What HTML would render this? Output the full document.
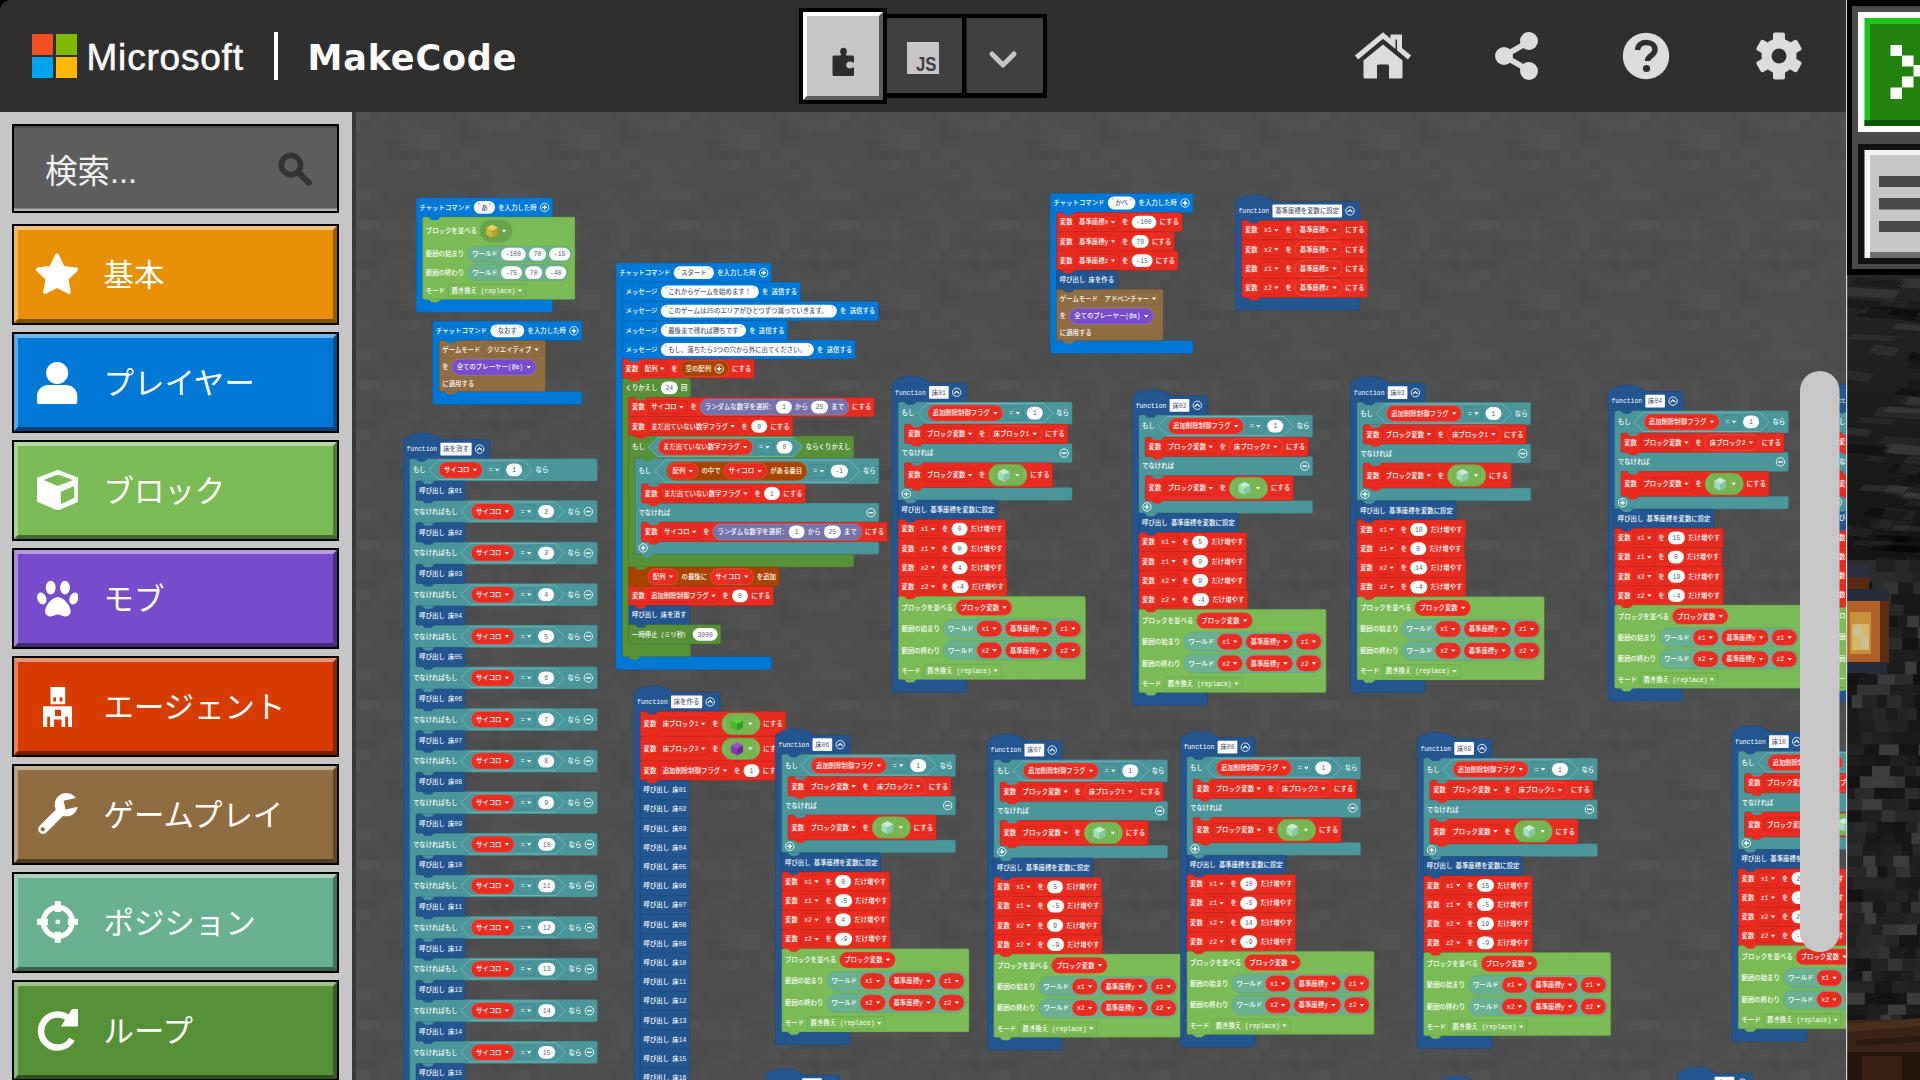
<!DOCTYPE html>
<html lang="ja">
<head>
<meta charset="utf-8">
<title>Microsoft MakeCode for Minecraft</title>
<style>
html,body{margin:0;padding:0;}
body{width:1920px;height:1080px;overflow:hidden;background:#4f4f4f;position:relative;font-family:"Liberation Sans","Noto Sans CJK JP",sans-serif;}
#ws{position:absolute;left:0;top:0;width:1920px;height:1080px;}
#ws text{font-family:"Liberation Mono","Noto Sans CJK JP",monospace;font-size:16px;fill:#fff;font-weight:500;}
#ws text.d{fill:#575e75;}
#ws text.q{fill:#e0554a;font-size:12px;}
#hdr{position:absolute;left:0;top:0;width:1846px;height:112px;background:#2f2f2f;}
#corner{position:absolute;left:0;top:0;width:10px;height:10px;background:radial-gradient(circle at 10px 10px,transparent 9.500px,#000 10px);}
.ms{position:absolute;width:21.400px;height:21px;}
#mstxt{position:absolute;left:86.500px;top:35.500px;font-size:37px;line-height:44px;color:#fff;letter-spacing:0.8px;font-family:"Liberation Sans",sans-serif;-webkit-text-stroke:0.5px #fff;}
#div{position:absolute;left:274px;top:32px;width:3.500px;height:48px;background:#fff;}
#mk{position:absolute;left:307.500px;top:35.500px;letter-spacing:0.85px;font-family:"DejaVu Sans",sans-serif;font-weight:bold;font-size:35px;line-height:44px;color:#fff;}
.hi{position:absolute;}
#side{position:absolute;left:0;top:112px;width:352px;height:968px;background:#c6c6c6;}
#strip{position:absolute;left:352px;top:112px;width:4px;height:968px;background:#393939;}
#search{position:absolute;left:12px;top:12px;width:323px;height:84.800px;border:2.500px solid #000;background:#5e5e5e;box-shadow:inset 0 2px 0 #4b4b4b, inset 0 -2.500px 0 #b2b2b2;}
#search span{position:absolute;left:31px;top:23px;font-size:32.500px;line-height:46px;color:#f0f0f0;font-family:"Liberation Sans","Noto Sans CJK JP",sans-serif;}
.cat{position:absolute;left:12px;width:323px;height:96.700px;border:2.500px solid #000;box-sizing:content-box;}
.cat:before{content:"";position:absolute;left:0;top:0;right:0;bottom:0;border-style:solid;border-width:4px;border-color:rgba(255,255,255,.45) rgba(0,0,0,.35) rgba(0,0,0,.45) rgba(255,255,255,.35);}
.cat span{position:absolute;left:89.600px;top:26.800px;font-size:30.400px;line-height:44px;color:#fff;white-space:nowrap;font-family:"Liberation Sans","Noto Sans CJK JP",sans-serif;}
.cat .ci{position:absolute;left:21px;top:26px;}
#right{position:absolute;left:1846px;top:0;width:74px;height:1080px;}
</style>
</head>
<body>
<svg id="ws" viewBox="0 0 1920 1080">
<defs><pattern id="tex" width="160" height="160" patternUnits="userSpaceOnUse"><rect width="160" height="160" fill="#4e4e4e"/><rect x="0" y="0" width="30" height="10" fill="#fff" opacity="0.01"/><rect x="40" y="0" width="10" height="10" fill="#fff" opacity="0.01"/><rect x="70" y="0" width="10" height="10" fill="#000" opacity="0.01"/><rect x="80" y="0" width="30" height="10" fill="#fff" opacity="0.01"/><rect x="90" y="0" width="10" height="10" fill="#fff" opacity="0.01"/><rect x="110" y="0" width="10" height="10" fill="#000" opacity="0.02"/><rect x="120" y="0" width="30" height="10" fill="#fff" opacity="0.01"/><rect x="150" y="0" width="30" height="10" fill="#000" opacity="0.02"/><rect x="10" y="10" width="10" height="10" fill="#fff" opacity="0.01"/><rect x="20" y="10" width="40" height="10" fill="#fff" opacity="0.01"/><rect x="40" y="10" width="20" height="10" fill="#000" opacity="0.02"/><rect x="150" y="10" width="10" height="10" fill="#fff" opacity="0.01"/><rect x="10" y="20" width="10" height="10" fill="#fff" opacity="0.01"/><rect x="20" y="20" width="20" height="10" fill="#fff" opacity="0.01"/><rect x="30" y="20" width="10" height="10" fill="#000" opacity="0.01"/><rect x="50" y="20" width="30" height="10" fill="#000" opacity="0.01"/><rect x="80" y="20" width="10" height="10" fill="#000" opacity="0.01"/><rect x="130" y="20" width="10" height="10" fill="#000" opacity="0.02"/><rect x="140" y="20" width="20" height="10" fill="#000" opacity="0.02"/><rect x="150" y="20" width="30" height="10" fill="#000" opacity="0.02"/><rect x="0" y="30" width="30" height="10" fill="#fff" opacity="0.01"/><rect x="20" y="30" width="20" height="10" fill="#fff" opacity="0.01"/><rect x="30" y="30" width="20" height="10" fill="#fff" opacity="0.01"/><rect x="40" y="30" width="20" height="10" fill="#fff" opacity="0.02"/><rect x="50" y="30" width="20" height="10" fill="#000" opacity="0.02"/><rect x="80" y="30" width="40" height="10" fill="#000" opacity="0.02"/><rect x="120" y="30" width="20" height="10" fill="#fff" opacity="0.01"/><rect x="130" y="30" width="30" height="10" fill="#000" opacity="0.02"/><rect x="140" y="30" width="10" height="10" fill="#fff" opacity="0.01"/><rect x="150" y="30" width="30" height="10" fill="#000" opacity="0.01"/><rect x="60" y="40" width="40" height="10" fill="#000" opacity="0.02"/><rect x="100" y="40" width="10" height="10" fill="#000" opacity="0.01"/><rect x="130" y="40" width="10" height="10" fill="#fff" opacity="0.01"/><rect x="0" y="50" width="20" height="10" fill="#fff" opacity="0.01"/><rect x="40" y="50" width="20" height="10" fill="#000" opacity="0.02"/><rect x="60" y="50" width="20" height="10" fill="#000" opacity="0.01"/><rect x="70" y="50" width="10" height="10" fill="#000" opacity="0.01"/><rect x="110" y="50" width="40" height="10" fill="#fff" opacity="0.01"/><rect x="20" y="60" width="40" height="10" fill="#fff" opacity="0.01"/><rect x="30" y="60" width="20" height="10" fill="#fff" opacity="0.01"/><rect x="40" y="60" width="40" height="10" fill="#fff" opacity="0.01"/><rect x="90" y="60" width="10" height="10" fill="#fff" opacity="0.01"/><rect x="120" y="60" width="10" height="10" fill="#000" opacity="0.01"/><rect x="140" y="60" width="20" height="10" fill="#fff" opacity="0.02"/><rect x="0" y="70" width="30" height="10" fill="#000" opacity="0.02"/><rect x="10" y="70" width="20" height="10" fill="#fff" opacity="0.01"/><rect x="30" y="70" width="20" height="10" fill="#000" opacity="0.01"/><rect x="60" y="70" width="10" height="10" fill="#fff" opacity="0.01"/><rect x="70" y="70" width="40" height="10" fill="#fff" opacity="0.01"/><rect x="90" y="70" width="10" height="10" fill="#fff" opacity="0.01"/><rect x="110" y="70" width="20" height="10" fill="#000" opacity="0.01"/><rect x="120" y="70" width="10" height="10" fill="#000" opacity="0.01"/><rect x="130" y="70" width="40" height="10" fill="#fff" opacity="0.01"/><rect x="140" y="70" width="10" height="10" fill="#fff" opacity="0.01"/><rect x="150" y="70" width="40" height="10" fill="#000" opacity="0.02"/><rect x="0" y="80" width="10" height="10" fill="#000" opacity="0.02"/><rect x="10" y="80" width="20" height="10" fill="#000" opacity="0.02"/><rect x="30" y="80" width="40" height="10" fill="#000" opacity="0.02"/><rect x="40" y="80" width="10" height="10" fill="#fff" opacity="0.01"/><rect x="70" y="80" width="10" height="10" fill="#000" opacity="0.02"/><rect x="80" y="80" width="30" height="10" fill="#000" opacity="0.02"/><rect x="90" y="80" width="20" height="10" fill="#fff" opacity="0.01"/><rect x="130" y="80" width="20" height="10" fill="#fff" opacity="0.01"/><rect x="140" y="80" width="30" height="10" fill="#fff" opacity="0.01"/><rect x="150" y="80" width="10" height="10" fill="#000" opacity="0.02"/><rect x="0" y="90" width="10" height="10" fill="#fff" opacity="0.01"/><rect x="20" y="90" width="10" height="10" fill="#fff" opacity="0.01"/><rect x="50" y="90" width="40" height="10" fill="#000" opacity="0.03"/><rect x="70" y="90" width="30" height="10" fill="#fff" opacity="0.01"/><rect x="120" y="90" width="10" height="10" fill="#fff" opacity="0.01"/><rect x="130" y="90" width="10" height="10" fill="#fff" opacity="0.01"/><rect x="150" y="90" width="30" height="10" fill="#fff" opacity="0.01"/><rect x="0" y="100" width="20" height="10" fill="#000" opacity="0.03"/><rect x="10" y="100" width="10" height="10" fill="#000" opacity="0.03"/><rect x="20" y="100" width="40" height="10" fill="#000" opacity="0.03"/><rect x="30" y="100" width="30" height="10" fill="#000" opacity="0.02"/><rect x="70" y="100" width="20" height="10" fill="#fff" opacity="0.01"/><rect x="110" y="100" width="10" height="10" fill="#fff" opacity="0.01"/><rect x="30" y="110" width="20" height="10" fill="#fff" opacity="0.01"/><rect x="40" y="110" width="30" height="10" fill="#fff" opacity="0.01"/><rect x="50" y="110" width="10" height="10" fill="#000" opacity="0.02"/><rect x="130" y="110" width="10" height="10" fill="#000" opacity="0.02"/><rect x="150" y="110" width="10" height="10" fill="#fff" opacity="0.01"/><rect x="0" y="120" width="10" height="10" fill="#fff" opacity="0.01"/><rect x="10" y="120" width="30" height="10" fill="#fff" opacity="0.01"/><rect x="30" y="120" width="10" height="10" fill="#fff" opacity="0.01"/><rect x="40" y="120" width="40" height="10" fill="#000" opacity="0.02"/><rect x="50" y="120" width="20" height="10" fill="#fff" opacity="0.01"/><rect x="60" y="120" width="20" height="10" fill="#000" opacity="0.02"/><rect x="80" y="120" width="20" height="10" fill="#fff" opacity="0.01"/><rect x="90" y="120" width="10" height="10" fill="#000" opacity="0.01"/><rect x="110" y="120" width="30" height="10" fill="#000" opacity="0.01"/><rect x="140" y="120" width="30" height="10" fill="#000" opacity="0.02"/><rect x="150" y="120" width="40" height="10" fill="#fff" opacity="0.01"/><rect x="10" y="130" width="40" height="10" fill="#000" opacity="0.02"/><rect x="30" y="130" width="20" height="10" fill="#fff" opacity="0.01"/><rect x="60" y="130" width="40" height="10" fill="#000" opacity="0.01"/><rect x="80" y="130" width="40" height="10" fill="#fff" opacity="0.01"/><rect x="90" y="130" width="20" height="10" fill="#fff" opacity="0.01"/><rect x="110" y="130" width="30" height="10" fill="#fff" opacity="0.01"/><rect x="120" y="130" width="40" height="10" fill="#000" opacity="0.02"/><rect x="130" y="130" width="20" height="10" fill="#000" opacity="0.02"/><rect x="140" y="130" width="20" height="10" fill="#000" opacity="0.02"/><rect x="20" y="140" width="10" height="10" fill="#000" opacity="0.01"/><rect x="30" y="140" width="10" height="10" fill="#000" opacity="0.01"/><rect x="60" y="140" width="20" height="10" fill="#000" opacity="0.03"/><rect x="70" y="140" width="10" height="10" fill="#000" opacity="0.01"/><rect x="90" y="140" width="30" height="10" fill="#fff" opacity="0.01"/><rect x="100" y="140" width="40" height="10" fill="#fff" opacity="0.01"/><rect x="120" y="140" width="40" height="10" fill="#000" opacity="0.02"/><rect x="60" y="150" width="30" height="10" fill="#000" opacity="0.01"/><rect x="70" y="150" width="30" height="10" fill="#000" opacity="0.02"/><rect x="80" y="150" width="40" height="10" fill="#000" opacity="0.02"/><rect x="120" y="150" width="10" height="10" fill="#fff" opacity="0.01"/><rect x="130" y="150" width="10" height="10" fill="#000" opacity="0.02"/><rect x="140" y="150" width="30" height="10" fill="#fff" opacity="0.02"/></pattern>
<clipPath id="wsclip"><rect x="356" y="112" width="1490" height="968"/></clipPath>
</defs>
<rect x="356" y="112" width="1490" height="968" fill="url(#tex)"/>
<g clip-path="url(#wsclip)">
<g transform="scale(0.4)">
<path d="M1040.5,498.5 a4,4 0 0 1 4,-4 H1377.5 a4,4 0 0 1 4,4 V538.5 a4,4 0 0 1 -4,4 H1060.5 a4,4 0 0 0 -4,4 V744.5 a4,4 0 0 0 4,4 H1377.5 a4,4 0 0 1 4,4 V776.5 a4,4 0 0 1 -4,4 H1044.5 a4,4 0 0 1 -4,-4 z" fill="#0078d7" stroke="#0060ac" stroke-width="1"/>
<text x="1048.5" y="524.1">チャットコマンド</text>
<rect x="1184.5" y="502.5" width="53" height="32" rx="16" fill="#fff"/>
<text x="1203" y="524.1" class="d">あ</text>
<text x="1193.5" y="516.5" class="q">"</text>
<text x="1222.5" y="516.5" class="q">"</text>
<text x="1245.5" y="524.1">を入力した時</text>
<circle cx="1361.5" cy="518.5" r="10.5" fill="none" stroke="#fff" stroke-width="2.2"/>
<path d="M1355.5,518.5 h12 M1361.5,512.5 v12" stroke="#fff" stroke-width="3.6" fill="none"/>
<rect x="1056.5" y="542.5" width="380.9" height="206" rx="4" fill="#7abb55" stroke="#629644" stroke-width="1"/>
<text x="1064.5" y="583.1">ブロックを並べる</text>
<rect x="1200.5" y="550.5" width="80" height="54" rx="27" fill="#6aa34a" stroke="#689f48" stroke-width="1"/>
<path d="M1215.5,569.5 l15,-8 l15,8 l-15,8 z" fill="#e6d552"/>
<path d="M1215.5,569.5 l15,8 v17 l-15,-8 z" fill="#cdb93c"/>
<path d="M1230.5,577.5 l15,-8 v17 l-15,8 z" fill="#b8a22a"/>
<path d="M1254.5,574.5 h11 l-5.5,6.5 z" fill="#fff"/>
<text x="1064.5" y="641.1">範囲の始まり</text>
<rect x="1168.5" y="615.5" width="260.9" height="40" rx="20" fill="#69b090" stroke="#5a9c7e" stroke-width="1"/>
<text x="1180.5" y="641.1">ワールド</text>
<rect x="1252.5" y="619.5" width="61.9" height="32" rx="16" fill="#fff"/>
<text x="1283.45" y="641.1" text-anchor="middle" class="d">-100</text>
<rect x="1322.4" y="619.5" width="42.7" height="32" rx="16" fill="#fff"/>
<text x="1343.75" y="641.1" text-anchor="middle" class="d">70</text>
<rect x="1373.1" y="619.5" width="52.3" height="32" rx="16" fill="#fff"/>
<text x="1399.25" y="641.1" text-anchor="middle" class="d">-15</text>
<text x="1064.5" y="687.1">範囲の終わり</text>
<rect x="1168.5" y="661.5" width="251.3" height="40" rx="20" fill="#69b090" stroke="#5a9c7e" stroke-width="1"/>
<text x="1180.5" y="687.1">ワールド</text>
<rect x="1252.5" y="665.5" width="52.3" height="32" rx="16" fill="#fff"/>
<text x="1278.65" y="687.1" text-anchor="middle" class="d">-75</text>
<rect x="1312.8" y="665.5" width="42.7" height="32" rx="16" fill="#fff"/>
<text x="1334.15" y="687.1" text-anchor="middle" class="d">70</text>
<rect x="1363.5" y="665.5" width="52.3" height="32" rx="16" fill="#fff"/>
<text x="1389.65" y="687.1" text-anchor="middle" class="d">-40</text>
<text x="1064.5" y="732.1">モード</text>
<rect x="1120.5" y="710.5" width="194" height="32" rx="4" fill="none" stroke="#649946" stroke-width="1.2"/>
<text x="1128.5" y="732.1">置き換え (replace)</text>
<path d="M1294.5,723.5 h11 l-5.5,6.5 z" fill="#fff"/>
<path d="M1081.75,807 a4,4 0 0 1 4,-4 H1450.75 a4,4 0 0 1 4,4 V847 a4,4 0 0 1 -4,4 H1101.75 a4,4 0 0 0 -4,4 V975 a4,4 0 0 0 4,4 H1450.75 a4,4 0 0 1 4,4 V1007 a4,4 0 0 1 -4,4 H1085.75 a4,4 0 0 1 -4,-4 z" fill="#0078d7" stroke="#0060ac" stroke-width="1"/>
<text x="1089.75" y="832.6">チャットコマンド</text>
<rect x="1225.75" y="811" width="85" height="32" rx="16" fill="#fff"/>
<text x="1244.25" y="832.6" class="d">なおす</text>
<text x="1234.75" y="825" class="q">"</text>
<text x="1295.75" y="825" class="q">"</text>
<text x="1318.75" y="832.6">を入力した時</text>
<circle cx="1434.75" cy="827" r="10.5" fill="none" stroke="#fff" stroke-width="2.2"/>
<path d="M1428.75,827 h12 M1434.75,821 v12" stroke="#fff" stroke-width="3.6" fill="none"/>
<rect x="1097.75" y="851" width="266" height="128" rx="4" fill="#8f6d40" stroke="#725733" stroke-width="1"/>
<text x="1105.75" y="879.6">ゲームモード</text>
<rect x="1209.75" y="858" width="146" height="32" rx="4" fill="none" stroke="#755934" stroke-width="1.2"/>
<text x="1217.75" y="879.6">クリエイティブ</text>
<path d="M1335.75,871 h11 l-5.5,6.5 z" fill="#fff"/>
<text x="1105.75" y="923.6">を</text>
<rect x="1129.75" y="898" width="210.4" height="40" rx="20" fill="#764bcc" stroke="#a68ade" stroke-width="1"/>
<text x="1141.75" y="923.6">全てのプレーヤー(@a)</text>
<path d="M1316.15,915 h11 l-5.5,6.5 z" fill="#fff"/>
<text x="1105.75" y="964.6">に適用する</text>
<path d="M1008.25,1098.75 c25,-22 71,-22 96,0 H1220.05 a4,4 0 0 1 4,4 V1142.75 a4,4 0 0 1 -4,4 H1028.25 a4,4 0 0 0 -4,4 V3774.75 a4,4 0 0 0 4,4 H1220.05 a4,4 0 0 1 4,4 V3806.75 a4,4 0 0 1 -4,4 H1012.25 a4,4 0 0 1 -4,-4 z" fill="#235591" stroke="#1c4474" stroke-width="1"/>
<text x="1016.25" y="1128.35">function</text>
<rect x="1101.05" y="1106.75" width="78" height="32" rx="2" fill="#fff"/>
<text x="1108.05" y="1128.35" class="d">床を消す</text>
<circle cx="1199.05" cy="1122.75" r="10.5" fill="none" stroke="#fff" stroke-width="2.2"/>
<path d="M1193.05,1125.75 l6,-6 l6,6" stroke="#fff" stroke-width="3" fill="none"/>
<path d="M1024.25,1150.75 a4,4 0 0 1 4,-4 H1489.55 a4,4 0 0 1 4,4 V1198.75 a4,4 0 0 1 -4,4 H1044.25 a4,4 0 0 0 -4,4 V1246.75 a4,4 0 0 0 4,4 H1489.55 a4,4 0 0 1 4,4 V1302.75 a4,4 0 0 1 -4,4 H1044.25 a4,4 0 0 0 -4,4 V1350.75 a4,4 0 0 0 4,4 H1489.55 a4,4 0 0 1 4,4 V1406.75 a4,4 0 0 1 -4,4 H1044.25 a4,4 0 0 0 -4,4 V1454.75 a4,4 0 0 0 4,4 H1489.55 a4,4 0 0 1 4,4 V1510.75 a4,4 0 0 1 -4,4 H1044.25 a4,4 0 0 0 -4,4 V1558.75 a4,4 0 0 0 4,4 H1489.55 a4,4 0 0 1 4,4 V1614.75 a4,4 0 0 1 -4,4 H1044.25 a4,4 0 0 0 -4,4 V1662.75 a4,4 0 0 0 4,4 H1489.55 a4,4 0 0 1 4,4 V1718.75 a4,4 0 0 1 -4,4 H1044.25 a4,4 0 0 0 -4,4 V1766.75 a4,4 0 0 0 4,4 H1489.55 a4,4 0 0 1 4,4 V1822.75 a4,4 0 0 1 -4,4 H1044.25 a4,4 0 0 0 -4,4 V1870.75 a4,4 0 0 0 4,4 H1489.55 a4,4 0 0 1 4,4 V1926.75 a4,4 0 0 1 -4,4 H1044.25 a4,4 0 0 0 -4,4 V1974.75 a4,4 0 0 0 4,4 H1489.55 a4,4 0 0 1 4,4 V2030.75 a4,4 0 0 1 -4,4 H1044.25 a4,4 0 0 0 -4,4 V2078.75 a4,4 0 0 0 4,4 H1489.55 a4,4 0 0 1 4,4 V2134.75 a4,4 0 0 1 -4,4 H1044.25 a4,4 0 0 0 -4,4 V2182.75 a4,4 0 0 0 4,4 H1489.55 a4,4 0 0 1 4,4 V2238.75 a4,4 0 0 1 -4,4 H1044.25 a4,4 0 0 0 -4,4 V2286.75 a4,4 0 0 0 4,4 H1489.55 a4,4 0 0 1 4,4 V2342.75 a4,4 0 0 1 -4,4 H1044.25 a4,4 0 0 0 -4,4 V2390.75 a4,4 0 0 0 4,4 H1489.55 a4,4 0 0 1 4,4 V2446.75 a4,4 0 0 1 -4,4 H1044.25 a4,4 0 0 0 -4,4 V2494.75 a4,4 0 0 0 4,4 H1489.55 a4,4 0 0 1 4,4 V2550.75 a4,4 0 0 1 -4,4 H1044.25 a4,4 0 0 0 -4,4 V2598.75 a4,4 0 0 0 4,4 H1489.55 a4,4 0 0 1 4,4 V2654.75 a4,4 0 0 1 -4,4 H1044.25 a4,4 0 0 0 -4,4 V2702.75 a4,4 0 0 0 4,4 H1489.55 a4,4 0 0 1 4,4 V2758.75 a4,4 0 0 1 -4,4 H1044.25 a4,4 0 0 0 -4,4 V2806.75 a4,4 0 0 0 4,4 H1489.55 a4,4 0 0 1 4,4 V2862.75 a4,4 0 0 1 -4,4 H1044.25 a4,4 0 0 0 -4,4 V2910.75 a4,4 0 0 0 4,4 H1489.55 a4,4 0 0 1 4,4 V2966.75 a4,4 0 0 1 -4,4 H1044.25 a4,4 0 0 0 -4,4 V3014.75 a4,4 0 0 0 4,4 H1489.55 a4,4 0 0 1 4,4 V3070.75 a4,4 0 0 1 -4,4 H1044.25 a4,4 0 0 0 -4,4 V3118.75 a4,4 0 0 0 4,4 H1489.55 a4,4 0 0 1 4,4 V3174.75 a4,4 0 0 1 -4,4 H1044.25 a4,4 0 0 0 -4,4 V3222.75 a4,4 0 0 0 4,4 H1489.55 a4,4 0 0 1 4,4 V3278.75 a4,4 0 0 1 -4,4 H1044.25 a4,4 0 0 0 -4,4 V3326.75 a4,4 0 0 0 4,4 H1489.55 a4,4 0 0 1 4,4 V3382.75 a4,4 0 0 1 -4,4 H1044.25 a4,4 0 0 0 -4,4 V3430.75 a4,4 0 0 0 4,4 H1489.55 a4,4 0 0 1 4,4 V3486.75 a4,4 0 0 1 -4,4 H1044.25 a4,4 0 0 0 -4,4 V3534.75 a4,4 0 0 0 4,4 H1489.55 a4,4 0 0 1 4,4 V3590.75 a4,4 0 0 1 -4,4 H1044.25 a4,4 0 0 0 -4,4 V3638.75 a4,4 0 0 0 4,4 H1489.55 a4,4 0 0 1 4,4 V3694.75 a4,4 0 0 1 -4,4 H1044.25 a4,4 0 0 0 -4,4 V3742.75 a4,4 0 0 0 4,4 H1489.55 a4,4 0 0 1 4,4 V3774.75 a4,4 0 0 1 -4,4 H1028.25 a4,4 0 0 1 -4,-4 z" fill="#4b969b" stroke="#3c787c" stroke-width="1"/>
<text x="1032.25" y="1180.35">もし</text>
<path d="M1072.25,1174.75 l24,-24 H1306.85 l24,24 l-24,24 H1096.25 z" fill="#4b969b" stroke="#8cc6ca" stroke-width="1.5"/>
<rect x="1097.75" y="1154.75" width="108" height="40" rx="20" fill="#ea2b1f" stroke="#f1756d" stroke-width="1"/>
<text x="1109.75" y="1180.35">サイコロ</text>
<path d="M1181.75,1171.75 h11 l-5.5,6.5 z" fill="#fff"/>
<rect x="1213.75" y="1158.75" width="43.6" height="32" rx="4" fill="none" stroke="#3e7b7f" stroke-width="1.2"/>
<text x="1221.75" y="1180.35">=</text>
<path d="M1237.35,1171.75 h11 l-5.5,6.5 z" fill="#fff"/>
<rect x="1265.35" y="1158.75" width="40" height="32" rx="16" fill="#fff"/>
<text x="1285.35" y="1180.35" text-anchor="middle" class="d">1</text>
<text x="1338.85" y="1180.35">なら</text>
<rect x="1040.25" y="1202.75" width="123.2" height="48" rx="4" fill="#235591" stroke="#1c4474" stroke-width="1"/>
<text x="1048.25" y="1232.35">呼び出し</text>
<text x="1120.25" y="1232.35">床01</text>
<text x="1032.25" y="1284.35">でなければもし</text>
<path d="M1152.25,1278.75 l24,-24 H1386.85 l24,24 l-24,24 H1176.25 z" fill="#4b969b" stroke="#8cc6ca" stroke-width="1.5"/>
<rect x="1177.75" y="1258.75" width="108" height="40" rx="20" fill="#ea2b1f" stroke="#f1756d" stroke-width="1"/>
<text x="1189.75" y="1284.35">サイコロ</text>
<path d="M1261.75,1275.75 h11 l-5.5,6.5 z" fill="#fff"/>
<rect x="1293.75" y="1262.75" width="43.6" height="32" rx="4" fill="none" stroke="#3e7b7f" stroke-width="1.2"/>
<text x="1301.75" y="1284.35">=</text>
<path d="M1317.35,1275.75 h11 l-5.5,6.5 z" fill="#fff"/>
<rect x="1345.35" y="1262.75" width="40" height="32" rx="16" fill="#fff"/>
<text x="1365.35" y="1284.35" text-anchor="middle" class="d">2</text>
<text x="1418.85" y="1284.35">なら</text>
<circle cx="1470.85" cy="1278.75" r="10.5" fill="none" stroke="#fff" stroke-width="2.2"/>
<path d="M1464.85,1278.75 h12" stroke="#fff" stroke-width="3.6" fill="none"/>
<rect x="1040.25" y="1306.75" width="123.2" height="48" rx="4" fill="#235591" stroke="#1c4474" stroke-width="1"/>
<text x="1048.25" y="1336.35">呼び出し</text>
<text x="1120.25" y="1336.35">床02</text>
<text x="1032.25" y="1388.35">でなければもし</text>
<path d="M1152.25,1382.75 l24,-24 H1386.85 l24,24 l-24,24 H1176.25 z" fill="#4b969b" stroke="#8cc6ca" stroke-width="1.5"/>
<rect x="1177.75" y="1362.75" width="108" height="40" rx="20" fill="#ea2b1f" stroke="#f1756d" stroke-width="1"/>
<text x="1189.75" y="1388.35">サイコロ</text>
<path d="M1261.75,1379.75 h11 l-5.5,6.5 z" fill="#fff"/>
<rect x="1293.75" y="1366.75" width="43.6" height="32" rx="4" fill="none" stroke="#3e7b7f" stroke-width="1.2"/>
<text x="1301.75" y="1388.35">=</text>
<path d="M1317.35,1379.75 h11 l-5.5,6.5 z" fill="#fff"/>
<rect x="1345.35" y="1366.75" width="40" height="32" rx="16" fill="#fff"/>
<text x="1365.35" y="1388.35" text-anchor="middle" class="d">3</text>
<text x="1418.85" y="1388.35">なら</text>
<circle cx="1470.85" cy="1382.75" r="10.5" fill="none" stroke="#fff" stroke-width="2.2"/>
<path d="M1464.85,1382.75 h12" stroke="#fff" stroke-width="3.6" fill="none"/>
<rect x="1040.25" y="1410.75" width="123.2" height="48" rx="4" fill="#235591" stroke="#1c4474" stroke-width="1"/>
<text x="1048.25" y="1440.35">呼び出し</text>
<text x="1120.25" y="1440.35">床03</text>
<text x="1032.25" y="1492.35">でなければもし</text>
<path d="M1152.25,1486.75 l24,-24 H1386.85 l24,24 l-24,24 H1176.25 z" fill="#4b969b" stroke="#8cc6ca" stroke-width="1.5"/>
<rect x="1177.75" y="1466.75" width="108" height="40" rx="20" fill="#ea2b1f" stroke="#f1756d" stroke-width="1"/>
<text x="1189.75" y="1492.35">サイコロ</text>
<path d="M1261.75,1483.75 h11 l-5.5,6.5 z" fill="#fff"/>
<rect x="1293.75" y="1470.75" width="43.6" height="32" rx="4" fill="none" stroke="#3e7b7f" stroke-width="1.2"/>
<text x="1301.75" y="1492.35">=</text>
<path d="M1317.35,1483.75 h11 l-5.5,6.5 z" fill="#fff"/>
<rect x="1345.35" y="1470.75" width="40" height="32" rx="16" fill="#fff"/>
<text x="1365.35" y="1492.35" text-anchor="middle" class="d">4</text>
<text x="1418.85" y="1492.35">なら</text>
<circle cx="1470.85" cy="1486.75" r="10.5" fill="none" stroke="#fff" stroke-width="2.2"/>
<path d="M1464.85,1486.75 h12" stroke="#fff" stroke-width="3.6" fill="none"/>
<rect x="1040.25" y="1514.75" width="123.2" height="48" rx="4" fill="#235591" stroke="#1c4474" stroke-width="1"/>
<text x="1048.25" y="1544.35">呼び出し</text>
<text x="1120.25" y="1544.35">床04</text>
<text x="1032.25" y="1596.35">でなければもし</text>
<path d="M1152.25,1590.75 l24,-24 H1386.85 l24,24 l-24,24 H1176.25 z" fill="#4b969b" stroke="#8cc6ca" stroke-width="1.5"/>
<rect x="1177.75" y="1570.75" width="108" height="40" rx="20" fill="#ea2b1f" stroke="#f1756d" stroke-width="1"/>
<text x="1189.75" y="1596.35">サイコロ</text>
<path d="M1261.75,1587.75 h11 l-5.5,6.5 z" fill="#fff"/>
<rect x="1293.75" y="1574.75" width="43.6" height="32" rx="4" fill="none" stroke="#3e7b7f" stroke-width="1.2"/>
<text x="1301.75" y="1596.35">=</text>
<path d="M1317.35,1587.75 h11 l-5.5,6.5 z" fill="#fff"/>
<rect x="1345.35" y="1574.75" width="40" height="32" rx="16" fill="#fff"/>
<text x="1365.35" y="1596.35" text-anchor="middle" class="d">5</text>
<text x="1418.85" y="1596.35">なら</text>
<circle cx="1470.85" cy="1590.75" r="10.5" fill="none" stroke="#fff" stroke-width="2.2"/>
<path d="M1464.85,1590.75 h12" stroke="#fff" stroke-width="3.6" fill="none"/>
<rect x="1040.25" y="1618.75" width="123.2" height="48" rx="4" fill="#235591" stroke="#1c4474" stroke-width="1"/>
<text x="1048.25" y="1648.35">呼び出し</text>
<text x="1120.25" y="1648.35">床05</text>
<text x="1032.25" y="1700.35">でなければもし</text>
<path d="M1152.25,1694.75 l24,-24 H1386.85 l24,24 l-24,24 H1176.25 z" fill="#4b969b" stroke="#8cc6ca" stroke-width="1.5"/>
<rect x="1177.75" y="1674.75" width="108" height="40" rx="20" fill="#ea2b1f" stroke="#f1756d" stroke-width="1"/>
<text x="1189.75" y="1700.35">サイコロ</text>
<path d="M1261.75,1691.75 h11 l-5.5,6.5 z" fill="#fff"/>
<rect x="1293.75" y="1678.75" width="43.6" height="32" rx="4" fill="none" stroke="#3e7b7f" stroke-width="1.2"/>
<text x="1301.75" y="1700.35">=</text>
<path d="M1317.35,1691.75 h11 l-5.5,6.5 z" fill="#fff"/>
<rect x="1345.35" y="1678.75" width="40" height="32" rx="16" fill="#fff"/>
<text x="1365.35" y="1700.35" text-anchor="middle" class="d">6</text>
<text x="1418.85" y="1700.35">なら</text>
<circle cx="1470.85" cy="1694.75" r="10.5" fill="none" stroke="#fff" stroke-width="2.2"/>
<path d="M1464.85,1694.75 h12" stroke="#fff" stroke-width="3.6" fill="none"/>
<rect x="1040.25" y="1722.75" width="123.2" height="48" rx="4" fill="#235591" stroke="#1c4474" stroke-width="1"/>
<text x="1048.25" y="1752.35">呼び出し</text>
<text x="1120.25" y="1752.35">床06</text>
<text x="1032.25" y="1804.35">でなければもし</text>
<path d="M1152.25,1798.75 l24,-24 H1386.85 l24,24 l-24,24 H1176.25 z" fill="#4b969b" stroke="#8cc6ca" stroke-width="1.5"/>
<rect x="1177.75" y="1778.75" width="108" height="40" rx="20" fill="#ea2b1f" stroke="#f1756d" stroke-width="1"/>
<text x="1189.75" y="1804.35">サイコロ</text>
<path d="M1261.75,1795.75 h11 l-5.5,6.5 z" fill="#fff"/>
<rect x="1293.75" y="1782.75" width="43.6" height="32" rx="4" fill="none" stroke="#3e7b7f" stroke-width="1.2"/>
<text x="1301.75" y="1804.35">=</text>
<path d="M1317.35,1795.75 h11 l-5.5,6.5 z" fill="#fff"/>
<rect x="1345.35" y="1782.75" width="40" height="32" rx="16" fill="#fff"/>
<text x="1365.35" y="1804.35" text-anchor="middle" class="d">7</text>
<text x="1418.85" y="1804.35">なら</text>
<circle cx="1470.85" cy="1798.75" r="10.5" fill="none" stroke="#fff" stroke-width="2.2"/>
<path d="M1464.85,1798.75 h12" stroke="#fff" stroke-width="3.6" fill="none"/>
<rect x="1040.25" y="1826.75" width="123.2" height="48" rx="4" fill="#235591" stroke="#1c4474" stroke-width="1"/>
<text x="1048.25" y="1856.35">呼び出し</text>
<text x="1120.25" y="1856.35">床07</text>
<text x="1032.25" y="1908.35">でなければもし</text>
<path d="M1152.25,1902.75 l24,-24 H1386.85 l24,24 l-24,24 H1176.25 z" fill="#4b969b" stroke="#8cc6ca" stroke-width="1.5"/>
<rect x="1177.75" y="1882.75" width="108" height="40" rx="20" fill="#ea2b1f" stroke="#f1756d" stroke-width="1"/>
<text x="1189.75" y="1908.35">サイコロ</text>
<path d="M1261.75,1899.75 h11 l-5.5,6.5 z" fill="#fff"/>
<rect x="1293.75" y="1886.75" width="43.6" height="32" rx="4" fill="none" stroke="#3e7b7f" stroke-width="1.2"/>
<text x="1301.75" y="1908.35">=</text>
<path d="M1317.35,1899.75 h11 l-5.5,6.5 z" fill="#fff"/>
<rect x="1345.35" y="1886.75" width="40" height="32" rx="16" fill="#fff"/>
<text x="1365.35" y="1908.35" text-anchor="middle" class="d">8</text>
<text x="1418.85" y="1908.35">なら</text>
<circle cx="1470.85" cy="1902.75" r="10.5" fill="none" stroke="#fff" stroke-width="2.2"/>
<path d="M1464.85,1902.75 h12" stroke="#fff" stroke-width="3.6" fill="none"/>
<rect x="1040.25" y="1930.75" width="123.2" height="48" rx="4" fill="#235591" stroke="#1c4474" stroke-width="1"/>
<text x="1048.25" y="1960.35">呼び出し</text>
<text x="1120.25" y="1960.35">床08</text>
<text x="1032.25" y="2012.35">でなければもし</text>
<path d="M1152.25,2006.75 l24,-24 H1386.85 l24,24 l-24,24 H1176.25 z" fill="#4b969b" stroke="#8cc6ca" stroke-width="1.5"/>
<rect x="1177.75" y="1986.75" width="108" height="40" rx="20" fill="#ea2b1f" stroke="#f1756d" stroke-width="1"/>
<text x="1189.75" y="2012.35">サイコロ</text>
<path d="M1261.75,2003.75 h11 l-5.5,6.5 z" fill="#fff"/>
<rect x="1293.75" y="1990.75" width="43.6" height="32" rx="4" fill="none" stroke="#3e7b7f" stroke-width="1.2"/>
<text x="1301.75" y="2012.35">=</text>
<path d="M1317.35,2003.75 h11 l-5.5,6.5 z" fill="#fff"/>
<rect x="1345.35" y="1990.75" width="40" height="32" rx="16" fill="#fff"/>
<text x="1365.35" y="2012.35" text-anchor="middle" class="d">9</text>
<text x="1418.85" y="2012.35">なら</text>
<circle cx="1470.85" cy="2006.75" r="10.5" fill="none" stroke="#fff" stroke-width="2.2"/>
<path d="M1464.85,2006.75 h12" stroke="#fff" stroke-width="3.6" fill="none"/>
<rect x="1040.25" y="2034.75" width="123.2" height="48" rx="4" fill="#235591" stroke="#1c4474" stroke-width="1"/>
<text x="1048.25" y="2064.35">呼び出し</text>
<text x="1120.25" y="2064.35">床09</text>
<text x="1032.25" y="2116.35">でなければもし</text>
<path d="M1152.25,2110.75 l24,-24 H1389.55 l24,24 l-24,24 H1176.25 z" fill="#4b969b" stroke="#8cc6ca" stroke-width="1.5"/>
<rect x="1177.75" y="2090.75" width="108" height="40" rx="20" fill="#ea2b1f" stroke="#f1756d" stroke-width="1"/>
<text x="1189.75" y="2116.35">サイコロ</text>
<path d="M1261.75,2107.75 h11 l-5.5,6.5 z" fill="#fff"/>
<rect x="1293.75" y="2094.75" width="43.6" height="32" rx="4" fill="none" stroke="#3e7b7f" stroke-width="1.2"/>
<text x="1301.75" y="2116.35">=</text>
<path d="M1317.35,2107.75 h11 l-5.5,6.5 z" fill="#fff"/>
<rect x="1345.35" y="2094.75" width="42.7" height="32" rx="16" fill="#fff"/>
<text x="1366.7" y="2116.35" text-anchor="middle" class="d">10</text>
<text x="1421.55" y="2116.35">なら</text>
<circle cx="1473.55" cy="2110.75" r="10.5" fill="none" stroke="#fff" stroke-width="2.2"/>
<path d="M1467.55,2110.75 h12" stroke="#fff" stroke-width="3.6" fill="none"/>
<rect x="1040.25" y="2138.75" width="123.2" height="48" rx="4" fill="#235591" stroke="#1c4474" stroke-width="1"/>
<text x="1048.25" y="2168.35">呼び出し</text>
<text x="1120.25" y="2168.35">床10</text>
<text x="1032.25" y="2220.35">でなければもし</text>
<path d="M1152.25,2214.75 l24,-24 H1389.55 l24,24 l-24,24 H1176.25 z" fill="#4b969b" stroke="#8cc6ca" stroke-width="1.5"/>
<rect x="1177.75" y="2194.75" width="108" height="40" rx="20" fill="#ea2b1f" stroke="#f1756d" stroke-width="1"/>
<text x="1189.75" y="2220.35">サイコロ</text>
<path d="M1261.75,2211.75 h11 l-5.5,6.5 z" fill="#fff"/>
<rect x="1293.75" y="2198.75" width="43.6" height="32" rx="4" fill="none" stroke="#3e7b7f" stroke-width="1.2"/>
<text x="1301.75" y="2220.35">=</text>
<path d="M1317.35,2211.75 h11 l-5.5,6.5 z" fill="#fff"/>
<rect x="1345.35" y="2198.75" width="42.7" height="32" rx="16" fill="#fff"/>
<text x="1366.7" y="2220.35" text-anchor="middle" class="d">11</text>
<text x="1421.55" y="2220.35">なら</text>
<circle cx="1473.55" cy="2214.75" r="10.5" fill="none" stroke="#fff" stroke-width="2.2"/>
<path d="M1467.55,2214.75 h12" stroke="#fff" stroke-width="3.6" fill="none"/>
<rect x="1040.25" y="2242.75" width="123.2" height="48" rx="4" fill="#235591" stroke="#1c4474" stroke-width="1"/>
<text x="1048.25" y="2272.35">呼び出し</text>
<text x="1120.25" y="2272.35">床11</text>
<text x="1032.25" y="2324.35">でなければもし</text>
<path d="M1152.25,2318.75 l24,-24 H1389.55 l24,24 l-24,24 H1176.25 z" fill="#4b969b" stroke="#8cc6ca" stroke-width="1.5"/>
<rect x="1177.75" y="2298.75" width="108" height="40" rx="20" fill="#ea2b1f" stroke="#f1756d" stroke-width="1"/>
<text x="1189.75" y="2324.35">サイコロ</text>
<path d="M1261.75,2315.75 h11 l-5.5,6.5 z" fill="#fff"/>
<rect x="1293.75" y="2302.75" width="43.6" height="32" rx="4" fill="none" stroke="#3e7b7f" stroke-width="1.2"/>
<text x="1301.75" y="2324.35">=</text>
<path d="M1317.35,2315.75 h11 l-5.5,6.5 z" fill="#fff"/>
<rect x="1345.35" y="2302.75" width="42.7" height="32" rx="16" fill="#fff"/>
<text x="1366.7" y="2324.35" text-anchor="middle" class="d">12</text>
<text x="1421.55" y="2324.35">なら</text>
<circle cx="1473.55" cy="2318.75" r="10.5" fill="none" stroke="#fff" stroke-width="2.2"/>
<path d="M1467.55,2318.75 h12" stroke="#fff" stroke-width="3.6" fill="none"/>
<rect x="1040.25" y="2346.75" width="123.2" height="48" rx="4" fill="#235591" stroke="#1c4474" stroke-width="1"/>
<text x="1048.25" y="2376.35">呼び出し</text>
<text x="1120.25" y="2376.35">床12</text>
<text x="1032.25" y="2428.35">でなければもし</text>
<path d="M1152.25,2422.75 l24,-24 H1389.55 l24,24 l-24,24 H1176.25 z" fill="#4b969b" stroke="#8cc6ca" stroke-width="1.5"/>
<rect x="1177.75" y="2402.75" width="108" height="40" rx="20" fill="#ea2b1f" stroke="#f1756d" stroke-width="1"/>
<text x="1189.75" y="2428.35">サイコロ</text>
<path d="M1261.75,2419.75 h11 l-5.5,6.5 z" fill="#fff"/>
<rect x="1293.75" y="2406.75" width="43.6" height="32" rx="4" fill="none" stroke="#3e7b7f" stroke-width="1.2"/>
<text x="1301.75" y="2428.35">=</text>
<path d="M1317.35,2419.75 h11 l-5.5,6.5 z" fill="#fff"/>
<rect x="1345.35" y="2406.75" width="42.7" height="32" rx="16" fill="#fff"/>
<text x="1366.7" y="2428.35" text-anchor="middle" class="d">13</text>
<text x="1421.55" y="2428.35">なら</text>
<circle cx="1473.55" cy="2422.75" r="10.5" fill="none" stroke="#fff" stroke-width="2.2"/>
<path d="M1467.55,2422.75 h12" stroke="#fff" stroke-width="3.6" fill="none"/>
<rect x="1040.25" y="2450.75" width="123.2" height="48" rx="4" fill="#235591" stroke="#1c4474" stroke-width="1"/>
<text x="1048.25" y="2480.35">呼び出し</text>
<text x="1120.25" y="2480.35">床13</text>
<text x="1032.25" y="2532.35">でなければもし</text>
<path d="M1152.25,2526.75 l24,-24 H1389.55 l24,24 l-24,24 H1176.25 z" fill="#4b969b" stroke="#8cc6ca" stroke-width="1.5"/>
<rect x="1177.75" y="2506.75" width="108" height="40" rx="20" fill="#ea2b1f" stroke="#f1756d" stroke-width="1"/>
<text x="1189.75" y="2532.35">サイコロ</text>
<path d="M1261.75,2523.75 h11 l-5.5,6.5 z" fill="#fff"/>
<rect x="1293.75" y="2510.75" width="43.6" height="32" rx="4" fill="none" stroke="#3e7b7f" stroke-width="1.2"/>
<text x="1301.75" y="2532.35">=</text>
<path d="M1317.35,2523.75 h11 l-5.5,6.5 z" fill="#fff"/>
<rect x="1345.35" y="2510.75" width="42.7" height="32" rx="16" fill="#fff"/>
<text x="1366.7" y="2532.35" text-anchor="middle" class="d">14</text>
<text x="1421.55" y="2532.35">なら</text>
<circle cx="1473.55" cy="2526.75" r="10.5" fill="none" stroke="#fff" stroke-width="2.2"/>
<path d="M1467.55,2526.75 h12" stroke="#fff" stroke-width="3.6" fill="none"/>
<rect x="1040.25" y="2554.75" width="123.2" height="48" rx="4" fill="#235591" stroke="#1c4474" stroke-width="1"/>
<text x="1048.25" y="2584.35">呼び出し</text>
<text x="1120.25" y="2584.35">床14</text>
<text x="1032.25" y="2636.35">でなければもし</text>
<path d="M1152.25,2630.75 l24,-24 H1389.55 l24,24 l-24,24 H1176.25 z" fill="#4b969b" stroke="#8cc6ca" stroke-width="1.5"/>
<rect x="1177.75" y="2610.75" width="108" height="40" rx="20" fill="#ea2b1f" stroke="#f1756d" stroke-width="1"/>
<text x="1189.75" y="2636.35">サイコロ</text>
<path d="M1261.75,2627.75 h11 l-5.5,6.5 z" fill="#fff"/>
<rect x="1293.75" y="2614.75" width="43.6" height="32" rx="4" fill="none" stroke="#3e7b7f" stroke-width="1.2"/>
<text x="1301.75" y="2636.35">=</text>
<path d="M1317.35,2627.75 h11 l-5.5,6.5 z" fill="#fff"/>
<rect x="1345.35" y="2614.75" width="42.7" height="32" rx="16" fill="#fff"/>
<text x="1366.7" y="2636.35" text-anchor="middle" class="d">15</text>
<text x="1421.55" y="2636.35">なら</text>
<circle cx="1473.55" cy="2630.75" r="10.5" fill="none" stroke="#fff" stroke-width="2.2"/>
<path d="M1467.55,2630.75 h12" stroke="#fff" stroke-width="3.6" fill="none"/>
<rect x="1040.25" y="2658.75" width="123.2" height="48" rx="4" fill="#235591" stroke="#1c4474" stroke-width="1"/>
<text x="1048.25" y="2688.35">呼び出し</text>
<text x="1120.25" y="2688.35">床15</text>
<text x="1032.25" y="2740.35">でなければもし</text>
<path d="M1152.25,2734.75 l24,-24 H1389.55 l24,24 l-24,24 H1176.25 z" fill="#4b969b" stroke="#8cc6ca" stroke-width="1.5"/>
<rect x="1177.75" y="2714.75" width="108" height="40" rx="20" fill="#ea2b1f" stroke="#f1756d" stroke-width="1"/>
<text x="1189.75" y="2740.35">サイコロ</text>
<path d="M1261.75,2731.75 h11 l-5.5,6.5 z" fill="#fff"/>
<rect x="1293.75" y="2718.75" width="43.6" height="32" rx="4" fill="none" stroke="#3e7b7f" stroke-width="1.2"/>
<text x="1301.75" y="2740.35">=</text>
<path d="M1317.35,2731.75 h11 l-5.5,6.5 z" fill="#fff"/>
<rect x="1345.35" y="2718.75" width="42.7" height="32" rx="16" fill="#fff"/>
<text x="1366.7" y="2740.35" text-anchor="middle" class="d">16</text>
<text x="1421.55" y="2740.35">なら</text>
<circle cx="1473.55" cy="2734.75" r="10.5" fill="none" stroke="#fff" stroke-width="2.2"/>
<path d="M1467.55,2734.75 h12" stroke="#fff" stroke-width="3.6" fill="none"/>
<rect x="1040.25" y="2762.75" width="123.2" height="48" rx="4" fill="#235591" stroke="#1c4474" stroke-width="1"/>
<text x="1048.25" y="2792.35">呼び出し</text>
<text x="1120.25" y="2792.35">床16</text>
<text x="1032.25" y="2844.35">でなければもし</text>
<path d="M1152.25,2838.75 l24,-24 H1389.55 l24,24 l-24,24 H1176.25 z" fill="#4b969b" stroke="#8cc6ca" stroke-width="1.5"/>
<rect x="1177.75" y="2818.75" width="108" height="40" rx="20" fill="#ea2b1f" stroke="#f1756d" stroke-width="1"/>
<text x="1189.75" y="2844.35">サイコロ</text>
<path d="M1261.75,2835.75 h11 l-5.5,6.5 z" fill="#fff"/>
<rect x="1293.75" y="2822.75" width="43.6" height="32" rx="4" fill="none" stroke="#3e7b7f" stroke-width="1.2"/>
<text x="1301.75" y="2844.35">=</text>
<path d="M1317.35,2835.75 h11 l-5.5,6.5 z" fill="#fff"/>
<rect x="1345.35" y="2822.75" width="42.7" height="32" rx="16" fill="#fff"/>
<text x="1366.7" y="2844.35" text-anchor="middle" class="d">17</text>
<text x="1421.55" y="2844.35">なら</text>
<circle cx="1473.55" cy="2838.75" r="10.5" fill="none" stroke="#fff" stroke-width="2.2"/>
<path d="M1467.55,2838.75 h12" stroke="#fff" stroke-width="3.6" fill="none"/>
<rect x="1040.25" y="2866.75" width="123.2" height="48" rx="4" fill="#235591" stroke="#1c4474" stroke-width="1"/>
<text x="1048.25" y="2896.35">呼び出し</text>
<text x="1120.25" y="2896.35">床17</text>
<text x="1032.25" y="2948.35">でなければもし</text>
<path d="M1152.25,2942.75 l24,-24 H1389.55 l24,24 l-24,24 H1176.25 z" fill="#4b969b" stroke="#8cc6ca" stroke-width="1.5"/>
<rect x="1177.75" y="2922.75" width="108" height="40" rx="20" fill="#ea2b1f" stroke="#f1756d" stroke-width="1"/>
<text x="1189.75" y="2948.35">サイコロ</text>
<path d="M1261.75,2939.75 h11 l-5.5,6.5 z" fill="#fff"/>
<rect x="1293.75" y="2926.75" width="43.6" height="32" rx="4" fill="none" stroke="#3e7b7f" stroke-width="1.2"/>
<text x="1301.75" y="2948.35">=</text>
<path d="M1317.35,2939.75 h11 l-5.5,6.5 z" fill="#fff"/>
<rect x="1345.35" y="2926.75" width="42.7" height="32" rx="16" fill="#fff"/>
<text x="1366.7" y="2948.35" text-anchor="middle" class="d">18</text>
<text x="1421.55" y="2948.35">なら</text>
<circle cx="1473.55" cy="2942.75" r="10.5" fill="none" stroke="#fff" stroke-width="2.2"/>
<path d="M1467.55,2942.75 h12" stroke="#fff" stroke-width="3.6" fill="none"/>
<rect x="1040.25" y="2970.75" width="123.2" height="48" rx="4" fill="#235591" stroke="#1c4474" stroke-width="1"/>
<text x="1048.25" y="3000.35">呼び出し</text>
<text x="1120.25" y="3000.35">床18</text>
<text x="1032.25" y="3052.35">でなければもし</text>
<path d="M1152.25,3046.75 l24,-24 H1389.55 l24,24 l-24,24 H1176.25 z" fill="#4b969b" stroke="#8cc6ca" stroke-width="1.5"/>
<rect x="1177.75" y="3026.75" width="108" height="40" rx="20" fill="#ea2b1f" stroke="#f1756d" stroke-width="1"/>
<text x="1189.75" y="3052.35">サイコロ</text>
<path d="M1261.75,3043.75 h11 l-5.5,6.5 z" fill="#fff"/>
<rect x="1293.75" y="3030.75" width="43.6" height="32" rx="4" fill="none" stroke="#3e7b7f" stroke-width="1.2"/>
<text x="1301.75" y="3052.35">=</text>
<path d="M1317.35,3043.75 h11 l-5.5,6.5 z" fill="#fff"/>
<rect x="1345.35" y="3030.75" width="42.7" height="32" rx="16" fill="#fff"/>
<text x="1366.7" y="3052.35" text-anchor="middle" class="d">19</text>
<text x="1421.55" y="3052.35">なら</text>
<circle cx="1473.55" cy="3046.75" r="10.5" fill="none" stroke="#fff" stroke-width="2.2"/>
<path d="M1467.55,3046.75 h12" stroke="#fff" stroke-width="3.6" fill="none"/>
<rect x="1040.25" y="3074.75" width="123.2" height="48" rx="4" fill="#235591" stroke="#1c4474" stroke-width="1"/>
<text x="1048.25" y="3104.35">呼び出し</text>
<text x="1120.25" y="3104.35">床19</text>
<text x="1032.25" y="3156.35">でなければもし</text>
<path d="M1152.25,3150.75 l24,-24 H1389.55 l24,24 l-24,24 H1176.25 z" fill="#4b969b" stroke="#8cc6ca" stroke-width="1.5"/>
<rect x="1177.75" y="3130.75" width="108" height="40" rx="20" fill="#ea2b1f" stroke="#f1756d" stroke-width="1"/>
<text x="1189.75" y="3156.35">サイコロ</text>
<path d="M1261.75,3147.75 h11 l-5.5,6.5 z" fill="#fff"/>
<rect x="1293.75" y="3134.75" width="43.6" height="32" rx="4" fill="none" stroke="#3e7b7f" stroke-width="1.2"/>
<text x="1301.75" y="3156.35">=</text>
<path d="M1317.35,3147.75 h11 l-5.5,6.5 z" fill="#fff"/>
<rect x="1345.35" y="3134.75" width="42.7" height="32" rx="16" fill="#fff"/>
<text x="1366.7" y="3156.35" text-anchor="middle" class="d">20</text>
<text x="1421.55" y="3156.35">なら</text>
<circle cx="1473.55" cy="3150.75" r="10.5" fill="none" stroke="#fff" stroke-width="2.2"/>
<path d="M1467.55,3150.75 h12" stroke="#fff" stroke-width="3.6" fill="none"/>
<rect x="1040.25" y="3178.75" width="123.2" height="48" rx="4" fill="#235591" stroke="#1c4474" stroke-width="1"/>
<text x="1048.25" y="3208.35">呼び出し</text>
<text x="1120.25" y="3208.35">床20</text>
<text x="1032.25" y="3260.35">でなければもし</text>
<path d="M1152.25,3254.75 l24,-24 H1389.55 l24,24 l-24,24 H1176.25 z" fill="#4b969b" stroke="#8cc6ca" stroke-width="1.5"/>
<rect x="1177.75" y="3234.75" width="108" height="40" rx="20" fill="#ea2b1f" stroke="#f1756d" stroke-width="1"/>
<text x="1189.75" y="3260.35">サイコロ</text>
<path d="M1261.75,3251.75 h11 l-5.5,6.5 z" fill="#fff"/>
<rect x="1293.75" y="3238.75" width="43.6" height="32" rx="4" fill="none" stroke="#3e7b7f" stroke-width="1.2"/>
<text x="1301.75" y="3260.35">=</text>
<path d="M1317.35,3251.75 h11 l-5.5,6.5 z" fill="#fff"/>
<rect x="1345.35" y="3238.75" width="42.7" height="32" rx="16" fill="#fff"/>
<text x="1366.7" y="3260.35" text-anchor="middle" class="d">21</text>
<text x="1421.55" y="3260.35">なら</text>
<circle cx="1473.55" cy="3254.75" r="10.5" fill="none" stroke="#fff" stroke-width="2.2"/>
<path d="M1467.55,3254.75 h12" stroke="#fff" stroke-width="3.6" fill="none"/>
<rect x="1040.25" y="3282.75" width="123.2" height="48" rx="4" fill="#235591" stroke="#1c4474" stroke-width="1"/>
<text x="1048.25" y="3312.35">呼び出し</text>
<text x="1120.25" y="3312.35">床21</text>
<text x="1032.25" y="3364.35">でなければもし</text>
<path d="M1152.25,3358.75 l24,-24 H1389.55 l24,24 l-24,24 H1176.25 z" fill="#4b969b" stroke="#8cc6ca" stroke-width="1.5"/>
<rect x="1177.75" y="3338.75" width="108" height="40" rx="20" fill="#ea2b1f" stroke="#f1756d" stroke-width="1"/>
<text x="1189.75" y="3364.35">サイコロ</text>
<path d="M1261.75,3355.75 h11 l-5.5,6.5 z" fill="#fff"/>
<rect x="1293.75" y="3342.75" width="43.6" height="32" rx="4" fill="none" stroke="#3e7b7f" stroke-width="1.2"/>
<text x="1301.75" y="3364.35">=</text>
<path d="M1317.35,3355.75 h11 l-5.5,6.5 z" fill="#fff"/>
<rect x="1345.35" y="3342.75" width="42.7" height="32" rx="16" fill="#fff"/>
<text x="1366.7" y="3364.35" text-anchor="middle" class="d">22</text>
<text x="1421.55" y="3364.35">なら</text>
<circle cx="1473.55" cy="3358.75" r="10.5" fill="none" stroke="#fff" stroke-width="2.2"/>
<path d="M1467.55,3358.75 h12" stroke="#fff" stroke-width="3.6" fill="none"/>
<rect x="1040.25" y="3386.75" width="123.2" height="48" rx="4" fill="#235591" stroke="#1c4474" stroke-width="1"/>
<text x="1048.25" y="3416.35">呼び出し</text>
<text x="1120.25" y="3416.35">床22</text>
<text x="1032.25" y="3468.35">でなければもし</text>
<path d="M1152.25,3462.75 l24,-24 H1389.55 l24,24 l-24,24 H1176.25 z" fill="#4b969b" stroke="#8cc6ca" stroke-width="1.5"/>
<rect x="1177.75" y="3442.75" width="108" height="40" rx="20" fill="#ea2b1f" stroke="#f1756d" stroke-width="1"/>
<text x="1189.75" y="3468.35">サイコロ</text>
<path d="M1261.75,3459.75 h11 l-5.5,6.5 z" fill="#fff"/>
<rect x="1293.75" y="3446.75" width="43.6" height="32" rx="4" fill="none" stroke="#3e7b7f" stroke-width="1.2"/>
<text x="1301.75" y="3468.35">=</text>
<path d="M1317.35,3459.75 h11 l-5.5,6.5 z" fill="#fff"/>
<rect x="1345.35" y="3446.75" width="42.7" height="32" rx="16" fill="#fff"/>
<text x="1366.7" y="3468.35" text-anchor="middle" class="d">23</text>
<text x="1421.55" y="3468.35">なら</text>
<circle cx="1473.55" cy="3462.75" r="10.5" fill="none" stroke="#fff" stroke-width="2.2"/>
<path d="M1467.55,3462.75 h12" stroke="#fff" stroke-width="3.6" fill="none"/>
<rect x="1040.25" y="3490.75" width="123.2" height="48" rx="4" fill="#235591" stroke="#1c4474" stroke-width="1"/>
<text x="1048.25" y="3520.35">呼び出し</text>
<text x="1120.25" y="3520.35">床23</text>
<text x="1032.25" y="3572.35">でなければもし</text>
<path d="M1152.25,3566.75 l24,-24 H1389.55 l24,24 l-24,24 H1176.25 z" fill="#4b969b" stroke="#8cc6ca" stroke-width="1.5"/>
<rect x="1177.75" y="3546.75" width="108" height="40" rx="20" fill="#ea2b1f" stroke="#f1756d" stroke-width="1"/>
<text x="1189.75" y="3572.35">サイコロ</text>
<path d="M1261.75,3563.75 h11 l-5.5,6.5 z" fill="#fff"/>
<rect x="1293.75" y="3550.75" width="43.6" height="32" rx="4" fill="none" stroke="#3e7b7f" stroke-width="1.2"/>
<text x="1301.75" y="3572.35">=</text>
<path d="M1317.35,3563.75 h11 l-5.5,6.5 z" fill="#fff"/>
<rect x="1345.35" y="3550.75" width="42.7" height="32" rx="16" fill="#fff"/>
<text x="1366.7" y="3572.35" text-anchor="middle" class="d">24</text>
<text x="1421.55" y="3572.35">なら</text>
<circle cx="1473.55" cy="3566.75" r="10.5" fill="none" stroke="#fff" stroke-width="2.2"/>
<path d="M1467.55,3566.75 h12" stroke="#fff" stroke-width="3.6" fill="none"/>
<rect x="1040.25" y="3594.75" width="123.2" height="48" rx="4" fill="#235591" stroke="#1c4474" stroke-width="1"/>
<text x="1048.25" y="3624.35">呼び出し</text>
<text x="1120.25" y="3624.35">床24</text>
<text x="1032.25" y="3676.35">でなければもし</text>
<path d="M1152.25,3670.75 l24,-24 H1389.55 l24,24 l-24,24 H1176.25 z" fill="#4b969b" stroke="#8cc6ca" stroke-width="1.5"/>
<rect x="1177.75" y="3650.75" width="108" height="40" rx="20" fill="#ea2b1f" stroke="#f1756d" stroke-width="1"/>
<text x="1189.75" y="3676.35">サイコロ</text>
<path d="M1261.75,3667.75 h11 l-5.5,6.5 z" fill="#fff"/>
<rect x="1293.75" y="3654.75" width="43.6" height="32" rx="4" fill="none" stroke="#3e7b7f" stroke-width="1.2"/>
<text x="1301.75" y="3676.35">=</text>
<path d="M1317.35,3667.75 h11 l-5.5,6.5 z" fill="#fff"/>
<rect x="1345.35" y="3654.75" width="42.7" height="32" rx="16" fill="#fff"/>
<text x="1366.7" y="3676.35" text-anchor="middle" class="d">25</text>
<text x="1421.55" y="3676.35">なら</text>
<circle cx="1473.55" cy="3670.75" r="10.5" fill="none" stroke="#fff" stroke-width="2.2"/>
<path d="M1467.55,3670.75 h12" stroke="#fff" stroke-width="3.6" fill="none"/>
<rect x="1040.25" y="3698.75" width="123.2" height="48" rx="4" fill="#235591" stroke="#1c4474" stroke-width="1"/>
<text x="1048.25" y="3728.35">呼び出し</text>
<text x="1120.25" y="3728.35">床25</text>
<circle cx="1044.25" cy="3762.75" r="10.5" fill="none" stroke="#fff" stroke-width="2.2"/>
<path d="M1038.25,3762.75 h12 M1044.25,3756.75 v12" stroke="#fff" stroke-width="3.6" fill="none"/>
<path d="M1540,661.75 a4,4 0 0 1 4,-4 H1925 a4,4 0 0 1 4,4 V701.75 a4,4 0 0 1 -4,4 H1560 a4,4 0 0 0 -4,4 V1637.75 a4,4 0 0 0 4,4 H1925 a4,4 0 0 1 4,4 V1669.75 a4,4 0 0 1 -4,4 H1544 a4,4 0 0 1 -4,-4 z" fill="#0078d7" stroke="#0060ac" stroke-width="1"/>
<text x="1548" y="687.35">チャットコマンド</text>
<rect x="1684" y="665.75" width="101" height="32" rx="16" fill="#fff"/>
<text x="1702.5" y="687.35" class="d">スタート</text>
<text x="1693" y="679.75" class="q">"</text>
<text x="1770" y="679.75" class="q">"</text>
<text x="1793" y="687.35">を入力した時</text>
<circle cx="1909" cy="681.75" r="10.5" fill="none" stroke="#fff" stroke-width="2.2"/>
<path d="M1903,681.75 h12 M1909,675.75 v12" stroke="#fff" stroke-width="3.6" fill="none"/>
<rect x="1556" y="705.75" width="445" height="48" rx="4" fill="#0078d7" stroke="#0060ac" stroke-width="1"/>
<text x="1564" y="735.35">メッセージ</text>
<rect x="1652" y="713.75" width="245" height="32" rx="16" fill="#fff"/>
<text x="1670.5" y="735.35" class="d">これからゲームを始めます！</text>
<text x="1661" y="727.75" class="q">"</text>
<text x="1882" y="727.75" class="q">"</text>
<text x="1905" y="735.35">を</text>
<text x="1929" y="735.35">送信する</text>
<rect x="1556" y="753.75" width="640.2" height="48" rx="4" fill="#0078d7" stroke="#0060ac" stroke-width="1"/>
<text x="1564" y="783.35">メッセージ</text>
<rect x="1652" y="761.75" width="440.2" height="32" rx="16" fill="#fff"/>
<text x="1670.5" y="783.35" class="d">このゲームは25のエリアがひとつずつ減っていきます。</text>
<text x="1661" y="775.75" class="q">"</text>
<text x="2077.2" y="775.75" class="q">"</text>
<text x="2100.2" y="783.35">を</text>
<text x="2124.2" y="783.35">送信する</text>
<rect x="1556" y="801.75" width="413" height="48" rx="4" fill="#0078d7" stroke="#0060ac" stroke-width="1"/>
<text x="1564" y="831.35">メッセージ</text>
<rect x="1652" y="809.75" width="213" height="32" rx="16" fill="#fff"/>
<text x="1670.5" y="831.35" class="d">最後まで残れば勝ちです</text>
<text x="1661" y="823.75" class="q">"</text>
<text x="1850" y="823.75" class="q">"</text>
<text x="1873" y="831.35">を</text>
<text x="1897" y="831.35">送信する</text>
<rect x="1556" y="849.75" width="582.6" height="48" rx="4" fill="#0078d7" stroke="#0060ac" stroke-width="1"/>
<text x="1564" y="879.35">メッセージ</text>
<rect x="1652" y="857.75" width="382.6" height="32" rx="16" fill="#fff"/>
<text x="1670.5" y="879.35" class="d">もし、落ちたら3つの穴から外に出てください。</text>
<text x="1661" y="871.75" class="q">"</text>
<text x="2019.6" y="871.75" class="q">"</text>
<text x="2042.6" y="879.35">を</text>
<text x="2066.6" y="879.35">送信する</text>
<rect x="1556" y="897.75" width="330" height="48" rx="4" fill="#ea2b1f" stroke="#bb2219" stroke-width="1"/>
<text x="1564" y="927.35">変数</text>
<rect x="1604" y="905.75" width="66" height="32" rx="4" fill="none" stroke="#c02319" stroke-width="1.2"/>
<text x="1612" y="927.35">配列</text>
<path d="M1650,918.75 h11 l-5.5,6.5 z" fill="#fff"/>
<text x="1678" y="927.35">を</text>
<rect x="1702" y="901.75" width="120" height="40" rx="20" fill="#a94400" stroke="#c37c4c" stroke-width="1"/>
<text x="1714" y="927.35">空の配列</text>
<circle cx="1798" cy="921.75" r="10.5" fill="none" stroke="#fff" stroke-width="2.2"/>
<path d="M1792,921.75 h12 M1798,915.75 v12" stroke="#fff" stroke-width="3.6" fill="none"/>
<text x="1830" y="927.35">にする</text>
<path d="M1556,949.75 a4,4 0 0 1 4,-4 H1722.7 a4,4 0 0 1 4,4 V989.75 a4,4 0 0 1 -4,4 H1576 a4,4 0 0 0 -4,4 V1605.75 a4,4 0 0 0 4,4 H1722.7 a4,4 0 0 1 4,4 V1637.75 a4,4 0 0 1 -4,4 H1560 a4,4 0 0 1 -4,-4 z" fill="#569138" stroke="#45742d" stroke-width="1"/>
<text x="1564" y="975.35">くりかえし</text>
<rect x="1652" y="953.75" width="42.7" height="32" rx="16" fill="#fff"/>
<text x="1673.35" y="975.35" text-anchor="middle" class="d">24</text>
<text x="1702.7" y="975.35">回</text>
<rect x="1572" y="993.75" width="614.3" height="48" rx="4" fill="#ea2b1f" stroke="#bb2219" stroke-width="1"/>
<text x="1580" y="1023.35">変数</text>
<rect x="1620" y="1001.75" width="98" height="32" rx="4" fill="none" stroke="#c02319" stroke-width="1.2"/>
<text x="1628" y="1023.35">サイコロ</text>
<path d="M1698,1014.75 h11 l-5.5,6.5 z" fill="#fff"/>
<text x="1726" y="1023.35">を</text>
<rect x="1750" y="997.75" width="372.3" height="40" rx="20" fill="#7573ab" stroke="#9e9dc4" stroke-width="1"/>
<text x="1762" y="1023.35">ランダムな数字を選択:</text>
<rect x="1939.6" y="1001.75" width="40" height="32" rx="16" fill="#fff"/>
<text x="1959.6" y="1023.35" text-anchor="middle" class="d">1</text>
<text x="1987.6" y="1023.35">から</text>
<rect x="2027.6" y="1001.75" width="42.7" height="32" rx="16" fill="#fff"/>
<text x="2048.95" y="1023.35" text-anchor="middle" class="d">25</text>
<text x="2078.3" y="1023.35">まで</text>
<text x="2130.3" y="1023.35">にする</text>
<rect x="1572" y="1041.75" width="410" height="48" rx="4" fill="#ea2b1f" stroke="#bb2219" stroke-width="1"/>
<text x="1580" y="1071.35">変数</text>
<rect x="1620" y="1049.75" width="226" height="32" rx="4" fill="none" stroke="#c02319" stroke-width="1.2"/>
<text x="1628" y="1071.35">まだ出ていない数字フラグ</text>
<path d="M1826,1062.75 h11 l-5.5,6.5 z" fill="#fff"/>
<text x="1854" y="1071.35">を</text>
<rect x="1878" y="1049.75" width="40" height="32" rx="16" fill="#fff"/>
<text x="1898" y="1071.35" text-anchor="middle" class="d">0</text>
<text x="1926" y="1071.35">にする</text>
<path d="M1572,1093.75 a4,4 0 0 1 4,-4 H2130.6 a4,4 0 0 1 4,4 V1141.75 a4,4 0 0 1 -4,4 H1592 a4,4 0 0 0 -4,4 V1381.75 a4,4 0 0 0 4,4 H2130.6 a4,4 0 0 1 4,4 V1413.75 a4,4 0 0 1 -4,4 H1576 a4,4 0 0 1 -4,-4 z" fill="#569138" stroke="#45742d" stroke-width="1"/>
<text x="1580" y="1123.35">もし</text>
<path d="M1620,1117.75 l24,-24 H1982.6 l24,24 l-24,24 H1644 z" fill="#4b969b" stroke="#8cc6ca" stroke-width="1.5"/>
<rect x="1645.5" y="1097.75" width="236" height="40" rx="20" fill="#ea2b1f" stroke="#f1756d" stroke-width="1"/>
<text x="1657.5" y="1123.35">まだ出ていない数字フラグ</text>
<path d="M1857.5,1114.75 h11 l-5.5,6.5 z" fill="#fff"/>
<rect x="1889.5" y="1101.75" width="43.6" height="32" rx="4" fill="none" stroke="#3e7b7f" stroke-width="1.2"/>
<text x="1897.5" y="1123.35">=</text>
<path d="M1913.1,1114.75 h11 l-5.5,6.5 z" fill="#fff"/>
<rect x="1941.1" y="1101.75" width="40" height="32" rx="16" fill="#fff"/>
<text x="1961.1" y="1123.35" text-anchor="middle" class="d">0</text>
<text x="2014.6" y="1123.35">ならくりかえし</text>
<path d="M1588,1149.75 a4,4 0 0 1 4,-4 H2193.3 a4,4 0 0 1 4,4 V1205.75 a4,4 0 0 1 -4,4 H1608 a4,4 0 0 0 -4,4 V1253.75 a4,4 0 0 0 4,4 H2193.3 a4,4 0 0 1 4,4 V1301.75 a4,4 0 0 1 -4,4 H1608 a4,4 0 0 0 -4,4 V1349.75 a4,4 0 0 0 4,4 H2193.3 a4,4 0 0 1 4,4 V1381.75 a4,4 0 0 1 -4,4 H1592 a4,4 0 0 1 -4,-4 z" fill="#4b969b" stroke="#3c787c" stroke-width="1"/>
<text x="1596" y="1183.35">もし</text>
<path d="M1636,1177.75 l28,-28 H2121.3 l28,28 l-28,28 H1664 z" fill="#4b969b" stroke="#8cc6ca" stroke-width="1.5"/>
<rect x="1665.5" y="1153.75" width="352" height="48" rx="24" fill="#a94400" stroke="#c37c4c" stroke-width="1"/>
<rect x="1669.5" y="1157.75" width="76" height="40" rx="20" fill="#ea2b1f" stroke="#f1756d" stroke-width="1"/>
<text x="1681.5" y="1183.35">配列</text>
<path d="M1721.5,1174.75 h11 l-5.5,6.5 z" fill="#fff"/>
<text x="1753.5" y="1183.35">の中で</text>
<rect x="1809.5" y="1157.75" width="108" height="40" rx="20" fill="#ea2b1f" stroke="#f1756d" stroke-width="1"/>
<text x="1821.5" y="1183.35">サイコロ</text>
<path d="M1893.5,1174.75 h11 l-5.5,6.5 z" fill="#fff"/>
<text x="1925.5" y="1183.35">がある番目</text>
<rect x="2025.5" y="1161.75" width="43.6" height="32" rx="4" fill="none" stroke="#3e7b7f" stroke-width="1.2"/>
<text x="2033.5" y="1183.35">=</text>
<path d="M2049.1,1174.75 h11 l-5.5,6.5 z" fill="#fff"/>
<rect x="2077.1" y="1161.75" width="42.7" height="32" rx="16" fill="#fff"/>
<text x="2098.45" y="1183.35" text-anchor="middle" class="d">-1</text>
<text x="2157.3" y="1183.35">なら</text>
<rect x="1604" y="1209.75" width="410" height="48" rx="4" fill="#ea2b1f" stroke="#bb2219" stroke-width="1"/>
<text x="1612" y="1239.35">変数</text>
<rect x="1652" y="1217.75" width="226" height="32" rx="4" fill="none" stroke="#c02319" stroke-width="1.2"/>
<text x="1660" y="1239.35">まだ出ていない数字フラグ</text>
<path d="M1858,1230.75 h11 l-5.5,6.5 z" fill="#fff"/>
<text x="1886" y="1239.35">を</text>
<rect x="1910" y="1217.75" width="40" height="32" rx="16" fill="#fff"/>
<text x="1930" y="1239.35" text-anchor="middle" class="d">1</text>
<text x="1958" y="1239.35">にする</text>
<text x="1596" y="1287.35">でなければ</text>
<circle cx="2177.3" cy="1281.75" r="10.5" fill="none" stroke="#fff" stroke-width="2.2"/>
<path d="M2171.3,1281.75 h12" stroke="#fff" stroke-width="3.6" fill="none"/>
<rect x="1604" y="1305.75" width="614.3" height="48" rx="4" fill="#ea2b1f" stroke="#bb2219" stroke-width="1"/>
<text x="1612" y="1335.35">変数</text>
<rect x="1652" y="1313.75" width="98" height="32" rx="4" fill="none" stroke="#c02319" stroke-width="1.2"/>
<text x="1660" y="1335.35">サイコロ</text>
<path d="M1730,1326.75 h11 l-5.5,6.5 z" fill="#fff"/>
<text x="1758" y="1335.35">を</text>
<rect x="1782" y="1309.75" width="372.3" height="40" rx="20" fill="#7573ab" stroke="#9e9dc4" stroke-width="1"/>
<text x="1794" y="1335.35">ランダムな数字を選択:</text>
<rect x="1971.6" y="1313.75" width="40" height="32" rx="16" fill="#fff"/>
<text x="1991.6" y="1335.35" text-anchor="middle" class="d">1</text>
<text x="2019.6" y="1335.35">から</text>
<rect x="2059.6" y="1313.75" width="42.7" height="32" rx="16" fill="#fff"/>
<text x="2080.95" y="1335.35" text-anchor="middle" class="d">25</text>
<text x="2110.3" y="1335.35">まで</text>
<text x="2162.3" y="1335.35">にする</text>
<circle cx="1608" cy="1369.75" r="10.5" fill="none" stroke="#fff" stroke-width="2.2"/>
<path d="M1602,1369.75 h12 M1608,1363.75 v12" stroke="#fff" stroke-width="3.6" fill="none"/>
<rect x="1572" y="1417.75" width="376" height="48" rx="4" fill="#a94400" stroke="#873600" stroke-width="1"/>
<rect x="1620" y="1421.75" width="76" height="40" rx="20" fill="#ea2b1f" stroke="#f1756d" stroke-width="1"/>
<text x="1632" y="1447.35">配列</text>
<path d="M1672,1438.75 h11 l-5.5,6.5 z" fill="#fff"/>
<text x="1704" y="1447.35">の最後に</text>
<rect x="1776" y="1421.75" width="108" height="40" rx="20" fill="#ea2b1f" stroke="#f1756d" stroke-width="1"/>
<text x="1788" y="1447.35">サイコロ</text>
<path d="M1860,1438.75 h11 l-5.5,6.5 z" fill="#fff"/>
<text x="1892" y="1447.35">を追加</text>
<rect x="1572" y="1465.75" width="362" height="48" rx="4" fill="#ea2b1f" stroke="#bb2219" stroke-width="1"/>
<text x="1580" y="1495.35">変数</text>
<rect x="1620" y="1473.75" width="178" height="32" rx="4" fill="none" stroke="#c02319" stroke-width="1.2"/>
<text x="1628" y="1495.35">追加削除制御フラグ</text>
<path d="M1778,1486.75 h11 l-5.5,6.5 z" fill="#fff"/>
<text x="1806" y="1495.35">を</text>
<rect x="1830" y="1473.75" width="40" height="32" rx="16" fill="#fff"/>
<text x="1850" y="1495.35" text-anchor="middle" class="d">0</text>
<text x="1878" y="1495.35">にする</text>
<rect x="1572" y="1513.75" width="152" height="48" rx="4" fill="#235591" stroke="#1c4474" stroke-width="1"/>
<text x="1580" y="1543.35">呼び出し</text>
<text x="1652" y="1543.35">床を消す</text>
<rect x="1572" y="1561.75" width="229.9" height="48" rx="4" fill="#569138" stroke="#45742d" stroke-width="1"/>
<text x="1580" y="1591.35">一時停止（ミリ秒）</text>
<rect x="1732" y="1569.75" width="61.9" height="32" rx="16" fill="#fff"/>
<text x="1762.95" y="1591.35" text-anchor="middle" class="d">3000</text>
<path d="M1584.75,1730.75 c25,-22 71,-22 96,0 H1796.55 a4,4 0 0 1 4,4 V1774.75 a4,4 0 0 1 -4,4 H1604.75 a4,4 0 0 0 -4,4 V3146.75 a4,4 0 0 0 4,4 H1796.55 a4,4 0 0 1 4,4 V3178.75 a4,4 0 0 1 -4,4 H1588.75 a4,4 0 0 1 -4,-4 z" fill="#235591" stroke="#1c4474" stroke-width="1"/>
<text x="1592.75" y="1760.35">function</text>
<rect x="1677.55" y="1738.75" width="78" height="32" rx="2" fill="#fff"/>
<text x="1684.55" y="1760.35" class="d">床を作る</text>
<circle cx="1775.55" cy="1754.75" r="10.5" fill="none" stroke="#fff" stroke-width="2.2"/>
<path d="M1769.55,1757.75 l6,-6 l6,6" stroke="#fff" stroke-width="3" fill="none"/>
<rect x="1600.75" y="1778.75" width="363.6" height="62" rx="4" fill="#ea2b1f" stroke="#bb2219" stroke-width="1"/>
<text x="1608.75" y="1815.35">変数</text>
<rect x="1648.75" y="1793.75" width="123.6" height="32" rx="4" fill="none" stroke="#c02319" stroke-width="1.2"/>
<text x="1656.75" y="1815.35">床ブロック1</text>
<path d="M1752.35,1806.75 h11 l-5.5,6.5 z" fill="#fff"/>
<text x="1780.35" y="1815.35">を</text>
<rect x="1804.35" y="1782.75" width="96" height="54" rx="27" fill="#7abb55" stroke="#689f48" stroke-width="1"/>
<rect x="1817.35" y="1783.25" width="70" height="53" fill="#73b050" opacity="0.5" stroke="#5f9242" stroke-width="1"/>
<path d="M1827.35,1801.75 l15,-8 l15,8 l-15,8 z" fill="#5ed13f"/>
<path d="M1827.35,1801.75 l15,8 v17 l-15,-8 z" fill="#45b930"/>
<path d="M1842.35,1809.75 l15,-8 v17 l-15,8 z" fill="#2f9d24"/>
<path d="M1870.35,1806.75 h11 l-5.5,6.5 z" fill="#fff"/>
<text x="1908.35" y="1815.35">にする</text>
<rect x="1600.75" y="1840.75" width="363.6" height="62" rx="4" fill="#ea2b1f" stroke="#bb2219" stroke-width="1"/>
<text x="1608.75" y="1877.35">変数</text>
<rect x="1648.75" y="1855.75" width="123.6" height="32" rx="4" fill="none" stroke="#c02319" stroke-width="1.2"/>
<text x="1656.75" y="1877.35">床ブロック2</text>
<path d="M1752.35,1868.75 h11 l-5.5,6.5 z" fill="#fff"/>
<text x="1780.35" y="1877.35">を</text>
<rect x="1804.35" y="1844.75" width="96" height="54" rx="27" fill="#7abb55" stroke="#689f48" stroke-width="1"/>
<rect x="1817.35" y="1845.25" width="70" height="53" fill="#73b050" opacity="0.5" stroke="#5f9242" stroke-width="1"/>
<path d="M1827.35,1863.75 l15,-8 l15,8 l-15,8 z" fill="#9b4fd0"/>
<path d="M1827.35,1863.75 l15,8 v17 l-15,-8 z" fill="#8238b8"/>
<path d="M1842.35,1871.75 l15,-8 v17 l-15,8 z" fill="#6a2a9c"/>
<path d="M1870.35,1868.75 h11 l-5.5,6.5 z" fill="#fff"/>
<text x="1908.35" y="1877.35">にする</text>
<rect x="1600.75" y="1902.75" width="362" height="48" rx="4" fill="#ea2b1f" stroke="#bb2219" stroke-width="1"/>
<text x="1608.75" y="1932.35">変数</text>
<rect x="1648.75" y="1910.75" width="178" height="32" rx="4" fill="none" stroke="#c02319" stroke-width="1.2"/>
<text x="1656.75" y="1932.35">追加削除制御フラグ</text>
<path d="M1806.75,1923.75 h11 l-5.5,6.5 z" fill="#fff"/>
<text x="1834.75" y="1932.35">を</text>
<rect x="1858.75" y="1910.75" width="40" height="32" rx="16" fill="#fff"/>
<text x="1878.75" y="1932.35" text-anchor="middle" class="d">1</text>
<text x="1906.75" y="1932.35">にする</text>
<rect x="1600.75" y="1950.75" width="123.2" height="48" rx="4" fill="#235591" stroke="#1c4474" stroke-width="1"/>
<text x="1608.75" y="1980.35">呼び出し</text>
<text x="1680.75" y="1980.35">床01</text>
<rect x="1600.75" y="1998.75" width="123.2" height="48" rx="4" fill="#235591" stroke="#1c4474" stroke-width="1"/>
<text x="1608.75" y="2028.35">呼び出し</text>
<text x="1680.75" y="2028.35">床02</text>
<rect x="1600.75" y="2046.75" width="123.2" height="48" rx="4" fill="#235591" stroke="#1c4474" stroke-width="1"/>
<text x="1608.75" y="2076.35">呼び出し</text>
<text x="1680.75" y="2076.35">床03</text>
<rect x="1600.75" y="2094.75" width="123.2" height="48" rx="4" fill="#235591" stroke="#1c4474" stroke-width="1"/>
<text x="1608.75" y="2124.35">呼び出し</text>
<text x="1680.75" y="2124.35">床04</text>
<rect x="1600.75" y="2142.75" width="123.2" height="48" rx="4" fill="#235591" stroke="#1c4474" stroke-width="1"/>
<text x="1608.75" y="2172.35">呼び出し</text>
<text x="1680.75" y="2172.35">床05</text>
<rect x="1600.75" y="2190.75" width="123.2" height="48" rx="4" fill="#235591" stroke="#1c4474" stroke-width="1"/>
<text x="1608.75" y="2220.35">呼び出し</text>
<text x="1680.75" y="2220.35">床06</text>
<rect x="1600.75" y="2238.75" width="123.2" height="48" rx="4" fill="#235591" stroke="#1c4474" stroke-width="1"/>
<text x="1608.75" y="2268.35">呼び出し</text>
<text x="1680.75" y="2268.35">床07</text>
<rect x="1600.75" y="2286.75" width="123.2" height="48" rx="4" fill="#235591" stroke="#1c4474" stroke-width="1"/>
<text x="1608.75" y="2316.35">呼び出し</text>
<text x="1680.75" y="2316.35">床08</text>
<rect x="1600.75" y="2334.75" width="123.2" height="48" rx="4" fill="#235591" stroke="#1c4474" stroke-width="1"/>
<text x="1608.75" y="2364.35">呼び出し</text>
<text x="1680.75" y="2364.35">床09</text>
<rect x="1600.75" y="2382.75" width="123.2" height="48" rx="4" fill="#235591" stroke="#1c4474" stroke-width="1"/>
<text x="1608.75" y="2412.35">呼び出し</text>
<text x="1680.75" y="2412.35">床10</text>
<rect x="1600.75" y="2430.75" width="123.2" height="48" rx="4" fill="#235591" stroke="#1c4474" stroke-width="1"/>
<text x="1608.75" y="2460.35">呼び出し</text>
<text x="1680.75" y="2460.35">床11</text>
<rect x="1600.75" y="2478.75" width="123.2" height="48" rx="4" fill="#235591" stroke="#1c4474" stroke-width="1"/>
<text x="1608.75" y="2508.35">呼び出し</text>
<text x="1680.75" y="2508.35">床12</text>
<rect x="1600.75" y="2526.75" width="123.2" height="48" rx="4" fill="#235591" stroke="#1c4474" stroke-width="1"/>
<text x="1608.75" y="2556.35">呼び出し</text>
<text x="1680.75" y="2556.35">床13</text>
<rect x="1600.75" y="2574.75" width="123.2" height="48" rx="4" fill="#235591" stroke="#1c4474" stroke-width="1"/>
<text x="1608.75" y="2604.35">呼び出し</text>
<text x="1680.75" y="2604.35">床14</text>
<rect x="1600.75" y="2622.75" width="123.2" height="48" rx="4" fill="#235591" stroke="#1c4474" stroke-width="1"/>
<text x="1608.75" y="2652.35">呼び出し</text>
<text x="1680.75" y="2652.35">床15</text>
<rect x="1600.75" y="2670.75" width="123.2" height="48" rx="4" fill="#235591" stroke="#1c4474" stroke-width="1"/>
<text x="1608.75" y="2700.35">呼び出し</text>
<text x="1680.75" y="2700.35">床16</text>
<rect x="1600.75" y="2718.75" width="123.2" height="48" rx="4" fill="#235591" stroke="#1c4474" stroke-width="1"/>
<text x="1608.75" y="2748.35">呼び出し</text>
<text x="1680.75" y="2748.35">床17</text>
<rect x="1600.75" y="2766.75" width="123.2" height="48" rx="4" fill="#235591" stroke="#1c4474" stroke-width="1"/>
<text x="1608.75" y="2796.35">呼び出し</text>
<text x="1680.75" y="2796.35">床18</text>
<rect x="1600.75" y="2814.75" width="123.2" height="48" rx="4" fill="#235591" stroke="#1c4474" stroke-width="1"/>
<text x="1608.75" y="2844.35">呼び出し</text>
<text x="1680.75" y="2844.35">床19</text>
<rect x="1600.75" y="2862.75" width="123.2" height="48" rx="4" fill="#235591" stroke="#1c4474" stroke-width="1"/>
<text x="1608.75" y="2892.35">呼び出し</text>
<text x="1680.75" y="2892.35">床20</text>
<rect x="1600.75" y="2910.75" width="123.2" height="48" rx="4" fill="#235591" stroke="#1c4474" stroke-width="1"/>
<text x="1608.75" y="2940.35">呼び出し</text>
<text x="1680.75" y="2940.35">床21</text>
<rect x="1600.75" y="2958.75" width="123.2" height="48" rx="4" fill="#235591" stroke="#1c4474" stroke-width="1"/>
<text x="1608.75" y="2988.35">呼び出し</text>
<text x="1680.75" y="2988.35">床22</text>
<rect x="1600.75" y="3006.75" width="123.2" height="48" rx="4" fill="#235591" stroke="#1c4474" stroke-width="1"/>
<text x="1608.75" y="3036.35">呼び出し</text>
<text x="1680.75" y="3036.35">床23</text>
<rect x="1600.75" y="3054.75" width="123.2" height="48" rx="4" fill="#235591" stroke="#1c4474" stroke-width="1"/>
<text x="1608.75" y="3084.35">呼び出し</text>
<text x="1680.75" y="3084.35">床24</text>
<rect x="1600.75" y="3102.75" width="123.2" height="48" rx="4" fill="#235591" stroke="#1c4474" stroke-width="1"/>
<text x="1608.75" y="3132.35">呼び出し</text>
<text x="1680.75" y="3132.35">床25</text>
<path d="M2625.5,487.5 a4,4 0 0 1 4,-4 H2978.5 a4,4 0 0 1 4,4 V527.5 a4,4 0 0 1 -4,4 H2645.5 a4,4 0 0 0 -4,4 V847.5 a4,4 0 0 0 4,4 H2978.5 a4,4 0 0 1 4,4 V879.5 a4,4 0 0 1 -4,4 H2629.5 a4,4 0 0 1 -4,-4 z" fill="#0078d7" stroke="#0060ac" stroke-width="1"/>
<text x="2633.5" y="513.1">チャットコマンド</text>
<rect x="2769.5" y="491.5" width="69" height="32" rx="16" fill="#fff"/>
<text x="2788" y="513.1" class="d">かべ</text>
<text x="2778.5" y="505.5" class="q">"</text>
<text x="2823.5" y="505.5" class="q">"</text>
<text x="2846.5" y="513.1">を入力した時</text>
<circle cx="2962.5" cy="507.5" r="10.5" fill="none" stroke="#fff" stroke-width="2.2"/>
<path d="M2956.5,507.5 h12 M2962.5,501.5 v12" stroke="#fff" stroke-width="3.6" fill="none"/>
<rect x="2641.5" y="531.5" width="313.5" height="48" rx="4" fill="#ea2b1f" stroke="#bb2219" stroke-width="1"/>
<text x="2649.5" y="561.1">変数</text>
<rect x="2689.5" y="539.5" width="107.6" height="32" rx="4" fill="none" stroke="#c02319" stroke-width="1.2"/>
<text x="2697.5" y="561.1">基準座標x</text>
<path d="M2777.1,552.5 h11 l-5.5,6.5 z" fill="#fff"/>
<text x="2805.1" y="561.1">を</text>
<rect x="2829.1" y="539.5" width="61.9" height="32" rx="16" fill="#fff"/>
<text x="2860.05" y="561.1" text-anchor="middle" class="d">-100</text>
<text x="2899" y="561.1">にする</text>
<rect x="2641.5" y="579.5" width="294.3" height="48" rx="4" fill="#ea2b1f" stroke="#bb2219" stroke-width="1"/>
<text x="2649.5" y="609.1">変数</text>
<rect x="2689.5" y="587.5" width="107.6" height="32" rx="4" fill="none" stroke="#c02319" stroke-width="1.2"/>
<text x="2697.5" y="609.1">基準座標y</text>
<path d="M2777.1,600.5 h11 l-5.5,6.5 z" fill="#fff"/>
<text x="2805.1" y="609.1">を</text>
<rect x="2829.1" y="587.5" width="42.7" height="32" rx="16" fill="#fff"/>
<text x="2850.45" y="609.1" text-anchor="middle" class="d">70</text>
<text x="2879.8" y="609.1">にする</text>
<rect x="2641.5" y="627.5" width="303.9" height="48" rx="4" fill="#ea2b1f" stroke="#bb2219" stroke-width="1"/>
<text x="2649.5" y="657.1">変数</text>
<rect x="2689.5" y="635.5" width="107.6" height="32" rx="4" fill="none" stroke="#c02319" stroke-width="1.2"/>
<text x="2697.5" y="657.1">基準座標z</text>
<path d="M2777.1,648.5 h11 l-5.5,6.5 z" fill="#fff"/>
<text x="2805.1" y="657.1">を</text>
<rect x="2829.1" y="635.5" width="52.3" height="32" rx="16" fill="#fff"/>
<text x="2855.25" y="657.1" text-anchor="middle" class="d">-15</text>
<text x="2889.4" y="657.1">にする</text>
<rect x="2641.5" y="675.5" width="152" height="48" rx="4" fill="#235591" stroke="#1c4474" stroke-width="1"/>
<text x="2649.5" y="705.1">呼び出し</text>
<text x="2721.5" y="705.1">床を作る</text>
<rect x="2641.5" y="723.5" width="266" height="128" rx="4" fill="#8f6d40" stroke="#725733" stroke-width="1"/>
<text x="2649.5" y="752.1">ゲームモード</text>
<rect x="2753.5" y="730.5" width="146" height="32" rx="4" fill="none" stroke="#755934" stroke-width="1.2"/>
<text x="2761.5" y="752.1">アドベンチャー</text>
<path d="M2879.5,743.5 h11 l-5.5,6.5 z" fill="#fff"/>
<text x="2649.5" y="796.1">を</text>
<rect x="2673.5" y="770.5" width="210.4" height="40" rx="20" fill="#764bcc" stroke="#a68ade" stroke-width="1"/>
<text x="2685.5" y="796.1">全てのプレーヤー(@a)</text>
<path d="M2859.9,787.5 h11 l-5.5,6.5 z" fill="#fff"/>
<text x="2649.5" y="837.1">に適用する</text>
<path d="M3088.25,503.5 c25,-22 71,-22 96,0 H3396.05 a4,4 0 0 1 4,4 V547.5 a4,4 0 0 1 -4,4 H3108.25 a4,4 0 0 0 -4,4 V739.5 a4,4 0 0 0 4,4 H3396.05 a4,4 0 0 1 4,4 V771.5 a4,4 0 0 1 -4,4 H3092.25 a4,4 0 0 1 -4,-4 z" fill="#235591" stroke="#1c4474" stroke-width="1"/>
<text x="3096.25" y="533.1">function</text>
<rect x="3181.05" y="511.5" width="174" height="32" rx="2" fill="#fff"/>
<text x="3188.05" y="533.1" class="d">基準座標を変数に設定</text>
<circle cx="3375.05" cy="527.5" r="10.5" fill="none" stroke="#fff" stroke-width="2.2"/>
<path d="M3369.05,530.5 l6,-6 l6,6" stroke="#fff" stroke-width="3" fill="none"/>
<rect x="3104.25" y="551.5" width="314.8" height="48" rx="4" fill="#ea2b1f" stroke="#bb2219" stroke-width="1"/>
<text x="3112.25" y="581.1">変数</text>
<rect x="3152.25" y="559.5" width="53.2" height="32" rx="4" fill="none" stroke="#c02319" stroke-width="1.2"/>
<text x="3160.25" y="581.1">x1</text>
<path d="M3185.45,572.5 h11 l-5.5,6.5 z" fill="#fff"/>
<text x="3213.45" y="581.1">を</text>
<rect x="3237.45" y="555.5" width="117.6" height="40" rx="20" fill="#ea2b1f" stroke="#f1756d" stroke-width="1"/>
<text x="3249.45" y="581.1">基準座標x</text>
<path d="M3331.05,572.5 h11 l-5.5,6.5 z" fill="#fff"/>
<text x="3363.05" y="581.1">にする</text>
<rect x="3104.25" y="599.5" width="314.8" height="48" rx="4" fill="#ea2b1f" stroke="#bb2219" stroke-width="1"/>
<text x="3112.25" y="629.1">変数</text>
<rect x="3152.25" y="607.5" width="53.2" height="32" rx="4" fill="none" stroke="#c02319" stroke-width="1.2"/>
<text x="3160.25" y="629.1">x2</text>
<path d="M3185.45,620.5 h11 l-5.5,6.5 z" fill="#fff"/>
<text x="3213.45" y="629.1">を</text>
<rect x="3237.45" y="603.5" width="117.6" height="40" rx="20" fill="#ea2b1f" stroke="#f1756d" stroke-width="1"/>
<text x="3249.45" y="629.1">基準座標x</text>
<path d="M3331.05,620.5 h11 l-5.5,6.5 z" fill="#fff"/>
<text x="3363.05" y="629.1">にする</text>
<rect x="3104.25" y="647.5" width="314.8" height="48" rx="4" fill="#ea2b1f" stroke="#bb2219" stroke-width="1"/>
<text x="3112.25" y="677.1">変数</text>
<rect x="3152.25" y="655.5" width="53.2" height="32" rx="4" fill="none" stroke="#c02319" stroke-width="1.2"/>
<text x="3160.25" y="677.1">z1</text>
<path d="M3185.45,668.5 h11 l-5.5,6.5 z" fill="#fff"/>
<text x="3213.45" y="677.1">を</text>
<rect x="3237.45" y="651.5" width="117.6" height="40" rx="20" fill="#ea2b1f" stroke="#f1756d" stroke-width="1"/>
<text x="3249.45" y="677.1">基準座標z</text>
<path d="M3331.05,668.5 h11 l-5.5,6.5 z" fill="#fff"/>
<text x="3363.05" y="677.1">にする</text>
<rect x="3104.25" y="695.5" width="314.8" height="48" rx="4" fill="#ea2b1f" stroke="#bb2219" stroke-width="1"/>
<text x="3112.25" y="725.1">変数</text>
<rect x="3152.25" y="703.5" width="53.2" height="32" rx="4" fill="none" stroke="#c02319" stroke-width="1.2"/>
<text x="3160.25" y="725.1">z2</text>
<path d="M3185.45,716.5 h11 l-5.5,6.5 z" fill="#fff"/>
<text x="3213.45" y="725.1">を</text>
<rect x="3237.45" y="699.5" width="117.6" height="40" rx="20" fill="#ea2b1f" stroke="#f1756d" stroke-width="1"/>
<text x="3249.45" y="725.1">基準座標z</text>
<path d="M3331.05,716.5 h11 l-5.5,6.5 z" fill="#fff"/>
<text x="3363.05" y="725.1">にする</text>
<path d="M2229.75,956.75 c25,-22 71,-22 96,0 H2412.75 a4,4 0 0 1 4,4 V1000.75 a4,4 0 0 1 -4,4 H2249.75 a4,4 0 0 0 -4,4 V1694.75 a4,4 0 0 0 4,4 H2412.75 a4,4 0 0 1 4,4 V1726.75 a4,4 0 0 1 -4,4 H2233.75 a4,4 0 0 1 -4,-4 z" fill="#235591" stroke="#1c4474" stroke-width="1"/>
<text x="2237.75" y="986.35">function</text>
<rect x="2322.55" y="964.75" width="49.2" height="32" rx="2" fill="#fff"/>
<text x="2329.55" y="986.35" class="d">床01</text>
<circle cx="2391.75" cy="980.75" r="10.5" fill="none" stroke="#fff" stroke-width="2.2"/>
<path d="M2385.75,983.75 l6,-6 l6,6" stroke="#fff" stroke-width="3" fill="none"/>
<path d="M2245.75,1008.75 a4,4 0 0 1 4,-4 H2676.35 a4,4 0 0 1 4,4 V1056.75 a4,4 0 0 1 -4,4 H2265.75 a4,4 0 0 0 -4,4 V1104.75 a4,4 0 0 0 4,4 H2676.35 a4,4 0 0 1 4,4 V1152.75 a4,4 0 0 1 -4,4 H2265.75 a4,4 0 0 0 -4,4 V1214.75 a4,4 0 0 0 4,4 H2676.35 a4,4 0 0 1 4,4 V1246.75 a4,4 0 0 1 -4,4 H2249.75 a4,4 0 0 1 -4,-4 z" fill="#4b969b" stroke="#3c787c" stroke-width="1"/>
<text x="2253.75" y="1038.35">もし</text>
<path d="M2293.75,1032.75 l24,-24 H2608.35 l24,24 l-24,24 H2317.75 z" fill="#4b969b" stroke="#8cc6ca" stroke-width="1.5"/>
<rect x="2319.25" y="1012.75" width="188" height="40" rx="20" fill="#ea2b1f" stroke="#f1756d" stroke-width="1"/>
<text x="2331.25" y="1038.35">追加削除制御フラグ</text>
<path d="M2483.25,1029.75 h11 l-5.5,6.5 z" fill="#fff"/>
<rect x="2515.25" y="1016.75" width="43.6" height="32" rx="4" fill="none" stroke="#3e7b7f" stroke-width="1.2"/>
<text x="2523.25" y="1038.35">=</text>
<path d="M2538.85,1029.75 h11 l-5.5,6.5 z" fill="#fff"/>
<rect x="2566.85" y="1016.75" width="40" height="32" rx="16" fill="#fff"/>
<text x="2586.85" y="1038.35" text-anchor="middle" class="d">1</text>
<text x="2640.35" y="1038.35">なら</text>
<rect x="2261.75" y="1060.75" width="407.6" height="48" rx="4" fill="#ea2b1f" stroke="#bb2219" stroke-width="1"/>
<text x="2269.75" y="1090.35">変数</text>
<rect x="2309.75" y="1068.75" width="130" height="32" rx="4" fill="none" stroke="#c02319" stroke-width="1.2"/>
<text x="2317.75" y="1090.35">ブロック変数</text>
<path d="M2419.75,1081.75 h11 l-5.5,6.5 z" fill="#fff"/>
<text x="2447.75" y="1090.35">を</text>
<rect x="2471.75" y="1064.75" width="133.6" height="40" rx="20" fill="#ea2b1f" stroke="#f1756d" stroke-width="1"/>
<text x="2483.75" y="1090.35">床ブロック1</text>
<path d="M2581.35,1081.75 h11 l-5.5,6.5 z" fill="#fff"/>
<text x="2613.35" y="1090.35">にする</text>
<text x="2253.75" y="1138.35">でなければ</text>
<circle cx="2660.35" cy="1132.75" r="10.5" fill="none" stroke="#fff" stroke-width="2.2"/>
<path d="M2654.35,1132.75 h12" stroke="#fff" stroke-width="3.6" fill="none"/>
<rect x="2261.75" y="1156.75" width="370" height="62" rx="4" fill="#ea2b1f" stroke="#bb2219" stroke-width="1"/>
<text x="2269.75" y="1193.35">変数</text>
<rect x="2309.75" y="1171.75" width="130" height="32" rx="4" fill="none" stroke="#c02319" stroke-width="1.2"/>
<text x="2317.75" y="1193.35">ブロック変数</text>
<path d="M2419.75,1184.75 h11 l-5.5,6.5 z" fill="#fff"/>
<text x="2447.75" y="1193.35">を</text>
<rect x="2471.75" y="1160.75" width="96" height="54" rx="27" fill="#7abb55" stroke="#689f48" stroke-width="1"/>
<rect x="2484.75" y="1161.25" width="70" height="53" fill="#73b050" opacity="0.5" stroke="#5f9242" stroke-width="1"/>
<path d="M2494.75,1179.75 l15,-8 l15,8 l-15,8 z" fill="#c4ecd6"/>
<path d="M2494.75,1179.75 l15,8 v17 l-15,-8 z" fill="#a4dcbe"/>
<path d="M2509.75,1187.75 l15,-8 v17 l-15,8 z" fill="#86c8a6"/>
<path d="M2537.75,1184.75 h11 l-5.5,6.5 z" fill="#fff"/>
<text x="2575.75" y="1193.35">にする</text>
<circle cx="2265.75" cy="1234.75" r="10.5" fill="none" stroke="#fff" stroke-width="2.2"/>
<path d="M2259.75,1234.75 h12 M2265.75,1228.75 v12" stroke="#fff" stroke-width="3.6" fill="none"/>
<rect x="2245.75" y="1250.75" width="248" height="48" rx="4" fill="#235591" stroke="#1c4474" stroke-width="1"/>
<text x="2253.75" y="1280.35">呼び出し</text>
<text x="2325.75" y="1280.35">基準座標を変数に設定</text>
<rect x="2245.75" y="1298.75" width="269.2" height="48" rx="4" fill="#ea2b1f" stroke="#bb2219" stroke-width="1"/>
<text x="2253.75" y="1328.35">変数</text>
<rect x="2293.75" y="1306.75" width="53.2" height="32" rx="4" fill="none" stroke="#c02319" stroke-width="1.2"/>
<text x="2301.75" y="1328.35">x1</text>
<path d="M2326.95,1319.75 h11 l-5.5,6.5 z" fill="#fff"/>
<text x="2354.95" y="1328.35">を</text>
<rect x="2378.95" y="1306.75" width="40" height="32" rx="16" fill="#fff"/>
<text x="2398.95" y="1328.35" text-anchor="middle" class="d">0</text>
<text x="2426.95" y="1328.35">だけ増やす</text>
<rect x="2245.75" y="1346.75" width="269.2" height="48" rx="4" fill="#ea2b1f" stroke="#bb2219" stroke-width="1"/>
<text x="2253.75" y="1376.35">変数</text>
<rect x="2293.75" y="1354.75" width="53.2" height="32" rx="4" fill="none" stroke="#c02319" stroke-width="1.2"/>
<text x="2301.75" y="1376.35">z1</text>
<path d="M2326.95,1367.75 h11 l-5.5,6.5 z" fill="#fff"/>
<text x="2354.95" y="1376.35">を</text>
<rect x="2378.95" y="1354.75" width="40" height="32" rx="16" fill="#fff"/>
<text x="2398.95" y="1376.35" text-anchor="middle" class="d">0</text>
<text x="2426.95" y="1376.35">だけ増やす</text>
<rect x="2245.75" y="1394.75" width="269.2" height="48" rx="4" fill="#ea2b1f" stroke="#bb2219" stroke-width="1"/>
<text x="2253.75" y="1424.35">変数</text>
<rect x="2293.75" y="1402.75" width="53.2" height="32" rx="4" fill="none" stroke="#c02319" stroke-width="1.2"/>
<text x="2301.75" y="1424.35">x2</text>
<path d="M2326.95,1415.75 h11 l-5.5,6.5 z" fill="#fff"/>
<text x="2354.95" y="1424.35">を</text>
<rect x="2378.95" y="1402.75" width="40" height="32" rx="16" fill="#fff"/>
<text x="2398.95" y="1424.35" text-anchor="middle" class="d">4</text>
<text x="2426.95" y="1424.35">だけ増やす</text>
<rect x="2245.75" y="1442.75" width="271.9" height="48" rx="4" fill="#ea2b1f" stroke="#bb2219" stroke-width="1"/>
<text x="2253.75" y="1472.35">変数</text>
<rect x="2293.75" y="1450.75" width="53.2" height="32" rx="4" fill="none" stroke="#c02319" stroke-width="1.2"/>
<text x="2301.75" y="1472.35">z2</text>
<path d="M2326.95,1463.75 h11 l-5.5,6.5 z" fill="#fff"/>
<text x="2354.95" y="1472.35">を</text>
<rect x="2378.95" y="1450.75" width="42.7" height="32" rx="16" fill="#fff"/>
<text x="2400.3" y="1472.35" text-anchor="middle" class="d">-4</text>
<text x="2429.65" y="1472.35">だけ増やす</text>
<rect x="2245.75" y="1490.75" width="468" height="208" rx="4" fill="#7abb55" stroke="#629644" stroke-width="1"/>
<text x="2253.75" y="1524.35">ブロックを並べる</text>
<rect x="2389.75" y="1498.75" width="140" height="40" rx="20" fill="#ea2b1f" stroke="#f1756d" stroke-width="1"/>
<text x="2401.75" y="1524.35">ブロック変数</text>
<path d="M2505.75,1515.75 h11 l-5.5,6.5 z" fill="#fff"/>
<text x="2253.75" y="1577.35">範囲の始まり</text>
<rect x="2357.75" y="1547.75" width="348" height="48" rx="24" fill="#69b090" stroke="#5a9c7e" stroke-width="1"/>
<text x="2369.75" y="1577.35">ワールド</text>
<rect x="2441.75" y="1551.75" width="63.2" height="40" rx="20" fill="#ea2b1f" stroke="#f1756d" stroke-width="1"/>
<text x="2453.75" y="1577.35">x1</text>
<path d="M2480.95,1568.75 h11 l-5.5,6.5 z" fill="#fff"/>
<rect x="2512.95" y="1551.75" width="117.6" height="40" rx="20" fill="#ea2b1f" stroke="#f1756d" stroke-width="1"/>
<text x="2524.95" y="1577.35">基準座標y</text>
<path d="M2606.55,1568.75 h11 l-5.5,6.5 z" fill="#fff"/>
<rect x="2638.55" y="1551.75" width="63.2" height="40" rx="20" fill="#ea2b1f" stroke="#f1756d" stroke-width="1"/>
<text x="2650.55" y="1577.35">z1</text>
<path d="M2677.75,1568.75 h11 l-5.5,6.5 z" fill="#fff"/>
<text x="2253.75" y="1631.35">範囲の終わり</text>
<rect x="2357.75" y="1601.75" width="348" height="48" rx="24" fill="#69b090" stroke="#5a9c7e" stroke-width="1"/>
<text x="2369.75" y="1631.35">ワールド</text>
<rect x="2441.75" y="1605.75" width="63.2" height="40" rx="20" fill="#ea2b1f" stroke="#f1756d" stroke-width="1"/>
<text x="2453.75" y="1631.35">x2</text>
<path d="M2480.95,1622.75 h11 l-5.5,6.5 z" fill="#fff"/>
<rect x="2512.95" y="1605.75" width="117.6" height="40" rx="20" fill="#ea2b1f" stroke="#f1756d" stroke-width="1"/>
<text x="2524.95" y="1631.35">基準座標y</text>
<path d="M2606.55,1622.75 h11 l-5.5,6.5 z" fill="#fff"/>
<rect x="2638.55" y="1605.75" width="63.2" height="40" rx="20" fill="#ea2b1f" stroke="#f1756d" stroke-width="1"/>
<text x="2650.55" y="1631.35">z2</text>
<path d="M2677.75,1622.75 h11 l-5.5,6.5 z" fill="#fff"/>
<text x="2253.75" y="1682.35">モード</text>
<rect x="2309.75" y="1660.75" width="194" height="32" rx="4" fill="none" stroke="#649946" stroke-width="1.2"/>
<text x="2317.75" y="1682.35">置き換え (replace)</text>
<path d="M2483.75,1673.75 h11 l-5.5,6.5 z" fill="#fff"/>
<path d="M2831.25,989.25 c25,-22 71,-22 96,0 H3014.25 a4,4 0 0 1 4,4 V1033.25 a4,4 0 0 1 -4,4 H2851.25 a4,4 0 0 0 -4,4 V1727.25 a4,4 0 0 0 4,4 H3014.25 a4,4 0 0 1 4,4 V1759.25 a4,4 0 0 1 -4,4 H2835.25 a4,4 0 0 1 -4,-4 z" fill="#235591" stroke="#1c4474" stroke-width="1"/>
<text x="2839.25" y="1018.85">function</text>
<rect x="2924.05" y="997.25" width="49.2" height="32" rx="2" fill="#fff"/>
<text x="2931.05" y="1018.85" class="d">床02</text>
<circle cx="2993.25" cy="1013.25" r="10.5" fill="none" stroke="#fff" stroke-width="2.2"/>
<path d="M2987.25,1016.25 l6,-6 l6,6" stroke="#fff" stroke-width="3" fill="none"/>
<path d="M2847.25,1041.25 a4,4 0 0 1 4,-4 H3277.85 a4,4 0 0 1 4,4 V1089.25 a4,4 0 0 1 -4,4 H2867.25 a4,4 0 0 0 -4,4 V1137.25 a4,4 0 0 0 4,4 H3277.85 a4,4 0 0 1 4,4 V1185.25 a4,4 0 0 1 -4,4 H2867.25 a4,4 0 0 0 -4,4 V1247.25 a4,4 0 0 0 4,4 H3277.85 a4,4 0 0 1 4,4 V1279.25 a4,4 0 0 1 -4,4 H2851.25 a4,4 0 0 1 -4,-4 z" fill="#4b969b" stroke="#3c787c" stroke-width="1"/>
<text x="2855.25" y="1070.85">もし</text>
<path d="M2895.25,1065.25 l24,-24 H3209.85 l24,24 l-24,24 H2919.25 z" fill="#4b969b" stroke="#8cc6ca" stroke-width="1.5"/>
<rect x="2920.75" y="1045.25" width="188" height="40" rx="20" fill="#ea2b1f" stroke="#f1756d" stroke-width="1"/>
<text x="2932.75" y="1070.85">追加削除制御フラグ</text>
<path d="M3084.75,1062.25 h11 l-5.5,6.5 z" fill="#fff"/>
<rect x="3116.75" y="1049.25" width="43.6" height="32" rx="4" fill="none" stroke="#3e7b7f" stroke-width="1.2"/>
<text x="3124.75" y="1070.85">=</text>
<path d="M3140.35,1062.25 h11 l-5.5,6.5 z" fill="#fff"/>
<rect x="3168.35" y="1049.25" width="40" height="32" rx="16" fill="#fff"/>
<text x="3188.35" y="1070.85" text-anchor="middle" class="d">1</text>
<text x="3241.85" y="1070.85">なら</text>
<rect x="2863.25" y="1093.25" width="407.6" height="48" rx="4" fill="#ea2b1f" stroke="#bb2219" stroke-width="1"/>
<text x="2871.25" y="1122.85">変数</text>
<rect x="2911.25" y="1101.25" width="130" height="32" rx="4" fill="none" stroke="#c02319" stroke-width="1.2"/>
<text x="2919.25" y="1122.85">ブロック変数</text>
<path d="M3021.25,1114.25 h11 l-5.5,6.5 z" fill="#fff"/>
<text x="3049.25" y="1122.85">を</text>
<rect x="3073.25" y="1097.25" width="133.6" height="40" rx="20" fill="#ea2b1f" stroke="#f1756d" stroke-width="1"/>
<text x="3085.25" y="1122.85">床ブロック2</text>
<path d="M3182.85,1114.25 h11 l-5.5,6.5 z" fill="#fff"/>
<text x="3214.85" y="1122.85">にする</text>
<text x="2855.25" y="1170.85">でなければ</text>
<circle cx="3261.85" cy="1165.25" r="10.5" fill="none" stroke="#fff" stroke-width="2.2"/>
<path d="M3255.85,1165.25 h12" stroke="#fff" stroke-width="3.6" fill="none"/>
<rect x="2863.25" y="1189.25" width="370" height="62" rx="4" fill="#ea2b1f" stroke="#bb2219" stroke-width="1"/>
<text x="2871.25" y="1225.85">変数</text>
<rect x="2911.25" y="1204.25" width="130" height="32" rx="4" fill="none" stroke="#c02319" stroke-width="1.2"/>
<text x="2919.25" y="1225.85">ブロック変数</text>
<path d="M3021.25,1217.25 h11 l-5.5,6.5 z" fill="#fff"/>
<text x="3049.25" y="1225.85">を</text>
<rect x="3073.25" y="1193.25" width="96" height="54" rx="27" fill="#7abb55" stroke="#689f48" stroke-width="1"/>
<rect x="3086.25" y="1193.75" width="70" height="53" fill="#73b050" opacity="0.5" stroke="#5f9242" stroke-width="1"/>
<path d="M3096.25,1212.25 l15,-8 l15,8 l-15,8 z" fill="#c4ecd6"/>
<path d="M3096.25,1212.25 l15,8 v17 l-15,-8 z" fill="#a4dcbe"/>
<path d="M3111.25,1220.25 l15,-8 v17 l-15,8 z" fill="#86c8a6"/>
<path d="M3139.25,1217.25 h11 l-5.5,6.5 z" fill="#fff"/>
<text x="3177.25" y="1225.85">にする</text>
<circle cx="2867.25" cy="1267.25" r="10.5" fill="none" stroke="#fff" stroke-width="2.2"/>
<path d="M2861.25,1267.25 h12 M2867.25,1261.25 v12" stroke="#fff" stroke-width="3.6" fill="none"/>
<rect x="2847.25" y="1283.25" width="248" height="48" rx="4" fill="#235591" stroke="#1c4474" stroke-width="1"/>
<text x="2855.25" y="1312.85">呼び出し</text>
<text x="2927.25" y="1312.85">基準座標を変数に設定</text>
<rect x="2847.25" y="1331.25" width="269.2" height="48" rx="4" fill="#ea2b1f" stroke="#bb2219" stroke-width="1"/>
<text x="2855.25" y="1360.85">変数</text>
<rect x="2895.25" y="1339.25" width="53.2" height="32" rx="4" fill="none" stroke="#c02319" stroke-width="1.2"/>
<text x="2903.25" y="1360.85">x1</text>
<path d="M2928.45,1352.25 h11 l-5.5,6.5 z" fill="#fff"/>
<text x="2956.45" y="1360.85">を</text>
<rect x="2980.45" y="1339.25" width="40" height="32" rx="16" fill="#fff"/>
<text x="3000.45" y="1360.85" text-anchor="middle" class="d">5</text>
<text x="3028.45" y="1360.85">だけ増やす</text>
<rect x="2847.25" y="1379.25" width="269.2" height="48" rx="4" fill="#ea2b1f" stroke="#bb2219" stroke-width="1"/>
<text x="2855.25" y="1408.85">変数</text>
<rect x="2895.25" y="1387.25" width="53.2" height="32" rx="4" fill="none" stroke="#c02319" stroke-width="1.2"/>
<text x="2903.25" y="1408.85">z1</text>
<path d="M2928.45,1400.25 h11 l-5.5,6.5 z" fill="#fff"/>
<text x="2956.45" y="1408.85">を</text>
<rect x="2980.45" y="1387.25" width="40" height="32" rx="16" fill="#fff"/>
<text x="3000.45" y="1408.85" text-anchor="middle" class="d">0</text>
<text x="3028.45" y="1408.85">だけ増やす</text>
<rect x="2847.25" y="1427.25" width="269.2" height="48" rx="4" fill="#ea2b1f" stroke="#bb2219" stroke-width="1"/>
<text x="2855.25" y="1456.85">変数</text>
<rect x="2895.25" y="1435.25" width="53.2" height="32" rx="4" fill="none" stroke="#c02319" stroke-width="1.2"/>
<text x="2903.25" y="1456.85">x2</text>
<path d="M2928.45,1448.25 h11 l-5.5,6.5 z" fill="#fff"/>
<text x="2956.45" y="1456.85">を</text>
<rect x="2980.45" y="1435.25" width="40" height="32" rx="16" fill="#fff"/>
<text x="3000.45" y="1456.85" text-anchor="middle" class="d">9</text>
<text x="3028.45" y="1456.85">だけ増やす</text>
<rect x="2847.25" y="1475.25" width="271.9" height="48" rx="4" fill="#ea2b1f" stroke="#bb2219" stroke-width="1"/>
<text x="2855.25" y="1504.85">変数</text>
<rect x="2895.25" y="1483.25" width="53.2" height="32" rx="4" fill="none" stroke="#c02319" stroke-width="1.2"/>
<text x="2903.25" y="1504.85">z2</text>
<path d="M2928.45,1496.25 h11 l-5.5,6.5 z" fill="#fff"/>
<text x="2956.45" y="1504.85">を</text>
<rect x="2980.45" y="1483.25" width="42.7" height="32" rx="16" fill="#fff"/>
<text x="3001.8" y="1504.85" text-anchor="middle" class="d">-4</text>
<text x="3031.15" y="1504.85">だけ増やす</text>
<rect x="2847.25" y="1523.25" width="468" height="208" rx="4" fill="#7abb55" stroke="#629644" stroke-width="1"/>
<text x="2855.25" y="1556.85">ブロックを並べる</text>
<rect x="2991.25" y="1531.25" width="140" height="40" rx="20" fill="#ea2b1f" stroke="#f1756d" stroke-width="1"/>
<text x="3003.25" y="1556.85">ブロック変数</text>
<path d="M3107.25,1548.25 h11 l-5.5,6.5 z" fill="#fff"/>
<text x="2855.25" y="1609.85">範囲の始まり</text>
<rect x="2959.25" y="1580.25" width="348" height="48" rx="24" fill="#69b090" stroke="#5a9c7e" stroke-width="1"/>
<text x="2971.25" y="1609.85">ワールド</text>
<rect x="3043.25" y="1584.25" width="63.2" height="40" rx="20" fill="#ea2b1f" stroke="#f1756d" stroke-width="1"/>
<text x="3055.25" y="1609.85">x1</text>
<path d="M3082.45,1601.25 h11 l-5.5,6.5 z" fill="#fff"/>
<rect x="3114.45" y="1584.25" width="117.6" height="40" rx="20" fill="#ea2b1f" stroke="#f1756d" stroke-width="1"/>
<text x="3126.45" y="1609.85">基準座標y</text>
<path d="M3208.05,1601.25 h11 l-5.5,6.5 z" fill="#fff"/>
<rect x="3240.05" y="1584.25" width="63.2" height="40" rx="20" fill="#ea2b1f" stroke="#f1756d" stroke-width="1"/>
<text x="3252.05" y="1609.85">z1</text>
<path d="M3279.25,1601.25 h11 l-5.5,6.5 z" fill="#fff"/>
<text x="2855.25" y="1663.85">範囲の終わり</text>
<rect x="2959.25" y="1634.25" width="348" height="48" rx="24" fill="#69b090" stroke="#5a9c7e" stroke-width="1"/>
<text x="2971.25" y="1663.85">ワールド</text>
<rect x="3043.25" y="1638.25" width="63.2" height="40" rx="20" fill="#ea2b1f" stroke="#f1756d" stroke-width="1"/>
<text x="3055.25" y="1663.85">x2</text>
<path d="M3082.45,1655.25 h11 l-5.5,6.5 z" fill="#fff"/>
<rect x="3114.45" y="1638.25" width="117.6" height="40" rx="20" fill="#ea2b1f" stroke="#f1756d" stroke-width="1"/>
<text x="3126.45" y="1663.85">基準座標y</text>
<path d="M3208.05,1655.25 h11 l-5.5,6.5 z" fill="#fff"/>
<rect x="3240.05" y="1638.25" width="63.2" height="40" rx="20" fill="#ea2b1f" stroke="#f1756d" stroke-width="1"/>
<text x="3252.05" y="1663.85">z2</text>
<path d="M3279.25,1655.25 h11 l-5.5,6.5 z" fill="#fff"/>
<text x="2855.25" y="1714.85">モード</text>
<rect x="2911.25" y="1693.25" width="194" height="32" rx="4" fill="none" stroke="#649946" stroke-width="1.2"/>
<text x="2919.25" y="1714.85">置き換え (replace)</text>
<path d="M3085.25,1706.25 h11 l-5.5,6.5 z" fill="#fff"/>
<path d="M3376.5,957.75 c25,-22 71,-22 96,0 H3559.5 a4,4 0 0 1 4,4 V1001.75 a4,4 0 0 1 -4,4 H3396.5 a4,4 0 0 0 -4,4 V1695.75 a4,4 0 0 0 4,4 H3559.5 a4,4 0 0 1 4,4 V1727.75 a4,4 0 0 1 -4,4 H3380.5 a4,4 0 0 1 -4,-4 z" fill="#235591" stroke="#1c4474" stroke-width="1"/>
<text x="3384.5" y="987.35">function</text>
<rect x="3469.3" y="965.75" width="49.2" height="32" rx="2" fill="#fff"/>
<text x="3476.3" y="987.35" class="d">床03</text>
<circle cx="3538.5" cy="981.75" r="10.5" fill="none" stroke="#fff" stroke-width="2.2"/>
<path d="M3532.5,984.75 l6,-6 l6,6" stroke="#fff" stroke-width="3" fill="none"/>
<path d="M3392.5,1009.75 a4,4 0 0 1 4,-4 H3823.1 a4,4 0 0 1 4,4 V1057.75 a4,4 0 0 1 -4,4 H3412.5 a4,4 0 0 0 -4,4 V1105.75 a4,4 0 0 0 4,4 H3823.1 a4,4 0 0 1 4,4 V1153.75 a4,4 0 0 1 -4,4 H3412.5 a4,4 0 0 0 -4,4 V1215.75 a4,4 0 0 0 4,4 H3823.1 a4,4 0 0 1 4,4 V1247.75 a4,4 0 0 1 -4,4 H3396.5 a4,4 0 0 1 -4,-4 z" fill="#4b969b" stroke="#3c787c" stroke-width="1"/>
<text x="3400.5" y="1039.35">もし</text>
<path d="M3440.5,1033.75 l24,-24 H3755.1 l24,24 l-24,24 H3464.5 z" fill="#4b969b" stroke="#8cc6ca" stroke-width="1.5"/>
<rect x="3466" y="1013.75" width="188" height="40" rx="20" fill="#ea2b1f" stroke="#f1756d" stroke-width="1"/>
<text x="3478" y="1039.35">追加削除制御フラグ</text>
<path d="M3630,1030.75 h11 l-5.5,6.5 z" fill="#fff"/>
<rect x="3662" y="1017.75" width="43.6" height="32" rx="4" fill="none" stroke="#3e7b7f" stroke-width="1.2"/>
<text x="3670" y="1039.35">=</text>
<path d="M3685.6,1030.75 h11 l-5.5,6.5 z" fill="#fff"/>
<rect x="3713.6" y="1017.75" width="40" height="32" rx="16" fill="#fff"/>
<text x="3733.6" y="1039.35" text-anchor="middle" class="d">1</text>
<text x="3787.1" y="1039.35">なら</text>
<rect x="3408.5" y="1061.75" width="407.6" height="48" rx="4" fill="#ea2b1f" stroke="#bb2219" stroke-width="1"/>
<text x="3416.5" y="1091.35">変数</text>
<rect x="3456.5" y="1069.75" width="130" height="32" rx="4" fill="none" stroke="#c02319" stroke-width="1.2"/>
<text x="3464.5" y="1091.35">ブロック変数</text>
<path d="M3566.5,1082.75 h11 l-5.5,6.5 z" fill="#fff"/>
<text x="3594.5" y="1091.35">を</text>
<rect x="3618.5" y="1065.75" width="133.6" height="40" rx="20" fill="#ea2b1f" stroke="#f1756d" stroke-width="1"/>
<text x="3630.5" y="1091.35">床ブロック1</text>
<path d="M3728.1,1082.75 h11 l-5.5,6.5 z" fill="#fff"/>
<text x="3760.1" y="1091.35">にする</text>
<text x="3400.5" y="1139.35">でなければ</text>
<circle cx="3807.1" cy="1133.75" r="10.5" fill="none" stroke="#fff" stroke-width="2.2"/>
<path d="M3801.1,1133.75 h12" stroke="#fff" stroke-width="3.6" fill="none"/>
<rect x="3408.5" y="1157.75" width="370" height="62" rx="4" fill="#ea2b1f" stroke="#bb2219" stroke-width="1"/>
<text x="3416.5" y="1194.35">変数</text>
<rect x="3456.5" y="1172.75" width="130" height="32" rx="4" fill="none" stroke="#c02319" stroke-width="1.2"/>
<text x="3464.5" y="1194.35">ブロック変数</text>
<path d="M3566.5,1185.75 h11 l-5.5,6.5 z" fill="#fff"/>
<text x="3594.5" y="1194.35">を</text>
<rect x="3618.5" y="1161.75" width="96" height="54" rx="27" fill="#7abb55" stroke="#689f48" stroke-width="1"/>
<rect x="3631.5" y="1162.25" width="70" height="53" fill="#73b050" opacity="0.5" stroke="#5f9242" stroke-width="1"/>
<path d="M3641.5,1180.75 l15,-8 l15,8 l-15,8 z" fill="#c4ecd6"/>
<path d="M3641.5,1180.75 l15,8 v17 l-15,-8 z" fill="#a4dcbe"/>
<path d="M3656.5,1188.75 l15,-8 v17 l-15,8 z" fill="#86c8a6"/>
<path d="M3684.5,1185.75 h11 l-5.5,6.5 z" fill="#fff"/>
<text x="3722.5" y="1194.35">にする</text>
<circle cx="3412.5" cy="1235.75" r="10.5" fill="none" stroke="#fff" stroke-width="2.2"/>
<path d="M3406.5,1235.75 h12 M3412.5,1229.75 v12" stroke="#fff" stroke-width="3.6" fill="none"/>
<rect x="3392.5" y="1251.75" width="248" height="48" rx="4" fill="#235591" stroke="#1c4474" stroke-width="1"/>
<text x="3400.5" y="1281.35">呼び出し</text>
<text x="3472.5" y="1281.35">基準座標を変数に設定</text>
<rect x="3392.5" y="1299.75" width="271.9" height="48" rx="4" fill="#ea2b1f" stroke="#bb2219" stroke-width="1"/>
<text x="3400.5" y="1329.35">変数</text>
<rect x="3440.5" y="1307.75" width="53.2" height="32" rx="4" fill="none" stroke="#c02319" stroke-width="1.2"/>
<text x="3448.5" y="1329.35">x1</text>
<path d="M3473.7,1320.75 h11 l-5.5,6.5 z" fill="#fff"/>
<text x="3501.7" y="1329.35">を</text>
<rect x="3525.7" y="1307.75" width="42.7" height="32" rx="16" fill="#fff"/>
<text x="3547.05" y="1329.35" text-anchor="middle" class="d">10</text>
<text x="3576.4" y="1329.35">だけ増やす</text>
<rect x="3392.5" y="1347.75" width="269.2" height="48" rx="4" fill="#ea2b1f" stroke="#bb2219" stroke-width="1"/>
<text x="3400.5" y="1377.35">変数</text>
<rect x="3440.5" y="1355.75" width="53.2" height="32" rx="4" fill="none" stroke="#c02319" stroke-width="1.2"/>
<text x="3448.5" y="1377.35">z1</text>
<path d="M3473.7,1368.75 h11 l-5.5,6.5 z" fill="#fff"/>
<text x="3501.7" y="1377.35">を</text>
<rect x="3525.7" y="1355.75" width="40" height="32" rx="16" fill="#fff"/>
<text x="3545.7" y="1377.35" text-anchor="middle" class="d">0</text>
<text x="3573.7" y="1377.35">だけ増やす</text>
<rect x="3392.5" y="1395.75" width="271.9" height="48" rx="4" fill="#ea2b1f" stroke="#bb2219" stroke-width="1"/>
<text x="3400.5" y="1425.35">変数</text>
<rect x="3440.5" y="1403.75" width="53.2" height="32" rx="4" fill="none" stroke="#c02319" stroke-width="1.2"/>
<text x="3448.5" y="1425.35">x2</text>
<path d="M3473.7,1416.75 h11 l-5.5,6.5 z" fill="#fff"/>
<text x="3501.7" y="1425.35">を</text>
<rect x="3525.7" y="1403.75" width="42.7" height="32" rx="16" fill="#fff"/>
<text x="3547.05" y="1425.35" text-anchor="middle" class="d">14</text>
<text x="3576.4" y="1425.35">だけ増やす</text>
<rect x="3392.5" y="1443.75" width="271.9" height="48" rx="4" fill="#ea2b1f" stroke="#bb2219" stroke-width="1"/>
<text x="3400.5" y="1473.35">変数</text>
<rect x="3440.5" y="1451.75" width="53.2" height="32" rx="4" fill="none" stroke="#c02319" stroke-width="1.2"/>
<text x="3448.5" y="1473.35">z2</text>
<path d="M3473.7,1464.75 h11 l-5.5,6.5 z" fill="#fff"/>
<text x="3501.7" y="1473.35">を</text>
<rect x="3525.7" y="1451.75" width="42.7" height="32" rx="16" fill="#fff"/>
<text x="3547.05" y="1473.35" text-anchor="middle" class="d">-4</text>
<text x="3576.4" y="1473.35">だけ増やす</text>
<rect x="3392.5" y="1491.75" width="468" height="208" rx="4" fill="#7abb55" stroke="#629644" stroke-width="1"/>
<text x="3400.5" y="1525.35">ブロックを並べる</text>
<rect x="3536.5" y="1499.75" width="140" height="40" rx="20" fill="#ea2b1f" stroke="#f1756d" stroke-width="1"/>
<text x="3548.5" y="1525.35">ブロック変数</text>
<path d="M3652.5,1516.75 h11 l-5.5,6.5 z" fill="#fff"/>
<text x="3400.5" y="1578.35">範囲の始まり</text>
<rect x="3504.5" y="1548.75" width="348" height="48" rx="24" fill="#69b090" stroke="#5a9c7e" stroke-width="1"/>
<text x="3516.5" y="1578.35">ワールド</text>
<rect x="3588.5" y="1552.75" width="63.2" height="40" rx="20" fill="#ea2b1f" stroke="#f1756d" stroke-width="1"/>
<text x="3600.5" y="1578.35">x1</text>
<path d="M3627.7,1569.75 h11 l-5.5,6.5 z" fill="#fff"/>
<rect x="3659.7" y="1552.75" width="117.6" height="40" rx="20" fill="#ea2b1f" stroke="#f1756d" stroke-width="1"/>
<text x="3671.7" y="1578.35">基準座標y</text>
<path d="M3753.3,1569.75 h11 l-5.5,6.5 z" fill="#fff"/>
<rect x="3785.3" y="1552.75" width="63.2" height="40" rx="20" fill="#ea2b1f" stroke="#f1756d" stroke-width="1"/>
<text x="3797.3" y="1578.35">z1</text>
<path d="M3824.5,1569.75 h11 l-5.5,6.5 z" fill="#fff"/>
<text x="3400.5" y="1632.35">範囲の終わり</text>
<rect x="3504.5" y="1602.75" width="348" height="48" rx="24" fill="#69b090" stroke="#5a9c7e" stroke-width="1"/>
<text x="3516.5" y="1632.35">ワールド</text>
<rect x="3588.5" y="1606.75" width="63.2" height="40" rx="20" fill="#ea2b1f" stroke="#f1756d" stroke-width="1"/>
<text x="3600.5" y="1632.35">x2</text>
<path d="M3627.7,1623.75 h11 l-5.5,6.5 z" fill="#fff"/>
<rect x="3659.7" y="1606.75" width="117.6" height="40" rx="20" fill="#ea2b1f" stroke="#f1756d" stroke-width="1"/>
<text x="3671.7" y="1632.35">基準座標y</text>
<path d="M3753.3,1623.75 h11 l-5.5,6.5 z" fill="#fff"/>
<rect x="3785.3" y="1606.75" width="63.2" height="40" rx="20" fill="#ea2b1f" stroke="#f1756d" stroke-width="1"/>
<text x="3797.3" y="1632.35">z2</text>
<path d="M3824.5,1623.75 h11 l-5.5,6.5 z" fill="#fff"/>
<text x="3400.5" y="1683.35">モード</text>
<rect x="3456.5" y="1661.75" width="194" height="32" rx="4" fill="none" stroke="#649946" stroke-width="1.2"/>
<text x="3464.5" y="1683.35">置き換え (replace)</text>
<path d="M3630.5,1674.75 h11 l-5.5,6.5 z" fill="#fff"/>
<path d="M4020.5,978.75 c25,-22 71,-22 96,0 H4203.5 a4,4 0 0 1 4,4 V1022.75 a4,4 0 0 1 -4,4 H4040.5 a4,4 0 0 0 -4,4 V1716.75 a4,4 0 0 0 4,4 H4203.5 a4,4 0 0 1 4,4 V1748.75 a4,4 0 0 1 -4,4 H4024.5 a4,4 0 0 1 -4,-4 z" fill="#235591" stroke="#1c4474" stroke-width="1"/>
<text x="4028.5" y="1008.35">function</text>
<rect x="4113.3" y="986.75" width="49.2" height="32" rx="2" fill="#fff"/>
<text x="4120.3" y="1008.35" class="d">床04</text>
<circle cx="4182.5" cy="1002.75" r="10.5" fill="none" stroke="#fff" stroke-width="2.2"/>
<path d="M4176.5,1005.75 l6,-6 l6,6" stroke="#fff" stroke-width="3" fill="none"/>
<path d="M4036.5,1030.75 a4,4 0 0 1 4,-4 H4467.1 a4,4 0 0 1 4,4 V1078.75 a4,4 0 0 1 -4,4 H4056.5 a4,4 0 0 0 -4,4 V1126.75 a4,4 0 0 0 4,4 H4467.1 a4,4 0 0 1 4,4 V1174.75 a4,4 0 0 1 -4,4 H4056.5 a4,4 0 0 0 -4,4 V1236.75 a4,4 0 0 0 4,4 H4467.1 a4,4 0 0 1 4,4 V1268.75 a4,4 0 0 1 -4,4 H4040.5 a4,4 0 0 1 -4,-4 z" fill="#4b969b" stroke="#3c787c" stroke-width="1"/>
<text x="4044.5" y="1060.35">もし</text>
<path d="M4084.5,1054.75 l24,-24 H4399.1 l24,24 l-24,24 H4108.5 z" fill="#4b969b" stroke="#8cc6ca" stroke-width="1.5"/>
<rect x="4110" y="1034.75" width="188" height="40" rx="20" fill="#ea2b1f" stroke="#f1756d" stroke-width="1"/>
<text x="4122" y="1060.35">追加削除制御フラグ</text>
<path d="M4274,1051.75 h11 l-5.5,6.5 z" fill="#fff"/>
<rect x="4306" y="1038.75" width="43.6" height="32" rx="4" fill="none" stroke="#3e7b7f" stroke-width="1.2"/>
<text x="4314" y="1060.35">=</text>
<path d="M4329.6,1051.75 h11 l-5.5,6.5 z" fill="#fff"/>
<rect x="4357.6" y="1038.75" width="40" height="32" rx="16" fill="#fff"/>
<text x="4377.6" y="1060.35" text-anchor="middle" class="d">1</text>
<text x="4431.1" y="1060.35">なら</text>
<rect x="4052.5" y="1082.75" width="407.6" height="48" rx="4" fill="#ea2b1f" stroke="#bb2219" stroke-width="1"/>
<text x="4060.5" y="1112.35">変数</text>
<rect x="4100.5" y="1090.75" width="130" height="32" rx="4" fill="none" stroke="#c02319" stroke-width="1.2"/>
<text x="4108.5" y="1112.35">ブロック変数</text>
<path d="M4210.5,1103.75 h11 l-5.5,6.5 z" fill="#fff"/>
<text x="4238.5" y="1112.35">を</text>
<rect x="4262.5" y="1086.75" width="133.6" height="40" rx="20" fill="#ea2b1f" stroke="#f1756d" stroke-width="1"/>
<text x="4274.5" y="1112.35">床ブロック2</text>
<path d="M4372.1,1103.75 h11 l-5.5,6.5 z" fill="#fff"/>
<text x="4404.1" y="1112.35">にする</text>
<text x="4044.5" y="1160.35">でなければ</text>
<circle cx="4451.1" cy="1154.75" r="10.5" fill="none" stroke="#fff" stroke-width="2.2"/>
<path d="M4445.1,1154.75 h12" stroke="#fff" stroke-width="3.6" fill="none"/>
<rect x="4052.5" y="1178.75" width="370" height="62" rx="4" fill="#ea2b1f" stroke="#bb2219" stroke-width="1"/>
<text x="4060.5" y="1215.35">変数</text>
<rect x="4100.5" y="1193.75" width="130" height="32" rx="4" fill="none" stroke="#c02319" stroke-width="1.2"/>
<text x="4108.5" y="1215.35">ブロック変数</text>
<path d="M4210.5,1206.75 h11 l-5.5,6.5 z" fill="#fff"/>
<text x="4238.5" y="1215.35">を</text>
<rect x="4262.5" y="1182.75" width="96" height="54" rx="27" fill="#7abb55" stroke="#689f48" stroke-width="1"/>
<rect x="4275.5" y="1183.25" width="70" height="53" fill="#73b050" opacity="0.5" stroke="#5f9242" stroke-width="1"/>
<path d="M4285.5,1201.75 l15,-8 l15,8 l-15,8 z" fill="#c4ecd6"/>
<path d="M4285.5,1201.75 l15,8 v17 l-15,-8 z" fill="#a4dcbe"/>
<path d="M4300.5,1209.75 l15,-8 v17 l-15,8 z" fill="#86c8a6"/>
<path d="M4328.5,1206.75 h11 l-5.5,6.5 z" fill="#fff"/>
<text x="4366.5" y="1215.35">にする</text>
<circle cx="4056.5" cy="1256.75" r="10.5" fill="none" stroke="#fff" stroke-width="2.2"/>
<path d="M4050.5,1256.75 h12 M4056.5,1250.75 v12" stroke="#fff" stroke-width="3.6" fill="none"/>
<rect x="4036.5" y="1272.75" width="248" height="48" rx="4" fill="#235591" stroke="#1c4474" stroke-width="1"/>
<text x="4044.5" y="1302.35">呼び出し</text>
<text x="4116.5" y="1302.35">基準座標を変数に設定</text>
<rect x="4036.5" y="1320.75" width="271.9" height="48" rx="4" fill="#ea2b1f" stroke="#bb2219" stroke-width="1"/>
<text x="4044.5" y="1350.35">変数</text>
<rect x="4084.5" y="1328.75" width="53.2" height="32" rx="4" fill="none" stroke="#c02319" stroke-width="1.2"/>
<text x="4092.5" y="1350.35">x1</text>
<path d="M4117.7,1341.75 h11 l-5.5,6.5 z" fill="#fff"/>
<text x="4145.7" y="1350.35">を</text>
<rect x="4169.7" y="1328.75" width="42.7" height="32" rx="16" fill="#fff"/>
<text x="4191.05" y="1350.35" text-anchor="middle" class="d">15</text>
<text x="4220.4" y="1350.35">だけ増やす</text>
<rect x="4036.5" y="1368.75" width="269.2" height="48" rx="4" fill="#ea2b1f" stroke="#bb2219" stroke-width="1"/>
<text x="4044.5" y="1398.35">変数</text>
<rect x="4084.5" y="1376.75" width="53.2" height="32" rx="4" fill="none" stroke="#c02319" stroke-width="1.2"/>
<text x="4092.5" y="1398.35">z1</text>
<path d="M4117.7,1389.75 h11 l-5.5,6.5 z" fill="#fff"/>
<text x="4145.7" y="1398.35">を</text>
<rect x="4169.7" y="1376.75" width="40" height="32" rx="16" fill="#fff"/>
<text x="4189.7" y="1398.35" text-anchor="middle" class="d">0</text>
<text x="4217.7" y="1398.35">だけ増やす</text>
<rect x="4036.5" y="1416.75" width="271.9" height="48" rx="4" fill="#ea2b1f" stroke="#bb2219" stroke-width="1"/>
<text x="4044.5" y="1446.35">変数</text>
<rect x="4084.5" y="1424.75" width="53.2" height="32" rx="4" fill="none" stroke="#c02319" stroke-width="1.2"/>
<text x="4092.5" y="1446.35">x2</text>
<path d="M4117.7,1437.75 h11 l-5.5,6.5 z" fill="#fff"/>
<text x="4145.7" y="1446.35">を</text>
<rect x="4169.7" y="1424.75" width="42.7" height="32" rx="16" fill="#fff"/>
<text x="4191.05" y="1446.35" text-anchor="middle" class="d">19</text>
<text x="4220.4" y="1446.35">だけ増やす</text>
<rect x="4036.5" y="1464.75" width="271.9" height="48" rx="4" fill="#ea2b1f" stroke="#bb2219" stroke-width="1"/>
<text x="4044.5" y="1494.35">変数</text>
<rect x="4084.5" y="1472.75" width="53.2" height="32" rx="4" fill="none" stroke="#c02319" stroke-width="1.2"/>
<text x="4092.5" y="1494.35">z2</text>
<path d="M4117.7,1485.75 h11 l-5.5,6.5 z" fill="#fff"/>
<text x="4145.7" y="1494.35">を</text>
<rect x="4169.7" y="1472.75" width="42.7" height="32" rx="16" fill="#fff"/>
<text x="4191.05" y="1494.35" text-anchor="middle" class="d">-4</text>
<text x="4220.4" y="1494.35">だけ増やす</text>
<rect x="4036.5" y="1512.75" width="468" height="208" rx="4" fill="#7abb55" stroke="#629644" stroke-width="1"/>
<text x="4044.5" y="1546.35">ブロックを並べる</text>
<rect x="4180.5" y="1520.75" width="140" height="40" rx="20" fill="#ea2b1f" stroke="#f1756d" stroke-width="1"/>
<text x="4192.5" y="1546.35">ブロック変数</text>
<path d="M4296.5,1537.75 h11 l-5.5,6.5 z" fill="#fff"/>
<text x="4044.5" y="1599.35">範囲の始まり</text>
<rect x="4148.5" y="1569.75" width="348" height="48" rx="24" fill="#69b090" stroke="#5a9c7e" stroke-width="1"/>
<text x="4160.5" y="1599.35">ワールド</text>
<rect x="4232.5" y="1573.75" width="63.2" height="40" rx="20" fill="#ea2b1f" stroke="#f1756d" stroke-width="1"/>
<text x="4244.5" y="1599.35">x1</text>
<path d="M4271.7,1590.75 h11 l-5.5,6.5 z" fill="#fff"/>
<rect x="4303.7" y="1573.75" width="117.6" height="40" rx="20" fill="#ea2b1f" stroke="#f1756d" stroke-width="1"/>
<text x="4315.7" y="1599.35">基準座標y</text>
<path d="M4397.3,1590.75 h11 l-5.5,6.5 z" fill="#fff"/>
<rect x="4429.3" y="1573.75" width="63.2" height="40" rx="20" fill="#ea2b1f" stroke="#f1756d" stroke-width="1"/>
<text x="4441.3" y="1599.35">z1</text>
<path d="M4468.5,1590.75 h11 l-5.5,6.5 z" fill="#fff"/>
<text x="4044.5" y="1653.35">範囲の終わり</text>
<rect x="4148.5" y="1623.75" width="348" height="48" rx="24" fill="#69b090" stroke="#5a9c7e" stroke-width="1"/>
<text x="4160.5" y="1653.35">ワールド</text>
<rect x="4232.5" y="1627.75" width="63.2" height="40" rx="20" fill="#ea2b1f" stroke="#f1756d" stroke-width="1"/>
<text x="4244.5" y="1653.35">x2</text>
<path d="M4271.7,1644.75 h11 l-5.5,6.5 z" fill="#fff"/>
<rect x="4303.7" y="1627.75" width="117.6" height="40" rx="20" fill="#ea2b1f" stroke="#f1756d" stroke-width="1"/>
<text x="4315.7" y="1653.35">基準座標y</text>
<path d="M4397.3,1644.75 h11 l-5.5,6.5 z" fill="#fff"/>
<rect x="4429.3" y="1627.75" width="63.2" height="40" rx="20" fill="#ea2b1f" stroke="#f1756d" stroke-width="1"/>
<text x="4441.3" y="1653.35">z2</text>
<path d="M4468.5,1644.75 h11 l-5.5,6.5 z" fill="#fff"/>
<text x="4044.5" y="1704.35">モード</text>
<rect x="4100.5" y="1682.75" width="194" height="32" rx="4" fill="none" stroke="#649946" stroke-width="1.2"/>
<text x="4108.5" y="1704.35">置き換え (replace)</text>
<path d="M4274.5,1695.75 h11 l-5.5,6.5 z" fill="#fff"/>
<path d="M4557.5,977.5 c25,-22 71,-22 96,0 H4740.5 a4,4 0 0 1 4,4 V1021.5 a4,4 0 0 1 -4,4 H4577.5 a4,4 0 0 0 -4,4 V1715.5 a4,4 0 0 0 4,4 H4740.5 a4,4 0 0 1 4,4 V1747.5 a4,4 0 0 1 -4,4 H4561.5 a4,4 0 0 1 -4,-4 z" fill="#235591" stroke="#1c4474" stroke-width="1"/>
<text x="4565.5" y="1007.1">function</text>
<rect x="4650.3" y="985.5" width="49.2" height="32" rx="2" fill="#fff"/>
<text x="4657.3" y="1007.1" class="d">床05</text>
<circle cx="4719.5" cy="1001.5" r="10.5" fill="none" stroke="#fff" stroke-width="2.2"/>
<path d="M4713.5,1004.5 l6,-6 l6,6" stroke="#fff" stroke-width="3" fill="none"/>
<path d="M4573.5,1029.5 a4,4 0 0 1 4,-4 H5004.1 a4,4 0 0 1 4,4 V1077.5 a4,4 0 0 1 -4,4 H4593.5 a4,4 0 0 0 -4,4 V1125.5 a4,4 0 0 0 4,4 H5004.1 a4,4 0 0 1 4,4 V1173.5 a4,4 0 0 1 -4,4 H4593.5 a4,4 0 0 0 -4,4 V1235.5 a4,4 0 0 0 4,4 H5004.1 a4,4 0 0 1 4,4 V1267.5 a4,4 0 0 1 -4,4 H4577.5 a4,4 0 0 1 -4,-4 z" fill="#4b969b" stroke="#3c787c" stroke-width="1"/>
<text x="4581.5" y="1059.1">もし</text>
<path d="M4621.5,1053.5 l24,-24 H4936.1 l24,24 l-24,24 H4645.5 z" fill="#4b969b" stroke="#8cc6ca" stroke-width="1.5"/>
<rect x="4647" y="1033.5" width="188" height="40" rx="20" fill="#ea2b1f" stroke="#f1756d" stroke-width="1"/>
<text x="4659" y="1059.1">追加削除制御フラグ</text>
<path d="M4811,1050.5 h11 l-5.5,6.5 z" fill="#fff"/>
<rect x="4843" y="1037.5" width="43.6" height="32" rx="4" fill="none" stroke="#3e7b7f" stroke-width="1.2"/>
<text x="4851" y="1059.1">=</text>
<path d="M4866.6,1050.5 h11 l-5.5,6.5 z" fill="#fff"/>
<rect x="4894.6" y="1037.5" width="40" height="32" rx="16" fill="#fff"/>
<text x="4914.6" y="1059.1" text-anchor="middle" class="d">1</text>
<text x="4968.1" y="1059.1">なら</text>
<rect x="4589.5" y="1081.5" width="407.6" height="48" rx="4" fill="#ea2b1f" stroke="#bb2219" stroke-width="1"/>
<text x="4597.5" y="1111.1">変数</text>
<rect x="4637.5" y="1089.5" width="130" height="32" rx="4" fill="none" stroke="#c02319" stroke-width="1.2"/>
<text x="4645.5" y="1111.1">ブロック変数</text>
<path d="M4747.5,1102.5 h11 l-5.5,6.5 z" fill="#fff"/>
<text x="4775.5" y="1111.1">を</text>
<rect x="4799.5" y="1085.5" width="133.6" height="40" rx="20" fill="#ea2b1f" stroke="#f1756d" stroke-width="1"/>
<text x="4811.5" y="1111.1">床ブロック1</text>
<path d="M4909.1,1102.5 h11 l-5.5,6.5 z" fill="#fff"/>
<text x="4941.1" y="1111.1">にする</text>
<text x="4581.5" y="1159.1">でなければ</text>
<circle cx="4988.1" cy="1153.5" r="10.5" fill="none" stroke="#fff" stroke-width="2.2"/>
<path d="M4982.1,1153.5 h12" stroke="#fff" stroke-width="3.6" fill="none"/>
<rect x="4589.5" y="1177.5" width="370" height="62" rx="4" fill="#ea2b1f" stroke="#bb2219" stroke-width="1"/>
<text x="4597.5" y="1214.1">変数</text>
<rect x="4637.5" y="1192.5" width="130" height="32" rx="4" fill="none" stroke="#c02319" stroke-width="1.2"/>
<text x="4645.5" y="1214.1">ブロック変数</text>
<path d="M4747.5,1205.5 h11 l-5.5,6.5 z" fill="#fff"/>
<text x="4775.5" y="1214.1">を</text>
<rect x="4799.5" y="1181.5" width="96" height="54" rx="27" fill="#7abb55" stroke="#689f48" stroke-width="1"/>
<rect x="4812.5" y="1182" width="70" height="53" fill="#73b050" opacity="0.5" stroke="#5f9242" stroke-width="1"/>
<path d="M4822.5,1200.5 l15,-8 l15,8 l-15,8 z" fill="#c4ecd6"/>
<path d="M4822.5,1200.5 l15,8 v17 l-15,-8 z" fill="#a4dcbe"/>
<path d="M4837.5,1208.5 l15,-8 v17 l-15,8 z" fill="#86c8a6"/>
<path d="M4865.5,1205.5 h11 l-5.5,6.5 z" fill="#fff"/>
<text x="4903.5" y="1214.1">にする</text>
<circle cx="4593.5" cy="1255.5" r="10.5" fill="none" stroke="#fff" stroke-width="2.2"/>
<path d="M4587.5,1255.5 h12 M4593.5,1249.5 v12" stroke="#fff" stroke-width="3.6" fill="none"/>
<rect x="4573.5" y="1271.5" width="248" height="48" rx="4" fill="#235591" stroke="#1c4474" stroke-width="1"/>
<text x="4581.5" y="1301.1">呼び出し</text>
<text x="4653.5" y="1301.1">基準座標を変数に設定</text>
<rect x="4573.5" y="1319.5" width="271.9" height="48" rx="4" fill="#ea2b1f" stroke="#bb2219" stroke-width="1"/>
<text x="4581.5" y="1349.1">変数</text>
<rect x="4621.5" y="1327.5" width="53.2" height="32" rx="4" fill="none" stroke="#c02319" stroke-width="1.2"/>
<text x="4629.5" y="1349.1">x1</text>
<path d="M4654.7,1340.5 h11 l-5.5,6.5 z" fill="#fff"/>
<text x="4682.7" y="1349.1">を</text>
<rect x="4706.7" y="1327.5" width="42.7" height="32" rx="16" fill="#fff"/>
<text x="4728.05" y="1349.1" text-anchor="middle" class="d">20</text>
<text x="4757.4" y="1349.1">だけ増やす</text>
<rect x="4573.5" y="1367.5" width="269.2" height="48" rx="4" fill="#ea2b1f" stroke="#bb2219" stroke-width="1"/>
<text x="4581.5" y="1397.1">変数</text>
<rect x="4621.5" y="1375.5" width="53.2" height="32" rx="4" fill="none" stroke="#c02319" stroke-width="1.2"/>
<text x="4629.5" y="1397.1">z1</text>
<path d="M4654.7,1388.5 h11 l-5.5,6.5 z" fill="#fff"/>
<text x="4682.7" y="1397.1">を</text>
<rect x="4706.7" y="1375.5" width="40" height="32" rx="16" fill="#fff"/>
<text x="4726.7" y="1397.1" text-anchor="middle" class="d">0</text>
<text x="4754.7" y="1397.1">だけ増やす</text>
<rect x="4573.5" y="1415.5" width="271.9" height="48" rx="4" fill="#ea2b1f" stroke="#bb2219" stroke-width="1"/>
<text x="4581.5" y="1445.1">変数</text>
<rect x="4621.5" y="1423.5" width="53.2" height="32" rx="4" fill="none" stroke="#c02319" stroke-width="1.2"/>
<text x="4629.5" y="1445.1">x2</text>
<path d="M4654.7,1436.5 h11 l-5.5,6.5 z" fill="#fff"/>
<text x="4682.7" y="1445.1">を</text>
<rect x="4706.7" y="1423.5" width="42.7" height="32" rx="16" fill="#fff"/>
<text x="4728.05" y="1445.1" text-anchor="middle" class="d">24</text>
<text x="4757.4" y="1445.1">だけ増やす</text>
<rect x="4573.5" y="1463.5" width="271.9" height="48" rx="4" fill="#ea2b1f" stroke="#bb2219" stroke-width="1"/>
<text x="4581.5" y="1493.1">変数</text>
<rect x="4621.5" y="1471.5" width="53.2" height="32" rx="4" fill="none" stroke="#c02319" stroke-width="1.2"/>
<text x="4629.5" y="1493.1">z2</text>
<path d="M4654.7,1484.5 h11 l-5.5,6.5 z" fill="#fff"/>
<text x="4682.7" y="1493.1">を</text>
<rect x="4706.7" y="1471.5" width="42.7" height="32" rx="16" fill="#fff"/>
<text x="4728.05" y="1493.1" text-anchor="middle" class="d">-4</text>
<text x="4757.4" y="1493.1">だけ増やす</text>
<rect x="4573.5" y="1511.5" width="468" height="208" rx="4" fill="#7abb55" stroke="#629644" stroke-width="1"/>
<text x="4581.5" y="1545.1">ブロックを並べる</text>
<rect x="4717.5" y="1519.5" width="140" height="40" rx="20" fill="#ea2b1f" stroke="#f1756d" stroke-width="1"/>
<text x="4729.5" y="1545.1">ブロック変数</text>
<path d="M4833.5,1536.5 h11 l-5.5,6.5 z" fill="#fff"/>
<text x="4581.5" y="1598.1">範囲の始まり</text>
<rect x="4685.5" y="1568.5" width="348" height="48" rx="24" fill="#69b090" stroke="#5a9c7e" stroke-width="1"/>
<text x="4697.5" y="1598.1">ワールド</text>
<rect x="4769.5" y="1572.5" width="63.2" height="40" rx="20" fill="#ea2b1f" stroke="#f1756d" stroke-width="1"/>
<text x="4781.5" y="1598.1">x1</text>
<path d="M4808.7,1589.5 h11 l-5.5,6.5 z" fill="#fff"/>
<rect x="4840.7" y="1572.5" width="117.6" height="40" rx="20" fill="#ea2b1f" stroke="#f1756d" stroke-width="1"/>
<text x="4852.7" y="1598.1">基準座標y</text>
<path d="M4934.3,1589.5 h11 l-5.5,6.5 z" fill="#fff"/>
<rect x="4966.3" y="1572.5" width="63.2" height="40" rx="20" fill="#ea2b1f" stroke="#f1756d" stroke-width="1"/>
<text x="4978.3" y="1598.1">z1</text>
<path d="M5005.5,1589.5 h11 l-5.5,6.5 z" fill="#fff"/>
<text x="4581.5" y="1652.1">範囲の終わり</text>
<rect x="4685.5" y="1622.5" width="348" height="48" rx="24" fill="#69b090" stroke="#5a9c7e" stroke-width="1"/>
<text x="4697.5" y="1652.1">ワールド</text>
<rect x="4769.5" y="1626.5" width="63.2" height="40" rx="20" fill="#ea2b1f" stroke="#f1756d" stroke-width="1"/>
<text x="4781.5" y="1652.1">x2</text>
<path d="M4808.7,1643.5 h11 l-5.5,6.5 z" fill="#fff"/>
<rect x="4840.7" y="1626.5" width="117.6" height="40" rx="20" fill="#ea2b1f" stroke="#f1756d" stroke-width="1"/>
<text x="4852.7" y="1652.1">基準座標y</text>
<path d="M4934.3,1643.5 h11 l-5.5,6.5 z" fill="#fff"/>
<rect x="4966.3" y="1626.5" width="63.2" height="40" rx="20" fill="#ea2b1f" stroke="#f1756d" stroke-width="1"/>
<text x="4978.3" y="1652.1">z2</text>
<path d="M5005.5,1643.5 h11 l-5.5,6.5 z" fill="#fff"/>
<text x="4581.5" y="1703.1">モード</text>
<rect x="4637.5" y="1681.5" width="194" height="32" rx="4" fill="none" stroke="#649946" stroke-width="1.2"/>
<text x="4645.5" y="1703.1">置き換え (replace)</text>
<path d="M4811.5,1694.5 h11 l-5.5,6.5 z" fill="#fff"/>
<path d="M1938.5,1837.75 c25,-22 71,-22 96,0 H2121.5 a4,4 0 0 1 4,4 V1881.75 a4,4 0 0 1 -4,4 H1958.5 a4,4 0 0 0 -4,4 V2575.75 a4,4 0 0 0 4,4 H2121.5 a4,4 0 0 1 4,4 V2607.75 a4,4 0 0 1 -4,4 H1942.5 a4,4 0 0 1 -4,-4 z" fill="#235591" stroke="#1c4474" stroke-width="1"/>
<text x="1946.5" y="1867.35">function</text>
<rect x="2031.3" y="1845.75" width="49.2" height="32" rx="2" fill="#fff"/>
<text x="2038.3" y="1867.35" class="d">床06</text>
<circle cx="2100.5" cy="1861.75" r="10.5" fill="none" stroke="#fff" stroke-width="2.2"/>
<path d="M2094.5,1864.75 l6,-6 l6,6" stroke="#fff" stroke-width="3" fill="none"/>
<path d="M1954.5,1889.75 a4,4 0 0 1 4,-4 H2385.1 a4,4 0 0 1 4,4 V1937.75 a4,4 0 0 1 -4,4 H1974.5 a4,4 0 0 0 -4,4 V1985.75 a4,4 0 0 0 4,4 H2385.1 a4,4 0 0 1 4,4 V2033.75 a4,4 0 0 1 -4,4 H1974.5 a4,4 0 0 0 -4,4 V2095.75 a4,4 0 0 0 4,4 H2385.1 a4,4 0 0 1 4,4 V2127.75 a4,4 0 0 1 -4,4 H1958.5 a4,4 0 0 1 -4,-4 z" fill="#4b969b" stroke="#3c787c" stroke-width="1"/>
<text x="1962.5" y="1919.35">もし</text>
<path d="M2002.5,1913.75 l24,-24 H2317.1 l24,24 l-24,24 H2026.5 z" fill="#4b969b" stroke="#8cc6ca" stroke-width="1.5"/>
<rect x="2028" y="1893.75" width="188" height="40" rx="20" fill="#ea2b1f" stroke="#f1756d" stroke-width="1"/>
<text x="2040" y="1919.35">追加削除制御フラグ</text>
<path d="M2192,1910.75 h11 l-5.5,6.5 z" fill="#fff"/>
<rect x="2224" y="1897.75" width="43.6" height="32" rx="4" fill="none" stroke="#3e7b7f" stroke-width="1.2"/>
<text x="2232" y="1919.35">=</text>
<path d="M2247.6,1910.75 h11 l-5.5,6.5 z" fill="#fff"/>
<rect x="2275.6" y="1897.75" width="40" height="32" rx="16" fill="#fff"/>
<text x="2295.6" y="1919.35" text-anchor="middle" class="d">1</text>
<text x="2349.1" y="1919.35">なら</text>
<rect x="1970.5" y="1941.75" width="407.6" height="48" rx="4" fill="#ea2b1f" stroke="#bb2219" stroke-width="1"/>
<text x="1978.5" y="1971.35">変数</text>
<rect x="2018.5" y="1949.75" width="130" height="32" rx="4" fill="none" stroke="#c02319" stroke-width="1.2"/>
<text x="2026.5" y="1971.35">ブロック変数</text>
<path d="M2128.5,1962.75 h11 l-5.5,6.5 z" fill="#fff"/>
<text x="2156.5" y="1971.35">を</text>
<rect x="2180.5" y="1945.75" width="133.6" height="40" rx="20" fill="#ea2b1f" stroke="#f1756d" stroke-width="1"/>
<text x="2192.5" y="1971.35">床ブロック2</text>
<path d="M2290.1,1962.75 h11 l-5.5,6.5 z" fill="#fff"/>
<text x="2322.1" y="1971.35">にする</text>
<text x="1962.5" y="2019.35">でなければ</text>
<circle cx="2369.1" cy="2013.75" r="10.5" fill="none" stroke="#fff" stroke-width="2.2"/>
<path d="M2363.1,2013.75 h12" stroke="#fff" stroke-width="3.6" fill="none"/>
<rect x="1970.5" y="2037.75" width="370" height="62" rx="4" fill="#ea2b1f" stroke="#bb2219" stroke-width="1"/>
<text x="1978.5" y="2074.35">変数</text>
<rect x="2018.5" y="2052.75" width="130" height="32" rx="4" fill="none" stroke="#c02319" stroke-width="1.2"/>
<text x="2026.5" y="2074.35">ブロック変数</text>
<path d="M2128.5,2065.75 h11 l-5.5,6.5 z" fill="#fff"/>
<text x="2156.5" y="2074.35">を</text>
<rect x="2180.5" y="2041.75" width="96" height="54" rx="27" fill="#7abb55" stroke="#689f48" stroke-width="1"/>
<rect x="2193.5" y="2042.25" width="70" height="53" fill="#73b050" opacity="0.5" stroke="#5f9242" stroke-width="1"/>
<path d="M2203.5,2060.75 l15,-8 l15,8 l-15,8 z" fill="#c4ecd6"/>
<path d="M2203.5,2060.75 l15,8 v17 l-15,-8 z" fill="#a4dcbe"/>
<path d="M2218.5,2068.75 l15,-8 v17 l-15,8 z" fill="#86c8a6"/>
<path d="M2246.5,2065.75 h11 l-5.5,6.5 z" fill="#fff"/>
<text x="2284.5" y="2074.35">にする</text>
<circle cx="1974.5" cy="2115.75" r="10.5" fill="none" stroke="#fff" stroke-width="2.2"/>
<path d="M1968.5,2115.75 h12 M1974.5,2109.75 v12" stroke="#fff" stroke-width="3.6" fill="none"/>
<rect x="1954.5" y="2131.75" width="248" height="48" rx="4" fill="#235591" stroke="#1c4474" stroke-width="1"/>
<text x="1962.5" y="2161.35">呼び出し</text>
<text x="2034.5" y="2161.35">基準座標を変数に設定</text>
<rect x="1954.5" y="2179.75" width="269.2" height="48" rx="4" fill="#ea2b1f" stroke="#bb2219" stroke-width="1"/>
<text x="1962.5" y="2209.35">変数</text>
<rect x="2002.5" y="2187.75" width="53.2" height="32" rx="4" fill="none" stroke="#c02319" stroke-width="1.2"/>
<text x="2010.5" y="2209.35">x1</text>
<path d="M2035.7,2200.75 h11 l-5.5,6.5 z" fill="#fff"/>
<text x="2063.7" y="2209.35">を</text>
<rect x="2087.7" y="2187.75" width="40" height="32" rx="16" fill="#fff"/>
<text x="2107.7" y="2209.35" text-anchor="middle" class="d">0</text>
<text x="2135.7" y="2209.35">だけ増やす</text>
<rect x="1954.5" y="2227.75" width="271.9" height="48" rx="4" fill="#ea2b1f" stroke="#bb2219" stroke-width="1"/>
<text x="1962.5" y="2257.35">変数</text>
<rect x="2002.5" y="2235.75" width="53.2" height="32" rx="4" fill="none" stroke="#c02319" stroke-width="1.2"/>
<text x="2010.5" y="2257.35">z1</text>
<path d="M2035.7,2248.75 h11 l-5.5,6.5 z" fill="#fff"/>
<text x="2063.7" y="2257.35">を</text>
<rect x="2087.7" y="2235.75" width="42.7" height="32" rx="16" fill="#fff"/>
<text x="2109.05" y="2257.35" text-anchor="middle" class="d">-5</text>
<text x="2138.4" y="2257.35">だけ増やす</text>
<rect x="1954.5" y="2275.75" width="269.2" height="48" rx="4" fill="#ea2b1f" stroke="#bb2219" stroke-width="1"/>
<text x="1962.5" y="2305.35">変数</text>
<rect x="2002.5" y="2283.75" width="53.2" height="32" rx="4" fill="none" stroke="#c02319" stroke-width="1.2"/>
<text x="2010.5" y="2305.35">x2</text>
<path d="M2035.7,2296.75 h11 l-5.5,6.5 z" fill="#fff"/>
<text x="2063.7" y="2305.35">を</text>
<rect x="2087.7" y="2283.75" width="40" height="32" rx="16" fill="#fff"/>
<text x="2107.7" y="2305.35" text-anchor="middle" class="d">4</text>
<text x="2135.7" y="2305.35">だけ増やす</text>
<rect x="1954.5" y="2323.75" width="271.9" height="48" rx="4" fill="#ea2b1f" stroke="#bb2219" stroke-width="1"/>
<text x="1962.5" y="2353.35">変数</text>
<rect x="2002.5" y="2331.75" width="53.2" height="32" rx="4" fill="none" stroke="#c02319" stroke-width="1.2"/>
<text x="2010.5" y="2353.35">z2</text>
<path d="M2035.7,2344.75 h11 l-5.5,6.5 z" fill="#fff"/>
<text x="2063.7" y="2353.35">を</text>
<rect x="2087.7" y="2331.75" width="42.7" height="32" rx="16" fill="#fff"/>
<text x="2109.05" y="2353.35" text-anchor="middle" class="d">-9</text>
<text x="2138.4" y="2353.35">だけ増やす</text>
<rect x="1954.5" y="2371.75" width="468" height="208" rx="4" fill="#7abb55" stroke="#629644" stroke-width="1"/>
<text x="1962.5" y="2405.35">ブロックを並べる</text>
<rect x="2098.5" y="2379.75" width="140" height="40" rx="20" fill="#ea2b1f" stroke="#f1756d" stroke-width="1"/>
<text x="2110.5" y="2405.35">ブロック変数</text>
<path d="M2214.5,2396.75 h11 l-5.5,6.5 z" fill="#fff"/>
<text x="1962.5" y="2458.35">範囲の始まり</text>
<rect x="2066.5" y="2428.75" width="348" height="48" rx="24" fill="#69b090" stroke="#5a9c7e" stroke-width="1"/>
<text x="2078.5" y="2458.35">ワールド</text>
<rect x="2150.5" y="2432.75" width="63.2" height="40" rx="20" fill="#ea2b1f" stroke="#f1756d" stroke-width="1"/>
<text x="2162.5" y="2458.35">x1</text>
<path d="M2189.7,2449.75 h11 l-5.5,6.5 z" fill="#fff"/>
<rect x="2221.7" y="2432.75" width="117.6" height="40" rx="20" fill="#ea2b1f" stroke="#f1756d" stroke-width="1"/>
<text x="2233.7" y="2458.35">基準座標y</text>
<path d="M2315.3,2449.75 h11 l-5.5,6.5 z" fill="#fff"/>
<rect x="2347.3" y="2432.75" width="63.2" height="40" rx="20" fill="#ea2b1f" stroke="#f1756d" stroke-width="1"/>
<text x="2359.3" y="2458.35">z1</text>
<path d="M2386.5,2449.75 h11 l-5.5,6.5 z" fill="#fff"/>
<text x="1962.5" y="2512.35">範囲の終わり</text>
<rect x="2066.5" y="2482.75" width="348" height="48" rx="24" fill="#69b090" stroke="#5a9c7e" stroke-width="1"/>
<text x="2078.5" y="2512.35">ワールド</text>
<rect x="2150.5" y="2486.75" width="63.2" height="40" rx="20" fill="#ea2b1f" stroke="#f1756d" stroke-width="1"/>
<text x="2162.5" y="2512.35">x2</text>
<path d="M2189.7,2503.75 h11 l-5.5,6.5 z" fill="#fff"/>
<rect x="2221.7" y="2486.75" width="117.6" height="40" rx="20" fill="#ea2b1f" stroke="#f1756d" stroke-width="1"/>
<text x="2233.7" y="2512.35">基準座標y</text>
<path d="M2315.3,2503.75 h11 l-5.5,6.5 z" fill="#fff"/>
<rect x="2347.3" y="2486.75" width="63.2" height="40" rx="20" fill="#ea2b1f" stroke="#f1756d" stroke-width="1"/>
<text x="2359.3" y="2512.35">z2</text>
<path d="M2386.5,2503.75 h11 l-5.5,6.5 z" fill="#fff"/>
<text x="1962.5" y="2563.35">モード</text>
<rect x="2018.5" y="2541.75" width="194" height="32" rx="4" fill="none" stroke="#649946" stroke-width="1.2"/>
<text x="2026.5" y="2563.35">置き換え (replace)</text>
<path d="M2192.5,2554.75 h11 l-5.5,6.5 z" fill="#fff"/>
<path d="M2468.5,1851.25 c25,-22 71,-22 96,0 H2651.5 a4,4 0 0 1 4,4 V1895.25 a4,4 0 0 1 -4,4 H2488.5 a4,4 0 0 0 -4,4 V2589.25 a4,4 0 0 0 4,4 H2651.5 a4,4 0 0 1 4,4 V2621.25 a4,4 0 0 1 -4,4 H2472.5 a4,4 0 0 1 -4,-4 z" fill="#235591" stroke="#1c4474" stroke-width="1"/>
<text x="2476.5" y="1880.85">function</text>
<rect x="2561.3" y="1859.25" width="49.2" height="32" rx="2" fill="#fff"/>
<text x="2568.3" y="1880.85" class="d">床07</text>
<circle cx="2630.5" cy="1875.25" r="10.5" fill="none" stroke="#fff" stroke-width="2.2"/>
<path d="M2624.5,1878.25 l6,-6 l6,6" stroke="#fff" stroke-width="3" fill="none"/>
<path d="M2484.5,1903.25 a4,4 0 0 1 4,-4 H2915.1 a4,4 0 0 1 4,4 V1951.25 a4,4 0 0 1 -4,4 H2504.5 a4,4 0 0 0 -4,4 V1999.25 a4,4 0 0 0 4,4 H2915.1 a4,4 0 0 1 4,4 V2047.25 a4,4 0 0 1 -4,4 H2504.5 a4,4 0 0 0 -4,4 V2109.25 a4,4 0 0 0 4,4 H2915.1 a4,4 0 0 1 4,4 V2141.25 a4,4 0 0 1 -4,4 H2488.5 a4,4 0 0 1 -4,-4 z" fill="#4b969b" stroke="#3c787c" stroke-width="1"/>
<text x="2492.5" y="1932.85">もし</text>
<path d="M2532.5,1927.25 l24,-24 H2847.1 l24,24 l-24,24 H2556.5 z" fill="#4b969b" stroke="#8cc6ca" stroke-width="1.5"/>
<rect x="2558" y="1907.25" width="188" height="40" rx="20" fill="#ea2b1f" stroke="#f1756d" stroke-width="1"/>
<text x="2570" y="1932.85">追加削除制御フラグ</text>
<path d="M2722,1924.25 h11 l-5.5,6.5 z" fill="#fff"/>
<rect x="2754" y="1911.25" width="43.6" height="32" rx="4" fill="none" stroke="#3e7b7f" stroke-width="1.2"/>
<text x="2762" y="1932.85">=</text>
<path d="M2777.6,1924.25 h11 l-5.5,6.5 z" fill="#fff"/>
<rect x="2805.6" y="1911.25" width="40" height="32" rx="16" fill="#fff"/>
<text x="2825.6" y="1932.85" text-anchor="middle" class="d">1</text>
<text x="2879.1" y="1932.85">なら</text>
<rect x="2500.5" y="1955.25" width="407.6" height="48" rx="4" fill="#ea2b1f" stroke="#bb2219" stroke-width="1"/>
<text x="2508.5" y="1984.85">変数</text>
<rect x="2548.5" y="1963.25" width="130" height="32" rx="4" fill="none" stroke="#c02319" stroke-width="1.2"/>
<text x="2556.5" y="1984.85">ブロック変数</text>
<path d="M2658.5,1976.25 h11 l-5.5,6.5 z" fill="#fff"/>
<text x="2686.5" y="1984.85">を</text>
<rect x="2710.5" y="1959.25" width="133.6" height="40" rx="20" fill="#ea2b1f" stroke="#f1756d" stroke-width="1"/>
<text x="2722.5" y="1984.85">床ブロック1</text>
<path d="M2820.1,1976.25 h11 l-5.5,6.5 z" fill="#fff"/>
<text x="2852.1" y="1984.85">にする</text>
<text x="2492.5" y="2032.85">でなければ</text>
<circle cx="2899.1" cy="2027.25" r="10.5" fill="none" stroke="#fff" stroke-width="2.2"/>
<path d="M2893.1,2027.25 h12" stroke="#fff" stroke-width="3.6" fill="none"/>
<rect x="2500.5" y="2051.25" width="370" height="62" rx="4" fill="#ea2b1f" stroke="#bb2219" stroke-width="1"/>
<text x="2508.5" y="2087.85">変数</text>
<rect x="2548.5" y="2066.25" width="130" height="32" rx="4" fill="none" stroke="#c02319" stroke-width="1.2"/>
<text x="2556.5" y="2087.85">ブロック変数</text>
<path d="M2658.5,2079.25 h11 l-5.5,6.5 z" fill="#fff"/>
<text x="2686.5" y="2087.85">を</text>
<rect x="2710.5" y="2055.25" width="96" height="54" rx="27" fill="#7abb55" stroke="#689f48" stroke-width="1"/>
<rect x="2723.5" y="2055.75" width="70" height="53" fill="#73b050" opacity="0.5" stroke="#5f9242" stroke-width="1"/>
<path d="M2733.5,2074.25 l15,-8 l15,8 l-15,8 z" fill="#c4ecd6"/>
<path d="M2733.5,2074.25 l15,8 v17 l-15,-8 z" fill="#a4dcbe"/>
<path d="M2748.5,2082.25 l15,-8 v17 l-15,8 z" fill="#86c8a6"/>
<path d="M2776.5,2079.25 h11 l-5.5,6.5 z" fill="#fff"/>
<text x="2814.5" y="2087.85">にする</text>
<circle cx="2504.5" cy="2129.25" r="10.5" fill="none" stroke="#fff" stroke-width="2.2"/>
<path d="M2498.5,2129.25 h12 M2504.5,2123.25 v12" stroke="#fff" stroke-width="3.6" fill="none"/>
<rect x="2484.5" y="2145.25" width="248" height="48" rx="4" fill="#235591" stroke="#1c4474" stroke-width="1"/>
<text x="2492.5" y="2174.85">呼び出し</text>
<text x="2564.5" y="2174.85">基準座標を変数に設定</text>
<rect x="2484.5" y="2193.25" width="269.2" height="48" rx="4" fill="#ea2b1f" stroke="#bb2219" stroke-width="1"/>
<text x="2492.5" y="2222.85">変数</text>
<rect x="2532.5" y="2201.25" width="53.2" height="32" rx="4" fill="none" stroke="#c02319" stroke-width="1.2"/>
<text x="2540.5" y="2222.85">x1</text>
<path d="M2565.7,2214.25 h11 l-5.5,6.5 z" fill="#fff"/>
<text x="2593.7" y="2222.85">を</text>
<rect x="2617.7" y="2201.25" width="40" height="32" rx="16" fill="#fff"/>
<text x="2637.7" y="2222.85" text-anchor="middle" class="d">5</text>
<text x="2665.7" y="2222.85">だけ増やす</text>
<rect x="2484.5" y="2241.25" width="271.9" height="48" rx="4" fill="#ea2b1f" stroke="#bb2219" stroke-width="1"/>
<text x="2492.5" y="2270.85">変数</text>
<rect x="2532.5" y="2249.25" width="53.2" height="32" rx="4" fill="none" stroke="#c02319" stroke-width="1.2"/>
<text x="2540.5" y="2270.85">z1</text>
<path d="M2565.7,2262.25 h11 l-5.5,6.5 z" fill="#fff"/>
<text x="2593.7" y="2270.85">を</text>
<rect x="2617.7" y="2249.25" width="42.7" height="32" rx="16" fill="#fff"/>
<text x="2639.05" y="2270.85" text-anchor="middle" class="d">-5</text>
<text x="2668.4" y="2270.85">だけ増やす</text>
<rect x="2484.5" y="2289.25" width="269.2" height="48" rx="4" fill="#ea2b1f" stroke="#bb2219" stroke-width="1"/>
<text x="2492.5" y="2318.85">変数</text>
<rect x="2532.5" y="2297.25" width="53.2" height="32" rx="4" fill="none" stroke="#c02319" stroke-width="1.2"/>
<text x="2540.5" y="2318.85">x2</text>
<path d="M2565.7,2310.25 h11 l-5.5,6.5 z" fill="#fff"/>
<text x="2593.7" y="2318.85">を</text>
<rect x="2617.7" y="2297.25" width="40" height="32" rx="16" fill="#fff"/>
<text x="2637.7" y="2318.85" text-anchor="middle" class="d">9</text>
<text x="2665.7" y="2318.85">だけ増やす</text>
<rect x="2484.5" y="2337.25" width="271.9" height="48" rx="4" fill="#ea2b1f" stroke="#bb2219" stroke-width="1"/>
<text x="2492.5" y="2366.85">変数</text>
<rect x="2532.5" y="2345.25" width="53.2" height="32" rx="4" fill="none" stroke="#c02319" stroke-width="1.2"/>
<text x="2540.5" y="2366.85">z2</text>
<path d="M2565.7,2358.25 h11 l-5.5,6.5 z" fill="#fff"/>
<text x="2593.7" y="2366.85">を</text>
<rect x="2617.7" y="2345.25" width="42.7" height="32" rx="16" fill="#fff"/>
<text x="2639.05" y="2366.85" text-anchor="middle" class="d">-9</text>
<text x="2668.4" y="2366.85">だけ増やす</text>
<rect x="2484.5" y="2385.25" width="468" height="208" rx="4" fill="#7abb55" stroke="#629644" stroke-width="1"/>
<text x="2492.5" y="2418.85">ブロックを並べる</text>
<rect x="2628.5" y="2393.25" width="140" height="40" rx="20" fill="#ea2b1f" stroke="#f1756d" stroke-width="1"/>
<text x="2640.5" y="2418.85">ブロック変数</text>
<path d="M2744.5,2410.25 h11 l-5.5,6.5 z" fill="#fff"/>
<text x="2492.5" y="2471.85">範囲の始まり</text>
<rect x="2596.5" y="2442.25" width="348" height="48" rx="24" fill="#69b090" stroke="#5a9c7e" stroke-width="1"/>
<text x="2608.5" y="2471.85">ワールド</text>
<rect x="2680.5" y="2446.25" width="63.2" height="40" rx="20" fill="#ea2b1f" stroke="#f1756d" stroke-width="1"/>
<text x="2692.5" y="2471.85">x1</text>
<path d="M2719.7,2463.25 h11 l-5.5,6.5 z" fill="#fff"/>
<rect x="2751.7" y="2446.25" width="117.6" height="40" rx="20" fill="#ea2b1f" stroke="#f1756d" stroke-width="1"/>
<text x="2763.7" y="2471.85">基準座標y</text>
<path d="M2845.3,2463.25 h11 l-5.5,6.5 z" fill="#fff"/>
<rect x="2877.3" y="2446.25" width="63.2" height="40" rx="20" fill="#ea2b1f" stroke="#f1756d" stroke-width="1"/>
<text x="2889.3" y="2471.85">z1</text>
<path d="M2916.5,2463.25 h11 l-5.5,6.5 z" fill="#fff"/>
<text x="2492.5" y="2525.85">範囲の終わり</text>
<rect x="2596.5" y="2496.25" width="348" height="48" rx="24" fill="#69b090" stroke="#5a9c7e" stroke-width="1"/>
<text x="2608.5" y="2525.85">ワールド</text>
<rect x="2680.5" y="2500.25" width="63.2" height="40" rx="20" fill="#ea2b1f" stroke="#f1756d" stroke-width="1"/>
<text x="2692.5" y="2525.85">x2</text>
<path d="M2719.7,2517.25 h11 l-5.5,6.5 z" fill="#fff"/>
<rect x="2751.7" y="2500.25" width="117.6" height="40" rx="20" fill="#ea2b1f" stroke="#f1756d" stroke-width="1"/>
<text x="2763.7" y="2525.85">基準座標y</text>
<path d="M2845.3,2517.25 h11 l-5.5,6.5 z" fill="#fff"/>
<rect x="2877.3" y="2500.25" width="63.2" height="40" rx="20" fill="#ea2b1f" stroke="#f1756d" stroke-width="1"/>
<text x="2889.3" y="2525.85">z2</text>
<path d="M2916.5,2517.25 h11 l-5.5,6.5 z" fill="#fff"/>
<text x="2492.5" y="2576.85">モード</text>
<rect x="2548.5" y="2555.25" width="194" height="32" rx="4" fill="none" stroke="#649946" stroke-width="1.2"/>
<text x="2556.5" y="2576.85">置き換え (replace)</text>
<path d="M2722.5,2568.25 h11 l-5.5,6.5 z" fill="#fff"/>
<path d="M2951.25,1844 c25,-22 71,-22 96,0 H3134.25 a4,4 0 0 1 4,4 V1888 a4,4 0 0 1 -4,4 H2971.25 a4,4 0 0 0 -4,4 V2582 a4,4 0 0 0 4,4 H3134.25 a4,4 0 0 1 4,4 V2614 a4,4 0 0 1 -4,4 H2955.25 a4,4 0 0 1 -4,-4 z" fill="#235591" stroke="#1c4474" stroke-width="1"/>
<text x="2959.25" y="1873.6">function</text>
<rect x="3044.05" y="1852" width="49.2" height="32" rx="2" fill="#fff"/>
<text x="3051.05" y="1873.6" class="d">床08</text>
<circle cx="3113.25" cy="1868" r="10.5" fill="none" stroke="#fff" stroke-width="2.2"/>
<path d="M3107.25,1871 l6,-6 l6,6" stroke="#fff" stroke-width="3" fill="none"/>
<path d="M2967.25,1896 a4,4 0 0 1 4,-4 H3397.85 a4,4 0 0 1 4,4 V1944 a4,4 0 0 1 -4,4 H2987.25 a4,4 0 0 0 -4,4 V1992 a4,4 0 0 0 4,4 H3397.85 a4,4 0 0 1 4,4 V2040 a4,4 0 0 1 -4,4 H2987.25 a4,4 0 0 0 -4,4 V2102 a4,4 0 0 0 4,4 H3397.85 a4,4 0 0 1 4,4 V2134 a4,4 0 0 1 -4,4 H2971.25 a4,4 0 0 1 -4,-4 z" fill="#4b969b" stroke="#3c787c" stroke-width="1"/>
<text x="2975.25" y="1925.6">もし</text>
<path d="M3015.25,1920 l24,-24 H3329.85 l24,24 l-24,24 H3039.25 z" fill="#4b969b" stroke="#8cc6ca" stroke-width="1.5"/>
<rect x="3040.75" y="1900" width="188" height="40" rx="20" fill="#ea2b1f" stroke="#f1756d" stroke-width="1"/>
<text x="3052.75" y="1925.6">追加削除制御フラグ</text>
<path d="M3204.75,1917 h11 l-5.5,6.5 z" fill="#fff"/>
<rect x="3236.75" y="1904" width="43.6" height="32" rx="4" fill="none" stroke="#3e7b7f" stroke-width="1.2"/>
<text x="3244.75" y="1925.6">=</text>
<path d="M3260.35,1917 h11 l-5.5,6.5 z" fill="#fff"/>
<rect x="3288.35" y="1904" width="40" height="32" rx="16" fill="#fff"/>
<text x="3308.35" y="1925.6" text-anchor="middle" class="d">1</text>
<text x="3361.85" y="1925.6">なら</text>
<rect x="2983.25" y="1948" width="407.6" height="48" rx="4" fill="#ea2b1f" stroke="#bb2219" stroke-width="1"/>
<text x="2991.25" y="1977.6">変数</text>
<rect x="3031.25" y="1956" width="130" height="32" rx="4" fill="none" stroke="#c02319" stroke-width="1.2"/>
<text x="3039.25" y="1977.6">ブロック変数</text>
<path d="M3141.25,1969 h11 l-5.5,6.5 z" fill="#fff"/>
<text x="3169.25" y="1977.6">を</text>
<rect x="3193.25" y="1952" width="133.6" height="40" rx="20" fill="#ea2b1f" stroke="#f1756d" stroke-width="1"/>
<text x="3205.25" y="1977.6">床ブロック2</text>
<path d="M3302.85,1969 h11 l-5.5,6.5 z" fill="#fff"/>
<text x="3334.85" y="1977.6">にする</text>
<text x="2975.25" y="2025.6">でなければ</text>
<circle cx="3381.85" cy="2020" r="10.5" fill="none" stroke="#fff" stroke-width="2.2"/>
<path d="M3375.85,2020 h12" stroke="#fff" stroke-width="3.6" fill="none"/>
<rect x="2983.25" y="2044" width="370" height="62" rx="4" fill="#ea2b1f" stroke="#bb2219" stroke-width="1"/>
<text x="2991.25" y="2080.6">変数</text>
<rect x="3031.25" y="2059" width="130" height="32" rx="4" fill="none" stroke="#c02319" stroke-width="1.2"/>
<text x="3039.25" y="2080.6">ブロック変数</text>
<path d="M3141.25,2072 h11 l-5.5,6.5 z" fill="#fff"/>
<text x="3169.25" y="2080.6">を</text>
<rect x="3193.25" y="2048" width="96" height="54" rx="27" fill="#7abb55" stroke="#689f48" stroke-width="1"/>
<rect x="3206.25" y="2048.5" width="70" height="53" fill="#73b050" opacity="0.5" stroke="#5f9242" stroke-width="1"/>
<path d="M3216.25,2067 l15,-8 l15,8 l-15,8 z" fill="#c4ecd6"/>
<path d="M3216.25,2067 l15,8 v17 l-15,-8 z" fill="#a4dcbe"/>
<path d="M3231.25,2075 l15,-8 v17 l-15,8 z" fill="#86c8a6"/>
<path d="M3259.25,2072 h11 l-5.5,6.5 z" fill="#fff"/>
<text x="3297.25" y="2080.6">にする</text>
<circle cx="2987.25" cy="2122" r="10.5" fill="none" stroke="#fff" stroke-width="2.2"/>
<path d="M2981.25,2122 h12 M2987.25,2116 v12" stroke="#fff" stroke-width="3.6" fill="none"/>
<rect x="2967.25" y="2138" width="248" height="48" rx="4" fill="#235591" stroke="#1c4474" stroke-width="1"/>
<text x="2975.25" y="2167.6">呼び出し</text>
<text x="3047.25" y="2167.6">基準座標を変数に設定</text>
<rect x="2967.25" y="2186" width="271.9" height="48" rx="4" fill="#ea2b1f" stroke="#bb2219" stroke-width="1"/>
<text x="2975.25" y="2215.6">変数</text>
<rect x="3015.25" y="2194" width="53.2" height="32" rx="4" fill="none" stroke="#c02319" stroke-width="1.2"/>
<text x="3023.25" y="2215.6">x1</text>
<path d="M3048.45,2207 h11 l-5.5,6.5 z" fill="#fff"/>
<text x="3076.45" y="2215.6">を</text>
<rect x="3100.45" y="2194" width="42.7" height="32" rx="16" fill="#fff"/>
<text x="3121.8" y="2215.6" text-anchor="middle" class="d">10</text>
<text x="3151.15" y="2215.6">だけ増やす</text>
<rect x="2967.25" y="2234" width="271.9" height="48" rx="4" fill="#ea2b1f" stroke="#bb2219" stroke-width="1"/>
<text x="2975.25" y="2263.6">変数</text>
<rect x="3015.25" y="2242" width="53.2" height="32" rx="4" fill="none" stroke="#c02319" stroke-width="1.2"/>
<text x="3023.25" y="2263.6">z1</text>
<path d="M3048.45,2255 h11 l-5.5,6.5 z" fill="#fff"/>
<text x="3076.45" y="2263.6">を</text>
<rect x="3100.45" y="2242" width="42.7" height="32" rx="16" fill="#fff"/>
<text x="3121.8" y="2263.6" text-anchor="middle" class="d">-5</text>
<text x="3151.15" y="2263.6">だけ増やす</text>
<rect x="2967.25" y="2282" width="271.9" height="48" rx="4" fill="#ea2b1f" stroke="#bb2219" stroke-width="1"/>
<text x="2975.25" y="2311.6">変数</text>
<rect x="3015.25" y="2290" width="53.2" height="32" rx="4" fill="none" stroke="#c02319" stroke-width="1.2"/>
<text x="3023.25" y="2311.6">x2</text>
<path d="M3048.45,2303 h11 l-5.5,6.5 z" fill="#fff"/>
<text x="3076.45" y="2311.6">を</text>
<rect x="3100.45" y="2290" width="42.7" height="32" rx="16" fill="#fff"/>
<text x="3121.8" y="2311.6" text-anchor="middle" class="d">14</text>
<text x="3151.15" y="2311.6">だけ増やす</text>
<rect x="2967.25" y="2330" width="271.9" height="48" rx="4" fill="#ea2b1f" stroke="#bb2219" stroke-width="1"/>
<text x="2975.25" y="2359.6">変数</text>
<rect x="3015.25" y="2338" width="53.2" height="32" rx="4" fill="none" stroke="#c02319" stroke-width="1.2"/>
<text x="3023.25" y="2359.6">z2</text>
<path d="M3048.45,2351 h11 l-5.5,6.5 z" fill="#fff"/>
<text x="3076.45" y="2359.6">を</text>
<rect x="3100.45" y="2338" width="42.7" height="32" rx="16" fill="#fff"/>
<text x="3121.8" y="2359.6" text-anchor="middle" class="d">-9</text>
<text x="3151.15" y="2359.6">だけ増やす</text>
<rect x="2967.25" y="2378" width="468" height="208" rx="4" fill="#7abb55" stroke="#629644" stroke-width="1"/>
<text x="2975.25" y="2411.6">ブロックを並べる</text>
<rect x="3111.25" y="2386" width="140" height="40" rx="20" fill="#ea2b1f" stroke="#f1756d" stroke-width="1"/>
<text x="3123.25" y="2411.6">ブロック変数</text>
<path d="M3227.25,2403 h11 l-5.5,6.5 z" fill="#fff"/>
<text x="2975.25" y="2464.6">範囲の始まり</text>
<rect x="3079.25" y="2435" width="348" height="48" rx="24" fill="#69b090" stroke="#5a9c7e" stroke-width="1"/>
<text x="3091.25" y="2464.6">ワールド</text>
<rect x="3163.25" y="2439" width="63.2" height="40" rx="20" fill="#ea2b1f" stroke="#f1756d" stroke-width="1"/>
<text x="3175.25" y="2464.6">x1</text>
<path d="M3202.45,2456 h11 l-5.5,6.5 z" fill="#fff"/>
<rect x="3234.45" y="2439" width="117.6" height="40" rx="20" fill="#ea2b1f" stroke="#f1756d" stroke-width="1"/>
<text x="3246.45" y="2464.6">基準座標y</text>
<path d="M3328.05,2456 h11 l-5.5,6.5 z" fill="#fff"/>
<rect x="3360.05" y="2439" width="63.2" height="40" rx="20" fill="#ea2b1f" stroke="#f1756d" stroke-width="1"/>
<text x="3372.05" y="2464.6">z1</text>
<path d="M3399.25,2456 h11 l-5.5,6.5 z" fill="#fff"/>
<text x="2975.25" y="2518.6">範囲の終わり</text>
<rect x="3079.25" y="2489" width="348" height="48" rx="24" fill="#69b090" stroke="#5a9c7e" stroke-width="1"/>
<text x="3091.25" y="2518.6">ワールド</text>
<rect x="3163.25" y="2493" width="63.2" height="40" rx="20" fill="#ea2b1f" stroke="#f1756d" stroke-width="1"/>
<text x="3175.25" y="2518.6">x2</text>
<path d="M3202.45,2510 h11 l-5.5,6.5 z" fill="#fff"/>
<rect x="3234.45" y="2493" width="117.6" height="40" rx="20" fill="#ea2b1f" stroke="#f1756d" stroke-width="1"/>
<text x="3246.45" y="2518.6">基準座標y</text>
<path d="M3328.05,2510 h11 l-5.5,6.5 z" fill="#fff"/>
<rect x="3360.05" y="2493" width="63.2" height="40" rx="20" fill="#ea2b1f" stroke="#f1756d" stroke-width="1"/>
<text x="3372.05" y="2518.6">z2</text>
<path d="M3399.25,2510 h11 l-5.5,6.5 z" fill="#fff"/>
<text x="2975.25" y="2569.6">モード</text>
<rect x="3031.25" y="2548" width="194" height="32" rx="4" fill="none" stroke="#649946" stroke-width="1.2"/>
<text x="3039.25" y="2569.6">置き換え (replace)</text>
<path d="M3205.25,2561 h11 l-5.5,6.5 z" fill="#fff"/>
<path d="M3543,1847.25 c25,-22 71,-22 96,0 H3726 a4,4 0 0 1 4,4 V1891.25 a4,4 0 0 1 -4,4 H3563 a4,4 0 0 0 -4,4 V2585.25 a4,4 0 0 0 4,4 H3726 a4,4 0 0 1 4,4 V2617.25 a4,4 0 0 1 -4,4 H3547 a4,4 0 0 1 -4,-4 z" fill="#235591" stroke="#1c4474" stroke-width="1"/>
<text x="3551" y="1876.85">function</text>
<rect x="3635.8" y="1855.25" width="49.2" height="32" rx="2" fill="#fff"/>
<text x="3642.8" y="1876.85" class="d">床09</text>
<circle cx="3705" cy="1871.25" r="10.5" fill="none" stroke="#fff" stroke-width="2.2"/>
<path d="M3699,1874.25 l6,-6 l6,6" stroke="#fff" stroke-width="3" fill="none"/>
<path d="M3559,1899.25 a4,4 0 0 1 4,-4 H3989.6 a4,4 0 0 1 4,4 V1947.25 a4,4 0 0 1 -4,4 H3579 a4,4 0 0 0 -4,4 V1995.25 a4,4 0 0 0 4,4 H3989.6 a4,4 0 0 1 4,4 V2043.25 a4,4 0 0 1 -4,4 H3579 a4,4 0 0 0 -4,4 V2105.25 a4,4 0 0 0 4,4 H3989.6 a4,4 0 0 1 4,4 V2137.25 a4,4 0 0 1 -4,4 H3563 a4,4 0 0 1 -4,-4 z" fill="#4b969b" stroke="#3c787c" stroke-width="1"/>
<text x="3567" y="1928.85">もし</text>
<path d="M3607,1923.25 l24,-24 H3921.6 l24,24 l-24,24 H3631 z" fill="#4b969b" stroke="#8cc6ca" stroke-width="1.5"/>
<rect x="3632.5" y="1903.25" width="188" height="40" rx="20" fill="#ea2b1f" stroke="#f1756d" stroke-width="1"/>
<text x="3644.5" y="1928.85">追加削除制御フラグ</text>
<path d="M3796.5,1920.25 h11 l-5.5,6.5 z" fill="#fff"/>
<rect x="3828.5" y="1907.25" width="43.6" height="32" rx="4" fill="none" stroke="#3e7b7f" stroke-width="1.2"/>
<text x="3836.5" y="1928.85">=</text>
<path d="M3852.1,1920.25 h11 l-5.5,6.5 z" fill="#fff"/>
<rect x="3880.1" y="1907.25" width="40" height="32" rx="16" fill="#fff"/>
<text x="3900.1" y="1928.85" text-anchor="middle" class="d">1</text>
<text x="3953.6" y="1928.85">なら</text>
<rect x="3575" y="1951.25" width="407.6" height="48" rx="4" fill="#ea2b1f" stroke="#bb2219" stroke-width="1"/>
<text x="3583" y="1980.85">変数</text>
<rect x="3623" y="1959.25" width="130" height="32" rx="4" fill="none" stroke="#c02319" stroke-width="1.2"/>
<text x="3631" y="1980.85">ブロック変数</text>
<path d="M3733,1972.25 h11 l-5.5,6.5 z" fill="#fff"/>
<text x="3761" y="1980.85">を</text>
<rect x="3785" y="1955.25" width="133.6" height="40" rx="20" fill="#ea2b1f" stroke="#f1756d" stroke-width="1"/>
<text x="3797" y="1980.85">床ブロック1</text>
<path d="M3894.6,1972.25 h11 l-5.5,6.5 z" fill="#fff"/>
<text x="3926.6" y="1980.85">にする</text>
<text x="3567" y="2028.85">でなければ</text>
<circle cx="3973.6" cy="2023.25" r="10.5" fill="none" stroke="#fff" stroke-width="2.2"/>
<path d="M3967.6,2023.25 h12" stroke="#fff" stroke-width="3.6" fill="none"/>
<rect x="3575" y="2047.25" width="370" height="62" rx="4" fill="#ea2b1f" stroke="#bb2219" stroke-width="1"/>
<text x="3583" y="2083.85">変数</text>
<rect x="3623" y="2062.25" width="130" height="32" rx="4" fill="none" stroke="#c02319" stroke-width="1.2"/>
<text x="3631" y="2083.85">ブロック変数</text>
<path d="M3733,2075.25 h11 l-5.5,6.5 z" fill="#fff"/>
<text x="3761" y="2083.85">を</text>
<rect x="3785" y="2051.25" width="96" height="54" rx="27" fill="#7abb55" stroke="#689f48" stroke-width="1"/>
<rect x="3798" y="2051.75" width="70" height="53" fill="#73b050" opacity="0.5" stroke="#5f9242" stroke-width="1"/>
<path d="M3808,2070.25 l15,-8 l15,8 l-15,8 z" fill="#c4ecd6"/>
<path d="M3808,2070.25 l15,8 v17 l-15,-8 z" fill="#a4dcbe"/>
<path d="M3823,2078.25 l15,-8 v17 l-15,8 z" fill="#86c8a6"/>
<path d="M3851,2075.25 h11 l-5.5,6.5 z" fill="#fff"/>
<text x="3889" y="2083.85">にする</text>
<circle cx="3579" cy="2125.25" r="10.5" fill="none" stroke="#fff" stroke-width="2.2"/>
<path d="M3573,2125.25 h12 M3579,2119.25 v12" stroke="#fff" stroke-width="3.6" fill="none"/>
<rect x="3559" y="2141.25" width="248" height="48" rx="4" fill="#235591" stroke="#1c4474" stroke-width="1"/>
<text x="3567" y="2170.85">呼び出し</text>
<text x="3639" y="2170.85">基準座標を変数に設定</text>
<rect x="3559" y="2189.25" width="271.9" height="48" rx="4" fill="#ea2b1f" stroke="#bb2219" stroke-width="1"/>
<text x="3567" y="2218.85">変数</text>
<rect x="3607" y="2197.25" width="53.2" height="32" rx="4" fill="none" stroke="#c02319" stroke-width="1.2"/>
<text x="3615" y="2218.85">x1</text>
<path d="M3640.2,2210.25 h11 l-5.5,6.5 z" fill="#fff"/>
<text x="3668.2" y="2218.85">を</text>
<rect x="3692.2" y="2197.25" width="42.7" height="32" rx="16" fill="#fff"/>
<text x="3713.55" y="2218.85" text-anchor="middle" class="d">15</text>
<text x="3742.9" y="2218.85">だけ増やす</text>
<rect x="3559" y="2237.25" width="271.9" height="48" rx="4" fill="#ea2b1f" stroke="#bb2219" stroke-width="1"/>
<text x="3567" y="2266.85">変数</text>
<rect x="3607" y="2245.25" width="53.2" height="32" rx="4" fill="none" stroke="#c02319" stroke-width="1.2"/>
<text x="3615" y="2266.85">z1</text>
<path d="M3640.2,2258.25 h11 l-5.5,6.5 z" fill="#fff"/>
<text x="3668.2" y="2266.85">を</text>
<rect x="3692.2" y="2245.25" width="42.7" height="32" rx="16" fill="#fff"/>
<text x="3713.55" y="2266.85" text-anchor="middle" class="d">-5</text>
<text x="3742.9" y="2266.85">だけ増やす</text>
<rect x="3559" y="2285.25" width="271.9" height="48" rx="4" fill="#ea2b1f" stroke="#bb2219" stroke-width="1"/>
<text x="3567" y="2314.85">変数</text>
<rect x="3607" y="2293.25" width="53.2" height="32" rx="4" fill="none" stroke="#c02319" stroke-width="1.2"/>
<text x="3615" y="2314.85">x2</text>
<path d="M3640.2,2306.25 h11 l-5.5,6.5 z" fill="#fff"/>
<text x="3668.2" y="2314.85">を</text>
<rect x="3692.2" y="2293.25" width="42.7" height="32" rx="16" fill="#fff"/>
<text x="3713.55" y="2314.85" text-anchor="middle" class="d">19</text>
<text x="3742.9" y="2314.85">だけ増やす</text>
<rect x="3559" y="2333.25" width="271.9" height="48" rx="4" fill="#ea2b1f" stroke="#bb2219" stroke-width="1"/>
<text x="3567" y="2362.85">変数</text>
<rect x="3607" y="2341.25" width="53.2" height="32" rx="4" fill="none" stroke="#c02319" stroke-width="1.2"/>
<text x="3615" y="2362.85">z2</text>
<path d="M3640.2,2354.25 h11 l-5.5,6.5 z" fill="#fff"/>
<text x="3668.2" y="2362.85">を</text>
<rect x="3692.2" y="2341.25" width="42.7" height="32" rx="16" fill="#fff"/>
<text x="3713.55" y="2362.85" text-anchor="middle" class="d">-9</text>
<text x="3742.9" y="2362.85">だけ増やす</text>
<rect x="3559" y="2381.25" width="468" height="208" rx="4" fill="#7abb55" stroke="#629644" stroke-width="1"/>
<text x="3567" y="2414.85">ブロックを並べる</text>
<rect x="3703" y="2389.25" width="140" height="40" rx="20" fill="#ea2b1f" stroke="#f1756d" stroke-width="1"/>
<text x="3715" y="2414.85">ブロック変数</text>
<path d="M3819,2406.25 h11 l-5.5,6.5 z" fill="#fff"/>
<text x="3567" y="2467.85">範囲の始まり</text>
<rect x="3671" y="2438.25" width="348" height="48" rx="24" fill="#69b090" stroke="#5a9c7e" stroke-width="1"/>
<text x="3683" y="2467.85">ワールド</text>
<rect x="3755" y="2442.25" width="63.2" height="40" rx="20" fill="#ea2b1f" stroke="#f1756d" stroke-width="1"/>
<text x="3767" y="2467.85">x1</text>
<path d="M3794.2,2459.25 h11 l-5.5,6.5 z" fill="#fff"/>
<rect x="3826.2" y="2442.25" width="117.6" height="40" rx="20" fill="#ea2b1f" stroke="#f1756d" stroke-width="1"/>
<text x="3838.2" y="2467.85">基準座標y</text>
<path d="M3919.8,2459.25 h11 l-5.5,6.5 z" fill="#fff"/>
<rect x="3951.8" y="2442.25" width="63.2" height="40" rx="20" fill="#ea2b1f" stroke="#f1756d" stroke-width="1"/>
<text x="3963.8" y="2467.85">z1</text>
<path d="M3991,2459.25 h11 l-5.5,6.5 z" fill="#fff"/>
<text x="3567" y="2521.85">範囲の終わり</text>
<rect x="3671" y="2492.25" width="348" height="48" rx="24" fill="#69b090" stroke="#5a9c7e" stroke-width="1"/>
<text x="3683" y="2521.85">ワールド</text>
<rect x="3755" y="2496.25" width="63.2" height="40" rx="20" fill="#ea2b1f" stroke="#f1756d" stroke-width="1"/>
<text x="3767" y="2521.85">x2</text>
<path d="M3794.2,2513.25 h11 l-5.5,6.5 z" fill="#fff"/>
<rect x="3826.2" y="2496.25" width="117.6" height="40" rx="20" fill="#ea2b1f" stroke="#f1756d" stroke-width="1"/>
<text x="3838.2" y="2521.85">基準座標y</text>
<path d="M3919.8,2513.25 h11 l-5.5,6.5 z" fill="#fff"/>
<rect x="3951.8" y="2496.25" width="63.2" height="40" rx="20" fill="#ea2b1f" stroke="#f1756d" stroke-width="1"/>
<text x="3963.8" y="2521.85">z2</text>
<path d="M3991,2513.25 h11 l-5.5,6.5 z" fill="#fff"/>
<text x="3567" y="2572.85">モード</text>
<rect x="3623" y="2551.25" width="194" height="32" rx="4" fill="none" stroke="#649946" stroke-width="1.2"/>
<text x="3631" y="2572.85">置き換え (replace)</text>
<path d="M3797,2564.25 h11 l-5.5,6.5 z" fill="#fff"/>
<path d="M4329.75,1830 c25,-22 71,-22 96,0 H4512.75 a4,4 0 0 1 4,4 V1874 a4,4 0 0 1 -4,4 H4349.75 a4,4 0 0 0 -4,4 V2568 a4,4 0 0 0 4,4 H4512.75 a4,4 0 0 1 4,4 V2600 a4,4 0 0 1 -4,4 H4333.75 a4,4 0 0 1 -4,-4 z" fill="#235591" stroke="#1c4474" stroke-width="1"/>
<text x="4337.75" y="1859.6">function</text>
<rect x="4422.55" y="1838" width="49.2" height="32" rx="2" fill="#fff"/>
<text x="4429.55" y="1859.6" class="d">床10</text>
<circle cx="4491.75" cy="1854" r="10.5" fill="none" stroke="#fff" stroke-width="2.2"/>
<path d="M4485.75,1857 l6,-6 l6,6" stroke="#fff" stroke-width="3" fill="none"/>
<path d="M4345.75,1882 a4,4 0 0 1 4,-4 H4776.35 a4,4 0 0 1 4,4 V1930 a4,4 0 0 1 -4,4 H4365.75 a4,4 0 0 0 -4,4 V1978 a4,4 0 0 0 4,4 H4776.35 a4,4 0 0 1 4,4 V2026 a4,4 0 0 1 -4,4 H4365.75 a4,4 0 0 0 -4,4 V2088 a4,4 0 0 0 4,4 H4776.35 a4,4 0 0 1 4,4 V2120 a4,4 0 0 1 -4,4 H4349.75 a4,4 0 0 1 -4,-4 z" fill="#4b969b" stroke="#3c787c" stroke-width="1"/>
<text x="4353.75" y="1911.6">もし</text>
<path d="M4393.75,1906 l24,-24 H4708.35 l24,24 l-24,24 H4417.75 z" fill="#4b969b" stroke="#8cc6ca" stroke-width="1.5"/>
<rect x="4419.25" y="1886" width="188" height="40" rx="20" fill="#ea2b1f" stroke="#f1756d" stroke-width="1"/>
<text x="4431.25" y="1911.6">追加削除制御フラグ</text>
<path d="M4583.25,1903 h11 l-5.5,6.5 z" fill="#fff"/>
<rect x="4615.25" y="1890" width="43.6" height="32" rx="4" fill="none" stroke="#3e7b7f" stroke-width="1.2"/>
<text x="4623.25" y="1911.6">=</text>
<path d="M4638.85,1903 h11 l-5.5,6.5 z" fill="#fff"/>
<rect x="4666.85" y="1890" width="40" height="32" rx="16" fill="#fff"/>
<text x="4686.85" y="1911.6" text-anchor="middle" class="d">1</text>
<text x="4740.35" y="1911.6">なら</text>
<rect x="4361.75" y="1934" width="407.6" height="48" rx="4" fill="#ea2b1f" stroke="#bb2219" stroke-width="1"/>
<text x="4369.75" y="1963.6">変数</text>
<rect x="4409.75" y="1942" width="130" height="32" rx="4" fill="none" stroke="#c02319" stroke-width="1.2"/>
<text x="4417.75" y="1963.6">ブロック変数</text>
<path d="M4519.75,1955 h11 l-5.5,6.5 z" fill="#fff"/>
<text x="4547.75" y="1963.6">を</text>
<rect x="4571.75" y="1938" width="133.6" height="40" rx="20" fill="#ea2b1f" stroke="#f1756d" stroke-width="1"/>
<text x="4583.75" y="1963.6">床ブロック2</text>
<path d="M4681.35,1955 h11 l-5.5,6.5 z" fill="#fff"/>
<text x="4713.35" y="1963.6">にする</text>
<text x="4353.75" y="2011.6">でなければ</text>
<circle cx="4760.35" cy="2006" r="10.5" fill="none" stroke="#fff" stroke-width="2.2"/>
<path d="M4754.35,2006 h12" stroke="#fff" stroke-width="3.6" fill="none"/>
<rect x="4361.75" y="2030" width="370" height="62" rx="4" fill="#ea2b1f" stroke="#bb2219" stroke-width="1"/>
<text x="4369.75" y="2066.6">変数</text>
<rect x="4409.75" y="2045" width="130" height="32" rx="4" fill="none" stroke="#c02319" stroke-width="1.2"/>
<text x="4417.75" y="2066.6">ブロック変数</text>
<path d="M4519.75,2058 h11 l-5.5,6.5 z" fill="#fff"/>
<text x="4547.75" y="2066.6">を</text>
<rect x="4571.75" y="2034" width="96" height="54" rx="27" fill="#7abb55" stroke="#689f48" stroke-width="1"/>
<rect x="4584.75" y="2034.5" width="70" height="53" fill="#73b050" opacity="0.5" stroke="#5f9242" stroke-width="1"/>
<path d="M4594.75,2053 l15,-8 l15,8 l-15,8 z" fill="#c4ecd6"/>
<path d="M4594.75,2053 l15,8 v17 l-15,-8 z" fill="#a4dcbe"/>
<path d="M4609.75,2061 l15,-8 v17 l-15,8 z" fill="#86c8a6"/>
<path d="M4637.75,2058 h11 l-5.5,6.5 z" fill="#fff"/>
<text x="4675.75" y="2066.6">にする</text>
<circle cx="4365.75" cy="2108" r="10.5" fill="none" stroke="#fff" stroke-width="2.2"/>
<path d="M4359.75,2108 h12 M4365.75,2102 v12" stroke="#fff" stroke-width="3.6" fill="none"/>
<rect x="4345.75" y="2124" width="248" height="48" rx="4" fill="#235591" stroke="#1c4474" stroke-width="1"/>
<text x="4353.75" y="2153.6">呼び出し</text>
<text x="4425.75" y="2153.6">基準座標を変数に設定</text>
<rect x="4345.75" y="2172" width="271.9" height="48" rx="4" fill="#ea2b1f" stroke="#bb2219" stroke-width="1"/>
<text x="4353.75" y="2201.6">変数</text>
<rect x="4393.75" y="2180" width="53.2" height="32" rx="4" fill="none" stroke="#c02319" stroke-width="1.2"/>
<text x="4401.75" y="2201.6">x1</text>
<path d="M4426.95,2193 h11 l-5.5,6.5 z" fill="#fff"/>
<text x="4454.95" y="2201.6">を</text>
<rect x="4478.95" y="2180" width="42.7" height="32" rx="16" fill="#fff"/>
<text x="4500.3" y="2201.6" text-anchor="middle" class="d">20</text>
<text x="4529.65" y="2201.6">だけ増やす</text>
<rect x="4345.75" y="2220" width="271.9" height="48" rx="4" fill="#ea2b1f" stroke="#bb2219" stroke-width="1"/>
<text x="4353.75" y="2249.6">変数</text>
<rect x="4393.75" y="2228" width="53.2" height="32" rx="4" fill="none" stroke="#c02319" stroke-width="1.2"/>
<text x="4401.75" y="2249.6">z1</text>
<path d="M4426.95,2241 h11 l-5.5,6.5 z" fill="#fff"/>
<text x="4454.95" y="2249.6">を</text>
<rect x="4478.95" y="2228" width="42.7" height="32" rx="16" fill="#fff"/>
<text x="4500.3" y="2249.6" text-anchor="middle" class="d">-5</text>
<text x="4529.65" y="2249.6">だけ増やす</text>
<rect x="4345.75" y="2268" width="271.9" height="48" rx="4" fill="#ea2b1f" stroke="#bb2219" stroke-width="1"/>
<text x="4353.75" y="2297.6">変数</text>
<rect x="4393.75" y="2276" width="53.2" height="32" rx="4" fill="none" stroke="#c02319" stroke-width="1.2"/>
<text x="4401.75" y="2297.6">x2</text>
<path d="M4426.95,2289 h11 l-5.5,6.5 z" fill="#fff"/>
<text x="4454.95" y="2297.6">を</text>
<rect x="4478.95" y="2276" width="42.7" height="32" rx="16" fill="#fff"/>
<text x="4500.3" y="2297.6" text-anchor="middle" class="d">24</text>
<text x="4529.65" y="2297.6">だけ増やす</text>
<rect x="4345.75" y="2316" width="271.9" height="48" rx="4" fill="#ea2b1f" stroke="#bb2219" stroke-width="1"/>
<text x="4353.75" y="2345.6">変数</text>
<rect x="4393.75" y="2324" width="53.2" height="32" rx="4" fill="none" stroke="#c02319" stroke-width="1.2"/>
<text x="4401.75" y="2345.6">z2</text>
<path d="M4426.95,2337 h11 l-5.5,6.5 z" fill="#fff"/>
<text x="4454.95" y="2345.6">を</text>
<rect x="4478.95" y="2324" width="42.7" height="32" rx="16" fill="#fff"/>
<text x="4500.3" y="2345.6" text-anchor="middle" class="d">-9</text>
<text x="4529.65" y="2345.6">だけ増やす</text>
<rect x="4345.75" y="2364" width="468" height="208" rx="4" fill="#7abb55" stroke="#629644" stroke-width="1"/>
<text x="4353.75" y="2397.6">ブロックを並べる</text>
<rect x="4489.75" y="2372" width="140" height="40" rx="20" fill="#ea2b1f" stroke="#f1756d" stroke-width="1"/>
<text x="4501.75" y="2397.6">ブロック変数</text>
<path d="M4605.75,2389 h11 l-5.5,6.5 z" fill="#fff"/>
<text x="4353.75" y="2450.6">範囲の始まり</text>
<rect x="4457.75" y="2421" width="348" height="48" rx="24" fill="#69b090" stroke="#5a9c7e" stroke-width="1"/>
<text x="4469.75" y="2450.6">ワールド</text>
<rect x="4541.75" y="2425" width="63.2" height="40" rx="20" fill="#ea2b1f" stroke="#f1756d" stroke-width="1"/>
<text x="4553.75" y="2450.6">x1</text>
<path d="M4580.95,2442 h11 l-5.5,6.5 z" fill="#fff"/>
<rect x="4612.95" y="2425" width="117.6" height="40" rx="20" fill="#ea2b1f" stroke="#f1756d" stroke-width="1"/>
<text x="4624.95" y="2450.6">基準座標y</text>
<path d="M4706.55,2442 h11 l-5.5,6.5 z" fill="#fff"/>
<rect x="4738.55" y="2425" width="63.2" height="40" rx="20" fill="#ea2b1f" stroke="#f1756d" stroke-width="1"/>
<text x="4750.55" y="2450.6">z1</text>
<path d="M4777.75,2442 h11 l-5.5,6.5 z" fill="#fff"/>
<text x="4353.75" y="2504.6">範囲の終わり</text>
<rect x="4457.75" y="2475" width="348" height="48" rx="24" fill="#69b090" stroke="#5a9c7e" stroke-width="1"/>
<text x="4469.75" y="2504.6">ワールド</text>
<rect x="4541.75" y="2479" width="63.2" height="40" rx="20" fill="#ea2b1f" stroke="#f1756d" stroke-width="1"/>
<text x="4553.75" y="2504.6">x2</text>
<path d="M4580.95,2496 h11 l-5.5,6.5 z" fill="#fff"/>
<rect x="4612.95" y="2479" width="117.6" height="40" rx="20" fill="#ea2b1f" stroke="#f1756d" stroke-width="1"/>
<text x="4624.95" y="2504.6">基準座標y</text>
<path d="M4706.55,2496 h11 l-5.5,6.5 z" fill="#fff"/>
<rect x="4738.55" y="2479" width="63.2" height="40" rx="20" fill="#ea2b1f" stroke="#f1756d" stroke-width="1"/>
<text x="4750.55" y="2504.6">z2</text>
<path d="M4777.75,2496 h11 l-5.5,6.5 z" fill="#fff"/>
<text x="4353.75" y="2555.6">モード</text>
<rect x="4409.75" y="2534" width="194" height="32" rx="4" fill="none" stroke="#649946" stroke-width="1.2"/>
<text x="4417.75" y="2555.6">置き換え (replace)</text>
<path d="M4583.75,2547 h11 l-5.5,6.5 z" fill="#fff"/>
<path d="M1912.5,2687.5 c25,-22 71,-22 96,0 H2095.5 a4,4 0 0 1 4,4 V2731.5 a4,4 0 0 1 -4,4 H1932.5 a4,4 0 0 0 -4,4 V3425.5 a4,4 0 0 0 4,4 H2095.5 a4,4 0 0 1 4,4 V3457.5 a4,4 0 0 1 -4,4 H1916.5 a4,4 0 0 1 -4,-4 z" fill="#235591" stroke="#1c4474" stroke-width="1"/>
<text x="1920.5" y="2717.1">function</text>
<rect x="2005.3" y="2695.5" width="49.2" height="32" rx="2" fill="#fff"/>
<text x="2012.3" y="2717.1" class="d">床11</text>
<circle cx="2074.5" cy="2711.5" r="10.5" fill="none" stroke="#fff" stroke-width="2.2"/>
<path d="M2068.5,2714.5 l6,-6 l6,6" stroke="#fff" stroke-width="3" fill="none"/>
<path d="M1928.5,2739.5 a4,4 0 0 1 4,-4 H2359.1 a4,4 0 0 1 4,4 V2787.5 a4,4 0 0 1 -4,4 H1948.5 a4,4 0 0 0 -4,4 V2835.5 a4,4 0 0 0 4,4 H2359.1 a4,4 0 0 1 4,4 V2883.5 a4,4 0 0 1 -4,4 H1948.5 a4,4 0 0 0 -4,4 V2945.5 a4,4 0 0 0 4,4 H2359.1 a4,4 0 0 1 4,4 V2977.5 a4,4 0 0 1 -4,4 H1932.5 a4,4 0 0 1 -4,-4 z" fill="#4b969b" stroke="#3c787c" stroke-width="1"/>
<text x="1936.5" y="2769.1">もし</text>
<path d="M1976.5,2763.5 l24,-24 H2291.1 l24,24 l-24,24 H2000.5 z" fill="#4b969b" stroke="#8cc6ca" stroke-width="1.5"/>
<rect x="2002" y="2743.5" width="188" height="40" rx="20" fill="#ea2b1f" stroke="#f1756d" stroke-width="1"/>
<text x="2014" y="2769.1">追加削除制御フラグ</text>
<path d="M2166,2760.5 h11 l-5.5,6.5 z" fill="#fff"/>
<rect x="2198" y="2747.5" width="43.6" height="32" rx="4" fill="none" stroke="#3e7b7f" stroke-width="1.2"/>
<text x="2206" y="2769.1">=</text>
<path d="M2221.6,2760.5 h11 l-5.5,6.5 z" fill="#fff"/>
<rect x="2249.6" y="2747.5" width="40" height="32" rx="16" fill="#fff"/>
<text x="2269.6" y="2769.1" text-anchor="middle" class="d">1</text>
<text x="2323.1" y="2769.1">なら</text>
<rect x="1944.5" y="2791.5" width="407.6" height="48" rx="4" fill="#ea2b1f" stroke="#bb2219" stroke-width="1"/>
<text x="1952.5" y="2821.1">変数</text>
<rect x="1992.5" y="2799.5" width="130" height="32" rx="4" fill="none" stroke="#c02319" stroke-width="1.2"/>
<text x="2000.5" y="2821.1">ブロック変数</text>
<path d="M2102.5,2812.5 h11 l-5.5,6.5 z" fill="#fff"/>
<text x="2130.5" y="2821.1">を</text>
<rect x="2154.5" y="2795.5" width="133.6" height="40" rx="20" fill="#ea2b1f" stroke="#f1756d" stroke-width="1"/>
<text x="2166.5" y="2821.1">床ブロック1</text>
<path d="M2264.1,2812.5 h11 l-5.5,6.5 z" fill="#fff"/>
<text x="2296.1" y="2821.1">にする</text>
<text x="1936.5" y="2869.1">でなければ</text>
<circle cx="2343.1" cy="2863.5" r="10.5" fill="none" stroke="#fff" stroke-width="2.2"/>
<path d="M2337.1,2863.5 h12" stroke="#fff" stroke-width="3.6" fill="none"/>
<rect x="1944.5" y="2887.5" width="370" height="62" rx="4" fill="#ea2b1f" stroke="#bb2219" stroke-width="1"/>
<text x="1952.5" y="2924.1">変数</text>
<rect x="1992.5" y="2902.5" width="130" height="32" rx="4" fill="none" stroke="#c02319" stroke-width="1.2"/>
<text x="2000.5" y="2924.1">ブロック変数</text>
<path d="M2102.5,2915.5 h11 l-5.5,6.5 z" fill="#fff"/>
<text x="2130.5" y="2924.1">を</text>
<rect x="2154.5" y="2891.5" width="96" height="54" rx="27" fill="#7abb55" stroke="#689f48" stroke-width="1"/>
<rect x="2167.5" y="2892" width="70" height="53" fill="#73b050" opacity="0.5" stroke="#5f9242" stroke-width="1"/>
<path d="M2177.5,2910.5 l15,-8 l15,8 l-15,8 z" fill="#c4ecd6"/>
<path d="M2177.5,2910.5 l15,8 v17 l-15,-8 z" fill="#a4dcbe"/>
<path d="M2192.5,2918.5 l15,-8 v17 l-15,8 z" fill="#86c8a6"/>
<path d="M2220.5,2915.5 h11 l-5.5,6.5 z" fill="#fff"/>
<text x="2258.5" y="2924.1">にする</text>
<circle cx="1948.5" cy="2965.5" r="10.5" fill="none" stroke="#fff" stroke-width="2.2"/>
<path d="M1942.5,2965.5 h12 M1948.5,2959.5 v12" stroke="#fff" stroke-width="3.6" fill="none"/>
<rect x="1928.5" y="2981.5" width="248" height="48" rx="4" fill="#235591" stroke="#1c4474" stroke-width="1"/>
<text x="1936.5" y="3011.1">呼び出し</text>
<text x="2008.5" y="3011.1">基準座標を変数に設定</text>
<rect x="1928.5" y="3029.5" width="269.2" height="48" rx="4" fill="#ea2b1f" stroke="#bb2219" stroke-width="1"/>
<text x="1936.5" y="3059.1">変数</text>
<rect x="1976.5" y="3037.5" width="53.2" height="32" rx="4" fill="none" stroke="#c02319" stroke-width="1.2"/>
<text x="1984.5" y="3059.1">x1</text>
<path d="M2009.7,3050.5 h11 l-5.5,6.5 z" fill="#fff"/>
<text x="2037.7" y="3059.1">を</text>
<rect x="2061.7" y="3037.5" width="40" height="32" rx="16" fill="#fff"/>
<text x="2081.7" y="3059.1" text-anchor="middle" class="d">0</text>
<text x="2109.7" y="3059.1">だけ増やす</text>
<rect x="1928.5" y="3077.5" width="281.5" height="48" rx="4" fill="#ea2b1f" stroke="#bb2219" stroke-width="1"/>
<text x="1936.5" y="3107.1">変数</text>
<rect x="1976.5" y="3085.5" width="53.2" height="32" rx="4" fill="none" stroke="#c02319" stroke-width="1.2"/>
<text x="1984.5" y="3107.1">z1</text>
<path d="M2009.7,3098.5 h11 l-5.5,6.5 z" fill="#fff"/>
<text x="2037.7" y="3107.1">を</text>
<rect x="2061.7" y="3085.5" width="52.3" height="32" rx="16" fill="#fff"/>
<text x="2087.85" y="3107.1" text-anchor="middle" class="d">-10</text>
<text x="2122" y="3107.1">だけ増やす</text>
<rect x="1928.5" y="3125.5" width="269.2" height="48" rx="4" fill="#ea2b1f" stroke="#bb2219" stroke-width="1"/>
<text x="1936.5" y="3155.1">変数</text>
<rect x="1976.5" y="3133.5" width="53.2" height="32" rx="4" fill="none" stroke="#c02319" stroke-width="1.2"/>
<text x="1984.5" y="3155.1">x2</text>
<path d="M2009.7,3146.5 h11 l-5.5,6.5 z" fill="#fff"/>
<text x="2037.7" y="3155.1">を</text>
<rect x="2061.7" y="3133.5" width="40" height="32" rx="16" fill="#fff"/>
<text x="2081.7" y="3155.1" text-anchor="middle" class="d">4</text>
<text x="2109.7" y="3155.1">だけ増やす</text>
<rect x="1928.5" y="3173.5" width="281.5" height="48" rx="4" fill="#ea2b1f" stroke="#bb2219" stroke-width="1"/>
<text x="1936.5" y="3203.1">変数</text>
<rect x="1976.5" y="3181.5" width="53.2" height="32" rx="4" fill="none" stroke="#c02319" stroke-width="1.2"/>
<text x="1984.5" y="3203.1">z2</text>
<path d="M2009.7,3194.5 h11 l-5.5,6.5 z" fill="#fff"/>
<text x="2037.7" y="3203.1">を</text>
<rect x="2061.7" y="3181.5" width="52.3" height="32" rx="16" fill="#fff"/>
<text x="2087.85" y="3203.1" text-anchor="middle" class="d">-14</text>
<text x="2122" y="3203.1">だけ増やす</text>
<rect x="1928.5" y="3221.5" width="468" height="208" rx="4" fill="#7abb55" stroke="#629644" stroke-width="1"/>
<text x="1936.5" y="3255.1">ブロックを並べる</text>
<rect x="2072.5" y="3229.5" width="140" height="40" rx="20" fill="#ea2b1f" stroke="#f1756d" stroke-width="1"/>
<text x="2084.5" y="3255.1">ブロック変数</text>
<path d="M2188.5,3246.5 h11 l-5.5,6.5 z" fill="#fff"/>
<text x="1936.5" y="3308.1">範囲の始まり</text>
<rect x="2040.5" y="3278.5" width="348" height="48" rx="24" fill="#69b090" stroke="#5a9c7e" stroke-width="1"/>
<text x="2052.5" y="3308.1">ワールド</text>
<rect x="2124.5" y="3282.5" width="63.2" height="40" rx="20" fill="#ea2b1f" stroke="#f1756d" stroke-width="1"/>
<text x="2136.5" y="3308.1">x1</text>
<path d="M2163.7,3299.5 h11 l-5.5,6.5 z" fill="#fff"/>
<rect x="2195.7" y="3282.5" width="117.6" height="40" rx="20" fill="#ea2b1f" stroke="#f1756d" stroke-width="1"/>
<text x="2207.7" y="3308.1">基準座標y</text>
<path d="M2289.3,3299.5 h11 l-5.5,6.5 z" fill="#fff"/>
<rect x="2321.3" y="3282.5" width="63.2" height="40" rx="20" fill="#ea2b1f" stroke="#f1756d" stroke-width="1"/>
<text x="2333.3" y="3308.1">z1</text>
<path d="M2360.5,3299.5 h11 l-5.5,6.5 z" fill="#fff"/>
<text x="1936.5" y="3362.1">範囲の終わり</text>
<rect x="2040.5" y="3332.5" width="348" height="48" rx="24" fill="#69b090" stroke="#5a9c7e" stroke-width="1"/>
<text x="2052.5" y="3362.1">ワールド</text>
<rect x="2124.5" y="3336.5" width="63.2" height="40" rx="20" fill="#ea2b1f" stroke="#f1756d" stroke-width="1"/>
<text x="2136.5" y="3362.1">x2</text>
<path d="M2163.7,3353.5 h11 l-5.5,6.5 z" fill="#fff"/>
<rect x="2195.7" y="3336.5" width="117.6" height="40" rx="20" fill="#ea2b1f" stroke="#f1756d" stroke-width="1"/>
<text x="2207.7" y="3362.1">基準座標y</text>
<path d="M2289.3,3353.5 h11 l-5.5,6.5 z" fill="#fff"/>
<rect x="2321.3" y="3336.5" width="63.2" height="40" rx="20" fill="#ea2b1f" stroke="#f1756d" stroke-width="1"/>
<text x="2333.3" y="3362.1">z2</text>
<path d="M2360.5,3353.5 h11 l-5.5,6.5 z" fill="#fff"/>
<text x="1936.5" y="3413.1">モード</text>
<rect x="1992.5" y="3391.5" width="194" height="32" rx="4" fill="none" stroke="#649946" stroke-width="1.2"/>
<text x="2000.5" y="3413.1">置き換え (replace)</text>
<path d="M2166.5,3404.5 h11 l-5.5,6.5 z" fill="#fff"/>
<path d="M3593.75,2706.25 c25,-22 71,-22 96,0 H3776.75 a4,4 0 0 1 4,4 V2750.25 a4,4 0 0 1 -4,4 H3613.75 a4,4 0 0 0 -4,4 V3444.25 a4,4 0 0 0 4,4 H3776.75 a4,4 0 0 1 4,4 V3476.25 a4,4 0 0 1 -4,4 H3597.75 a4,4 0 0 1 -4,-4 z" fill="#235591" stroke="#1c4474" stroke-width="1"/>
<text x="3601.75" y="2735.85">function</text>
<rect x="3686.55" y="2714.25" width="49.2" height="32" rx="2" fill="#fff"/>
<text x="3693.55" y="2735.85" class="d">床13</text>
<circle cx="3755.75" cy="2730.25" r="10.5" fill="none" stroke="#fff" stroke-width="2.2"/>
<path d="M3749.75,2733.25 l6,-6 l6,6" stroke="#fff" stroke-width="3" fill="none"/>
<path d="M3609.75,2758.25 a4,4 0 0 1 4,-4 H4040.35 a4,4 0 0 1 4,4 V2806.25 a4,4 0 0 1 -4,4 H3629.75 a4,4 0 0 0 -4,4 V2854.25 a4,4 0 0 0 4,4 H4040.35 a4,4 0 0 1 4,4 V2902.25 a4,4 0 0 1 -4,4 H3629.75 a4,4 0 0 0 -4,4 V2964.25 a4,4 0 0 0 4,4 H4040.35 a4,4 0 0 1 4,4 V2996.25 a4,4 0 0 1 -4,4 H3613.75 a4,4 0 0 1 -4,-4 z" fill="#4b969b" stroke="#3c787c" stroke-width="1"/>
<text x="3617.75" y="2787.85">もし</text>
<path d="M3657.75,2782.25 l24,-24 H3972.35 l24,24 l-24,24 H3681.75 z" fill="#4b969b" stroke="#8cc6ca" stroke-width="1.5"/>
<rect x="3683.25" y="2762.25" width="188" height="40" rx="20" fill="#ea2b1f" stroke="#f1756d" stroke-width="1"/>
<text x="3695.25" y="2787.85">追加削除制御フラグ</text>
<path d="M3847.25,2779.25 h11 l-5.5,6.5 z" fill="#fff"/>
<rect x="3879.25" y="2766.25" width="43.6" height="32" rx="4" fill="none" stroke="#3e7b7f" stroke-width="1.2"/>
<text x="3887.25" y="2787.85">=</text>
<path d="M3902.85,2779.25 h11 l-5.5,6.5 z" fill="#fff"/>
<rect x="3930.85" y="2766.25" width="40" height="32" rx="16" fill="#fff"/>
<text x="3950.85" y="2787.85" text-anchor="middle" class="d">1</text>
<text x="4004.35" y="2787.85">なら</text>
<rect x="3625.75" y="2810.25" width="407.6" height="48" rx="4" fill="#ea2b1f" stroke="#bb2219" stroke-width="1"/>
<text x="3633.75" y="2839.85">変数</text>
<rect x="3673.75" y="2818.25" width="130" height="32" rx="4" fill="none" stroke="#c02319" stroke-width="1.2"/>
<text x="3681.75" y="2839.85">ブロック変数</text>
<path d="M3783.75,2831.25 h11 l-5.5,6.5 z" fill="#fff"/>
<text x="3811.75" y="2839.85">を</text>
<rect x="3835.75" y="2814.25" width="133.6" height="40" rx="20" fill="#ea2b1f" stroke="#f1756d" stroke-width="1"/>
<text x="3847.75" y="2839.85">床ブロック1</text>
<path d="M3945.35,2831.25 h11 l-5.5,6.5 z" fill="#fff"/>
<text x="3977.35" y="2839.85">にする</text>
<text x="3617.75" y="2887.85">でなければ</text>
<circle cx="4024.35" cy="2882.25" r="10.5" fill="none" stroke="#fff" stroke-width="2.2"/>
<path d="M4018.35,2882.25 h12" stroke="#fff" stroke-width="3.6" fill="none"/>
<rect x="3625.75" y="2906.25" width="370" height="62" rx="4" fill="#ea2b1f" stroke="#bb2219" stroke-width="1"/>
<text x="3633.75" y="2942.85">変数</text>
<rect x="3673.75" y="2921.25" width="130" height="32" rx="4" fill="none" stroke="#c02319" stroke-width="1.2"/>
<text x="3681.75" y="2942.85">ブロック変数</text>
<path d="M3783.75,2934.25 h11 l-5.5,6.5 z" fill="#fff"/>
<text x="3811.75" y="2942.85">を</text>
<rect x="3835.75" y="2910.25" width="96" height="54" rx="27" fill="#7abb55" stroke="#689f48" stroke-width="1"/>
<rect x="3848.75" y="2910.75" width="70" height="53" fill="#73b050" opacity="0.5" stroke="#5f9242" stroke-width="1"/>
<path d="M3858.75,2929.25 l15,-8 l15,8 l-15,8 z" fill="#c4ecd6"/>
<path d="M3858.75,2929.25 l15,8 v17 l-15,-8 z" fill="#a4dcbe"/>
<path d="M3873.75,2937.25 l15,-8 v17 l-15,8 z" fill="#86c8a6"/>
<path d="M3901.75,2934.25 h11 l-5.5,6.5 z" fill="#fff"/>
<text x="3939.75" y="2942.85">にする</text>
<circle cx="3629.75" cy="2984.25" r="10.5" fill="none" stroke="#fff" stroke-width="2.2"/>
<path d="M3623.75,2984.25 h12 M3629.75,2978.25 v12" stroke="#fff" stroke-width="3.6" fill="none"/>
<rect x="3609.75" y="3000.25" width="248" height="48" rx="4" fill="#235591" stroke="#1c4474" stroke-width="1"/>
<text x="3617.75" y="3029.85">呼び出し</text>
<text x="3689.75" y="3029.85">基準座標を変数に設定</text>
<rect x="3609.75" y="3048.25" width="271.9" height="48" rx="4" fill="#ea2b1f" stroke="#bb2219" stroke-width="1"/>
<text x="3617.75" y="3077.85">変数</text>
<rect x="3657.75" y="3056.25" width="53.2" height="32" rx="4" fill="none" stroke="#c02319" stroke-width="1.2"/>
<text x="3665.75" y="3077.85">x1</text>
<path d="M3690.95,3069.25 h11 l-5.5,6.5 z" fill="#fff"/>
<text x="3718.95" y="3077.85">を</text>
<rect x="3742.95" y="3056.25" width="42.7" height="32" rx="16" fill="#fff"/>
<text x="3764.3" y="3077.85" text-anchor="middle" class="d">10</text>
<text x="3793.65" y="3077.85">だけ増やす</text>
<rect x="3609.75" y="3096.25" width="281.5" height="48" rx="4" fill="#ea2b1f" stroke="#bb2219" stroke-width="1"/>
<text x="3617.75" y="3125.85">変数</text>
<rect x="3657.75" y="3104.25" width="53.2" height="32" rx="4" fill="none" stroke="#c02319" stroke-width="1.2"/>
<text x="3665.75" y="3125.85">z1</text>
<path d="M3690.95,3117.25 h11 l-5.5,6.5 z" fill="#fff"/>
<text x="3718.95" y="3125.85">を</text>
<rect x="3742.95" y="3104.25" width="52.3" height="32" rx="16" fill="#fff"/>
<text x="3769.1" y="3125.85" text-anchor="middle" class="d">-10</text>
<text x="3803.25" y="3125.85">だけ増やす</text>
<rect x="3609.75" y="3144.25" width="271.9" height="48" rx="4" fill="#ea2b1f" stroke="#bb2219" stroke-width="1"/>
<text x="3617.75" y="3173.85">変数</text>
<rect x="3657.75" y="3152.25" width="53.2" height="32" rx="4" fill="none" stroke="#c02319" stroke-width="1.2"/>
<text x="3665.75" y="3173.85">x2</text>
<path d="M3690.95,3165.25 h11 l-5.5,6.5 z" fill="#fff"/>
<text x="3718.95" y="3173.85">を</text>
<rect x="3742.95" y="3152.25" width="42.7" height="32" rx="16" fill="#fff"/>
<text x="3764.3" y="3173.85" text-anchor="middle" class="d">14</text>
<text x="3793.65" y="3173.85">だけ増やす</text>
<rect x="3609.75" y="3192.25" width="281.5" height="48" rx="4" fill="#ea2b1f" stroke="#bb2219" stroke-width="1"/>
<text x="3617.75" y="3221.85">変数</text>
<rect x="3657.75" y="3200.25" width="53.2" height="32" rx="4" fill="none" stroke="#c02319" stroke-width="1.2"/>
<text x="3665.75" y="3221.85">z2</text>
<path d="M3690.95,3213.25 h11 l-5.5,6.5 z" fill="#fff"/>
<text x="3718.95" y="3221.85">を</text>
<rect x="3742.95" y="3200.25" width="52.3" height="32" rx="16" fill="#fff"/>
<text x="3769.1" y="3221.85" text-anchor="middle" class="d">-14</text>
<text x="3803.25" y="3221.85">だけ増やす</text>
<rect x="3609.75" y="3240.25" width="468" height="208" rx="4" fill="#7abb55" stroke="#629644" stroke-width="1"/>
<text x="3617.75" y="3273.85">ブロックを並べる</text>
<rect x="3753.75" y="3248.25" width="140" height="40" rx="20" fill="#ea2b1f" stroke="#f1756d" stroke-width="1"/>
<text x="3765.75" y="3273.85">ブロック変数</text>
<path d="M3869.75,3265.25 h11 l-5.5,6.5 z" fill="#fff"/>
<text x="3617.75" y="3326.85">範囲の始まり</text>
<rect x="3721.75" y="3297.25" width="348" height="48" rx="24" fill="#69b090" stroke="#5a9c7e" stroke-width="1"/>
<text x="3733.75" y="3326.85">ワールド</text>
<rect x="3805.75" y="3301.25" width="63.2" height="40" rx="20" fill="#ea2b1f" stroke="#f1756d" stroke-width="1"/>
<text x="3817.75" y="3326.85">x1</text>
<path d="M3844.95,3318.25 h11 l-5.5,6.5 z" fill="#fff"/>
<rect x="3876.95" y="3301.25" width="117.6" height="40" rx="20" fill="#ea2b1f" stroke="#f1756d" stroke-width="1"/>
<text x="3888.95" y="3326.85">基準座標y</text>
<path d="M3970.55,3318.25 h11 l-5.5,6.5 z" fill="#fff"/>
<rect x="4002.55" y="3301.25" width="63.2" height="40" rx="20" fill="#ea2b1f" stroke="#f1756d" stroke-width="1"/>
<text x="4014.55" y="3326.85">z1</text>
<path d="M4041.75,3318.25 h11 l-5.5,6.5 z" fill="#fff"/>
<text x="3617.75" y="3380.85">範囲の終わり</text>
<rect x="3721.75" y="3351.25" width="348" height="48" rx="24" fill="#69b090" stroke="#5a9c7e" stroke-width="1"/>
<text x="3733.75" y="3380.85">ワールド</text>
<rect x="3805.75" y="3355.25" width="63.2" height="40" rx="20" fill="#ea2b1f" stroke="#f1756d" stroke-width="1"/>
<text x="3817.75" y="3380.85">x2</text>
<path d="M3844.95,3372.25 h11 l-5.5,6.5 z" fill="#fff"/>
<rect x="3876.95" y="3355.25" width="117.6" height="40" rx="20" fill="#ea2b1f" stroke="#f1756d" stroke-width="1"/>
<text x="3888.95" y="3380.85">基準座標y</text>
<path d="M3970.55,3372.25 h11 l-5.5,6.5 z" fill="#fff"/>
<rect x="4002.55" y="3355.25" width="63.2" height="40" rx="20" fill="#ea2b1f" stroke="#f1756d" stroke-width="1"/>
<text x="4014.55" y="3380.85">z2</text>
<path d="M4041.75,3372.25 h11 l-5.5,6.5 z" fill="#fff"/>
<text x="3617.75" y="3431.85">モード</text>
<rect x="3673.75" y="3410.25" width="194" height="32" rx="4" fill="none" stroke="#649946" stroke-width="1.2"/>
<text x="3681.75" y="3431.85">置き換え (replace)</text>
<path d="M3847.75,3423.25 h11 l-5.5,6.5 z" fill="#fff"/>
<path d="M4193.75,2683.75 c25,-22 71,-22 96,0 H4376.75 a4,4 0 0 1 4,4 V2727.75 a4,4 0 0 1 -4,4 H4213.75 a4,4 0 0 0 -4,4 V3421.75 a4,4 0 0 0 4,4 H4376.75 a4,4 0 0 1 4,4 V3453.75 a4,4 0 0 1 -4,4 H4197.75 a4,4 0 0 1 -4,-4 z" fill="#235591" stroke="#1c4474" stroke-width="1"/>
<text x="4201.75" y="2713.35">function</text>
<rect x="4286.55" y="2691.75" width="49.2" height="32" rx="2" fill="#fff"/>
<text x="4293.55" y="2713.35" class="d">床14</text>
<circle cx="4355.75" cy="2707.75" r="10.5" fill="none" stroke="#fff" stroke-width="2.2"/>
<path d="M4349.75,2710.75 l6,-6 l6,6" stroke="#fff" stroke-width="3" fill="none"/>
<path d="M4209.75,2735.75 a4,4 0 0 1 4,-4 H4640.35 a4,4 0 0 1 4,4 V2783.75 a4,4 0 0 1 -4,4 H4229.75 a4,4 0 0 0 -4,4 V2831.75 a4,4 0 0 0 4,4 H4640.35 a4,4 0 0 1 4,4 V2879.75 a4,4 0 0 1 -4,4 H4229.75 a4,4 0 0 0 -4,4 V2941.75 a4,4 0 0 0 4,4 H4640.35 a4,4 0 0 1 4,4 V2973.75 a4,4 0 0 1 -4,4 H4213.75 a4,4 0 0 1 -4,-4 z" fill="#4b969b" stroke="#3c787c" stroke-width="1"/>
<text x="4217.75" y="2765.35">もし</text>
<path d="M4257.75,2759.75 l24,-24 H4572.35 l24,24 l-24,24 H4281.75 z" fill="#4b969b" stroke="#8cc6ca" stroke-width="1.5"/>
<rect x="4283.25" y="2739.75" width="188" height="40" rx="20" fill="#ea2b1f" stroke="#f1756d" stroke-width="1"/>
<text x="4295.25" y="2765.35">追加削除制御フラグ</text>
<path d="M4447.25,2756.75 h11 l-5.5,6.5 z" fill="#fff"/>
<rect x="4479.25" y="2743.75" width="43.6" height="32" rx="4" fill="none" stroke="#3e7b7f" stroke-width="1.2"/>
<text x="4487.25" y="2765.35">=</text>
<path d="M4502.85,2756.75 h11 l-5.5,6.5 z" fill="#fff"/>
<rect x="4530.85" y="2743.75" width="40" height="32" rx="16" fill="#fff"/>
<text x="4550.85" y="2765.35" text-anchor="middle" class="d">1</text>
<text x="4604.35" y="2765.35">なら</text>
<rect x="4225.75" y="2787.75" width="407.6" height="48" rx="4" fill="#ea2b1f" stroke="#bb2219" stroke-width="1"/>
<text x="4233.75" y="2817.35">変数</text>
<rect x="4273.75" y="2795.75" width="130" height="32" rx="4" fill="none" stroke="#c02319" stroke-width="1.2"/>
<text x="4281.75" y="2817.35">ブロック変数</text>
<path d="M4383.75,2808.75 h11 l-5.5,6.5 z" fill="#fff"/>
<text x="4411.75" y="2817.35">を</text>
<rect x="4435.75" y="2791.75" width="133.6" height="40" rx="20" fill="#ea2b1f" stroke="#f1756d" stroke-width="1"/>
<text x="4447.75" y="2817.35">床ブロック2</text>
<path d="M4545.35,2808.75 h11 l-5.5,6.5 z" fill="#fff"/>
<text x="4577.35" y="2817.35">にする</text>
<text x="4217.75" y="2865.35">でなければ</text>
<circle cx="4624.35" cy="2859.75" r="10.5" fill="none" stroke="#fff" stroke-width="2.2"/>
<path d="M4618.35,2859.75 h12" stroke="#fff" stroke-width="3.6" fill="none"/>
<rect x="4225.75" y="2883.75" width="370" height="62" rx="4" fill="#ea2b1f" stroke="#bb2219" stroke-width="1"/>
<text x="4233.75" y="2920.35">変数</text>
<rect x="4273.75" y="2898.75" width="130" height="32" rx="4" fill="none" stroke="#c02319" stroke-width="1.2"/>
<text x="4281.75" y="2920.35">ブロック変数</text>
<path d="M4383.75,2911.75 h11 l-5.5,6.5 z" fill="#fff"/>
<text x="4411.75" y="2920.35">を</text>
<rect x="4435.75" y="2887.75" width="96" height="54" rx="27" fill="#7abb55" stroke="#689f48" stroke-width="1"/>
<rect x="4448.75" y="2888.25" width="70" height="53" fill="#73b050" opacity="0.5" stroke="#5f9242" stroke-width="1"/>
<path d="M4458.75,2906.75 l15,-8 l15,8 l-15,8 z" fill="#c4ecd6"/>
<path d="M4458.75,2906.75 l15,8 v17 l-15,-8 z" fill="#a4dcbe"/>
<path d="M4473.75,2914.75 l15,-8 v17 l-15,8 z" fill="#86c8a6"/>
<path d="M4501.75,2911.75 h11 l-5.5,6.5 z" fill="#fff"/>
<text x="4539.75" y="2920.35">にする</text>
<circle cx="4229.75" cy="2961.75" r="10.5" fill="none" stroke="#fff" stroke-width="2.2"/>
<path d="M4223.75,2961.75 h12 M4229.75,2955.75 v12" stroke="#fff" stroke-width="3.6" fill="none"/>
<rect x="4209.75" y="2977.75" width="248" height="48" rx="4" fill="#235591" stroke="#1c4474" stroke-width="1"/>
<text x="4217.75" y="3007.35">呼び出し</text>
<text x="4289.75" y="3007.35">基準座標を変数に設定</text>
<rect x="4209.75" y="3025.75" width="271.9" height="48" rx="4" fill="#ea2b1f" stroke="#bb2219" stroke-width="1"/>
<text x="4217.75" y="3055.35">変数</text>
<rect x="4257.75" y="3033.75" width="53.2" height="32" rx="4" fill="none" stroke="#c02319" stroke-width="1.2"/>
<text x="4265.75" y="3055.35">x1</text>
<path d="M4290.95,3046.75 h11 l-5.5,6.5 z" fill="#fff"/>
<text x="4318.95" y="3055.35">を</text>
<rect x="4342.95" y="3033.75" width="42.7" height="32" rx="16" fill="#fff"/>
<text x="4364.3" y="3055.35" text-anchor="middle" class="d">15</text>
<text x="4393.65" y="3055.35">だけ増やす</text>
<rect x="4209.75" y="3073.75" width="281.5" height="48" rx="4" fill="#ea2b1f" stroke="#bb2219" stroke-width="1"/>
<text x="4217.75" y="3103.35">変数</text>
<rect x="4257.75" y="3081.75" width="53.2" height="32" rx="4" fill="none" stroke="#c02319" stroke-width="1.2"/>
<text x="4265.75" y="3103.35">z1</text>
<path d="M4290.95,3094.75 h11 l-5.5,6.5 z" fill="#fff"/>
<text x="4318.95" y="3103.35">を</text>
<rect x="4342.95" y="3081.75" width="52.3" height="32" rx="16" fill="#fff"/>
<text x="4369.1" y="3103.35" text-anchor="middle" class="d">-10</text>
<text x="4403.25" y="3103.35">だけ増やす</text>
<rect x="4209.75" y="3121.75" width="271.9" height="48" rx="4" fill="#ea2b1f" stroke="#bb2219" stroke-width="1"/>
<text x="4217.75" y="3151.35">変数</text>
<rect x="4257.75" y="3129.75" width="53.2" height="32" rx="4" fill="none" stroke="#c02319" stroke-width="1.2"/>
<text x="4265.75" y="3151.35">x2</text>
<path d="M4290.95,3142.75 h11 l-5.5,6.5 z" fill="#fff"/>
<text x="4318.95" y="3151.35">を</text>
<rect x="4342.95" y="3129.75" width="42.7" height="32" rx="16" fill="#fff"/>
<text x="4364.3" y="3151.35" text-anchor="middle" class="d">19</text>
<text x="4393.65" y="3151.35">だけ増やす</text>
<rect x="4209.75" y="3169.75" width="281.5" height="48" rx="4" fill="#ea2b1f" stroke="#bb2219" stroke-width="1"/>
<text x="4217.75" y="3199.35">変数</text>
<rect x="4257.75" y="3177.75" width="53.2" height="32" rx="4" fill="none" stroke="#c02319" stroke-width="1.2"/>
<text x="4265.75" y="3199.35">z2</text>
<path d="M4290.95,3190.75 h11 l-5.5,6.5 z" fill="#fff"/>
<text x="4318.95" y="3199.35">を</text>
<rect x="4342.95" y="3177.75" width="52.3" height="32" rx="16" fill="#fff"/>
<text x="4369.1" y="3199.35" text-anchor="middle" class="d">-14</text>
<text x="4403.25" y="3199.35">だけ増やす</text>
<rect x="4209.75" y="3217.75" width="468" height="208" rx="4" fill="#7abb55" stroke="#629644" stroke-width="1"/>
<text x="4217.75" y="3251.35">ブロックを並べる</text>
<rect x="4353.75" y="3225.75" width="140" height="40" rx="20" fill="#ea2b1f" stroke="#f1756d" stroke-width="1"/>
<text x="4365.75" y="3251.35">ブロック変数</text>
<path d="M4469.75,3242.75 h11 l-5.5,6.5 z" fill="#fff"/>
<text x="4217.75" y="3304.35">範囲の始まり</text>
<rect x="4321.75" y="3274.75" width="348" height="48" rx="24" fill="#69b090" stroke="#5a9c7e" stroke-width="1"/>
<text x="4333.75" y="3304.35">ワールド</text>
<rect x="4405.75" y="3278.75" width="63.2" height="40" rx="20" fill="#ea2b1f" stroke="#f1756d" stroke-width="1"/>
<text x="4417.75" y="3304.35">x1</text>
<path d="M4444.95,3295.75 h11 l-5.5,6.5 z" fill="#fff"/>
<rect x="4476.95" y="3278.75" width="117.6" height="40" rx="20" fill="#ea2b1f" stroke="#f1756d" stroke-width="1"/>
<text x="4488.95" y="3304.35">基準座標y</text>
<path d="M4570.55,3295.75 h11 l-5.5,6.5 z" fill="#fff"/>
<rect x="4602.55" y="3278.75" width="63.2" height="40" rx="20" fill="#ea2b1f" stroke="#f1756d" stroke-width="1"/>
<text x="4614.55" y="3304.35">z1</text>
<path d="M4641.75,3295.75 h11 l-5.5,6.5 z" fill="#fff"/>
<text x="4217.75" y="3358.35">範囲の終わり</text>
<rect x="4321.75" y="3328.75" width="348" height="48" rx="24" fill="#69b090" stroke="#5a9c7e" stroke-width="1"/>
<text x="4333.75" y="3358.35">ワールド</text>
<rect x="4405.75" y="3332.75" width="63.2" height="40" rx="20" fill="#ea2b1f" stroke="#f1756d" stroke-width="1"/>
<text x="4417.75" y="3358.35">x2</text>
<path d="M4444.95,3349.75 h11 l-5.5,6.5 z" fill="#fff"/>
<rect x="4476.95" y="3332.75" width="117.6" height="40" rx="20" fill="#ea2b1f" stroke="#f1756d" stroke-width="1"/>
<text x="4488.95" y="3358.35">基準座標y</text>
<path d="M4570.55,3349.75 h11 l-5.5,6.5 z" fill="#fff"/>
<rect x="4602.55" y="3332.75" width="63.2" height="40" rx="20" fill="#ea2b1f" stroke="#f1756d" stroke-width="1"/>
<text x="4614.55" y="3358.35">z2</text>
<path d="M4641.75,3349.75 h11 l-5.5,6.5 z" fill="#fff"/>
<text x="4217.75" y="3409.35">モード</text>
<rect x="4273.75" y="3387.75" width="194" height="32" rx="4" fill="none" stroke="#649946" stroke-width="1.2"/>
<text x="4281.75" y="3409.35">置き換え (replace)</text>
<path d="M4447.75,3400.75 h11 l-5.5,6.5 z" fill="#fff"/>
<path d="M1068.5,541.9 c2,0 3,1 4,2 l4,4 c1,1 2,2 4,2 h12 c2,0 3,-1 4,-2 l4,-4 c1,-1 2,-2 4,-2 z" fill="#0078d7"/>
<path d="M1068.5,747.9 c2,0 3,1 4,2 l4,4 c1,1 2,2 4,2 h12 c2,0 3,-1 4,-2 l4,-4 c1,-1 2,-2 4,-2 z" fill="#7abb55"/>
<path d="M1109.75,850.4 c2,0 3,1 4,2 l4,4 c1,1 2,2 4,2 h12 c2,0 3,-1 4,-2 l4,-4 c1,-1 2,-2 4,-2 z" fill="#0078d7"/>
<path d="M1109.75,978.4 c2,0 3,1 4,2 l4,4 c1,1 2,2 4,2 h12 c2,0 3,-1 4,-2 l4,-4 c1,-1 2,-2 4,-2 z" fill="#8f6d40"/>
<path d="M1036.25,1146.15 c2,0 3,1 4,2 l4,4 c1,1 2,2 4,2 h12 c2,0 3,-1 4,-2 l4,-4 c1,-1 2,-2 4,-2 z" fill="#235591"/>
<path d="M1052.25,1202.15 c2,0 3,1 4,2 l4,4 c1,1 2,2 4,2 h12 c2,0 3,-1 4,-2 l4,-4 c1,-1 2,-2 4,-2 z" fill="#4b969b"/>
<path d="M1052.25,1250.15 c2,0 3,1 4,2 l4,4 c1,1 2,2 4,2 h12 c2,0 3,-1 4,-2 l4,-4 c1,-1 2,-2 4,-2 z" fill="#235591"/>
<path d="M1052.25,1306.15 c2,0 3,1 4,2 l4,4 c1,1 2,2 4,2 h12 c2,0 3,-1 4,-2 l4,-4 c1,-1 2,-2 4,-2 z" fill="#4b969b"/>
<path d="M1052.25,1354.15 c2,0 3,1 4,2 l4,4 c1,1 2,2 4,2 h12 c2,0 3,-1 4,-2 l4,-4 c1,-1 2,-2 4,-2 z" fill="#235591"/>
<path d="M1052.25,1410.15 c2,0 3,1 4,2 l4,4 c1,1 2,2 4,2 h12 c2,0 3,-1 4,-2 l4,-4 c1,-1 2,-2 4,-2 z" fill="#4b969b"/>
<path d="M1052.25,1458.15 c2,0 3,1 4,2 l4,4 c1,1 2,2 4,2 h12 c2,0 3,-1 4,-2 l4,-4 c1,-1 2,-2 4,-2 z" fill="#235591"/>
<path d="M1052.25,1514.15 c2,0 3,1 4,2 l4,4 c1,1 2,2 4,2 h12 c2,0 3,-1 4,-2 l4,-4 c1,-1 2,-2 4,-2 z" fill="#4b969b"/>
<path d="M1052.25,1562.15 c2,0 3,1 4,2 l4,4 c1,1 2,2 4,2 h12 c2,0 3,-1 4,-2 l4,-4 c1,-1 2,-2 4,-2 z" fill="#235591"/>
<path d="M1052.25,1618.15 c2,0 3,1 4,2 l4,4 c1,1 2,2 4,2 h12 c2,0 3,-1 4,-2 l4,-4 c1,-1 2,-2 4,-2 z" fill="#4b969b"/>
<path d="M1052.25,1666.15 c2,0 3,1 4,2 l4,4 c1,1 2,2 4,2 h12 c2,0 3,-1 4,-2 l4,-4 c1,-1 2,-2 4,-2 z" fill="#235591"/>
<path d="M1052.25,1722.15 c2,0 3,1 4,2 l4,4 c1,1 2,2 4,2 h12 c2,0 3,-1 4,-2 l4,-4 c1,-1 2,-2 4,-2 z" fill="#4b969b"/>
<path d="M1052.25,1770.15 c2,0 3,1 4,2 l4,4 c1,1 2,2 4,2 h12 c2,0 3,-1 4,-2 l4,-4 c1,-1 2,-2 4,-2 z" fill="#235591"/>
<path d="M1052.25,1826.15 c2,0 3,1 4,2 l4,4 c1,1 2,2 4,2 h12 c2,0 3,-1 4,-2 l4,-4 c1,-1 2,-2 4,-2 z" fill="#4b969b"/>
<path d="M1052.25,1874.15 c2,0 3,1 4,2 l4,4 c1,1 2,2 4,2 h12 c2,0 3,-1 4,-2 l4,-4 c1,-1 2,-2 4,-2 z" fill="#235591"/>
<path d="M1052.25,1930.15 c2,0 3,1 4,2 l4,4 c1,1 2,2 4,2 h12 c2,0 3,-1 4,-2 l4,-4 c1,-1 2,-2 4,-2 z" fill="#4b969b"/>
<path d="M1052.25,1978.15 c2,0 3,1 4,2 l4,4 c1,1 2,2 4,2 h12 c2,0 3,-1 4,-2 l4,-4 c1,-1 2,-2 4,-2 z" fill="#235591"/>
<path d="M1052.25,2034.15 c2,0 3,1 4,2 l4,4 c1,1 2,2 4,2 h12 c2,0 3,-1 4,-2 l4,-4 c1,-1 2,-2 4,-2 z" fill="#4b969b"/>
<path d="M1052.25,2082.15 c2,0 3,1 4,2 l4,4 c1,1 2,2 4,2 h12 c2,0 3,-1 4,-2 l4,-4 c1,-1 2,-2 4,-2 z" fill="#235591"/>
<path d="M1052.25,2138.15 c2,0 3,1 4,2 l4,4 c1,1 2,2 4,2 h12 c2,0 3,-1 4,-2 l4,-4 c1,-1 2,-2 4,-2 z" fill="#4b969b"/>
<path d="M1052.25,2186.15 c2,0 3,1 4,2 l4,4 c1,1 2,2 4,2 h12 c2,0 3,-1 4,-2 l4,-4 c1,-1 2,-2 4,-2 z" fill="#235591"/>
<path d="M1052.25,2242.15 c2,0 3,1 4,2 l4,4 c1,1 2,2 4,2 h12 c2,0 3,-1 4,-2 l4,-4 c1,-1 2,-2 4,-2 z" fill="#4b969b"/>
<path d="M1052.25,2290.15 c2,0 3,1 4,2 l4,4 c1,1 2,2 4,2 h12 c2,0 3,-1 4,-2 l4,-4 c1,-1 2,-2 4,-2 z" fill="#235591"/>
<path d="M1052.25,2346.15 c2,0 3,1 4,2 l4,4 c1,1 2,2 4,2 h12 c2,0 3,-1 4,-2 l4,-4 c1,-1 2,-2 4,-2 z" fill="#4b969b"/>
<path d="M1052.25,2394.15 c2,0 3,1 4,2 l4,4 c1,1 2,2 4,2 h12 c2,0 3,-1 4,-2 l4,-4 c1,-1 2,-2 4,-2 z" fill="#235591"/>
<path d="M1052.25,2450.15 c2,0 3,1 4,2 l4,4 c1,1 2,2 4,2 h12 c2,0 3,-1 4,-2 l4,-4 c1,-1 2,-2 4,-2 z" fill="#4b969b"/>
<path d="M1052.25,2498.15 c2,0 3,1 4,2 l4,4 c1,1 2,2 4,2 h12 c2,0 3,-1 4,-2 l4,-4 c1,-1 2,-2 4,-2 z" fill="#235591"/>
<path d="M1052.25,2554.15 c2,0 3,1 4,2 l4,4 c1,1 2,2 4,2 h12 c2,0 3,-1 4,-2 l4,-4 c1,-1 2,-2 4,-2 z" fill="#4b969b"/>
<path d="M1052.25,2602.15 c2,0 3,1 4,2 l4,4 c1,1 2,2 4,2 h12 c2,0 3,-1 4,-2 l4,-4 c1,-1 2,-2 4,-2 z" fill="#235591"/>
<path d="M1052.25,2658.15 c2,0 3,1 4,2 l4,4 c1,1 2,2 4,2 h12 c2,0 3,-1 4,-2 l4,-4 c1,-1 2,-2 4,-2 z" fill="#4b969b"/>
<path d="M1052.25,2706.15 c2,0 3,1 4,2 l4,4 c1,1 2,2 4,2 h12 c2,0 3,-1 4,-2 l4,-4 c1,-1 2,-2 4,-2 z" fill="#235591"/>
<path d="M1052.25,2762.15 c2,0 3,1 4,2 l4,4 c1,1 2,2 4,2 h12 c2,0 3,-1 4,-2 l4,-4 c1,-1 2,-2 4,-2 z" fill="#4b969b"/>
<path d="M1052.25,2810.15 c2,0 3,1 4,2 l4,4 c1,1 2,2 4,2 h12 c2,0 3,-1 4,-2 l4,-4 c1,-1 2,-2 4,-2 z" fill="#235591"/>
<path d="M1052.25,2866.15 c2,0 3,1 4,2 l4,4 c1,1 2,2 4,2 h12 c2,0 3,-1 4,-2 l4,-4 c1,-1 2,-2 4,-2 z" fill="#4b969b"/>
<path d="M1052.25,2914.15 c2,0 3,1 4,2 l4,4 c1,1 2,2 4,2 h12 c2,0 3,-1 4,-2 l4,-4 c1,-1 2,-2 4,-2 z" fill="#235591"/>
<path d="M1052.25,2970.15 c2,0 3,1 4,2 l4,4 c1,1 2,2 4,2 h12 c2,0 3,-1 4,-2 l4,-4 c1,-1 2,-2 4,-2 z" fill="#4b969b"/>
<path d="M1052.25,3018.15 c2,0 3,1 4,2 l4,4 c1,1 2,2 4,2 h12 c2,0 3,-1 4,-2 l4,-4 c1,-1 2,-2 4,-2 z" fill="#235591"/>
<path d="M1052.25,3074.15 c2,0 3,1 4,2 l4,4 c1,1 2,2 4,2 h12 c2,0 3,-1 4,-2 l4,-4 c1,-1 2,-2 4,-2 z" fill="#4b969b"/>
<path d="M1052.25,3122.15 c2,0 3,1 4,2 l4,4 c1,1 2,2 4,2 h12 c2,0 3,-1 4,-2 l4,-4 c1,-1 2,-2 4,-2 z" fill="#235591"/>
<path d="M1052.25,3178.15 c2,0 3,1 4,2 l4,4 c1,1 2,2 4,2 h12 c2,0 3,-1 4,-2 l4,-4 c1,-1 2,-2 4,-2 z" fill="#4b969b"/>
<path d="M1052.25,3226.15 c2,0 3,1 4,2 l4,4 c1,1 2,2 4,2 h12 c2,0 3,-1 4,-2 l4,-4 c1,-1 2,-2 4,-2 z" fill="#235591"/>
<path d="M1052.25,3282.15 c2,0 3,1 4,2 l4,4 c1,1 2,2 4,2 h12 c2,0 3,-1 4,-2 l4,-4 c1,-1 2,-2 4,-2 z" fill="#4b969b"/>
<path d="M1052.25,3330.15 c2,0 3,1 4,2 l4,4 c1,1 2,2 4,2 h12 c2,0 3,-1 4,-2 l4,-4 c1,-1 2,-2 4,-2 z" fill="#235591"/>
<path d="M1052.25,3386.15 c2,0 3,1 4,2 l4,4 c1,1 2,2 4,2 h12 c2,0 3,-1 4,-2 l4,-4 c1,-1 2,-2 4,-2 z" fill="#4b969b"/>
<path d="M1052.25,3434.15 c2,0 3,1 4,2 l4,4 c1,1 2,2 4,2 h12 c2,0 3,-1 4,-2 l4,-4 c1,-1 2,-2 4,-2 z" fill="#235591"/>
<path d="M1052.25,3490.15 c2,0 3,1 4,2 l4,4 c1,1 2,2 4,2 h12 c2,0 3,-1 4,-2 l4,-4 c1,-1 2,-2 4,-2 z" fill="#4b969b"/>
<path d="M1052.25,3538.15 c2,0 3,1 4,2 l4,4 c1,1 2,2 4,2 h12 c2,0 3,-1 4,-2 l4,-4 c1,-1 2,-2 4,-2 z" fill="#235591"/>
<path d="M1052.25,3594.15 c2,0 3,1 4,2 l4,4 c1,1 2,2 4,2 h12 c2,0 3,-1 4,-2 l4,-4 c1,-1 2,-2 4,-2 z" fill="#4b969b"/>
<path d="M1052.25,3642.15 c2,0 3,1 4,2 l4,4 c1,1 2,2 4,2 h12 c2,0 3,-1 4,-2 l4,-4 c1,-1 2,-2 4,-2 z" fill="#235591"/>
<path d="M1052.25,3698.15 c2,0 3,1 4,2 l4,4 c1,1 2,2 4,2 h12 c2,0 3,-1 4,-2 l4,-4 c1,-1 2,-2 4,-2 z" fill="#4b969b"/>
<path d="M1052.25,3746.15 c2,0 3,1 4,2 l4,4 c1,1 2,2 4,2 h12 c2,0 3,-1 4,-2 l4,-4 c1,-1 2,-2 4,-2 z" fill="#235591"/>
<path d="M1036.25,3778.15 c2,0 3,1 4,2 l4,4 c1,1 2,2 4,2 h12 c2,0 3,-1 4,-2 l4,-4 c1,-1 2,-2 4,-2 z" fill="#4b969b"/>
<path d="M1568,705.15 c2,0 3,1 4,2 l4,4 c1,1 2,2 4,2 h12 c2,0 3,-1 4,-2 l4,-4 c1,-1 2,-2 4,-2 z" fill="#0078d7"/>
<path d="M1568,753.15 c2,0 3,1 4,2 l4,4 c1,1 2,2 4,2 h12 c2,0 3,-1 4,-2 l4,-4 c1,-1 2,-2 4,-2 z" fill="#0078d7"/>
<path d="M1568,801.15 c2,0 3,1 4,2 l4,4 c1,1 2,2 4,2 h12 c2,0 3,-1 4,-2 l4,-4 c1,-1 2,-2 4,-2 z" fill="#0078d7"/>
<path d="M1568,849.15 c2,0 3,1 4,2 l4,4 c1,1 2,2 4,2 h12 c2,0 3,-1 4,-2 l4,-4 c1,-1 2,-2 4,-2 z" fill="#0078d7"/>
<path d="M1568,897.15 c2,0 3,1 4,2 l4,4 c1,1 2,2 4,2 h12 c2,0 3,-1 4,-2 l4,-4 c1,-1 2,-2 4,-2 z" fill="#0078d7"/>
<path d="M1568,945.15 c2,0 3,1 4,2 l4,4 c1,1 2,2 4,2 h12 c2,0 3,-1 4,-2 l4,-4 c1,-1 2,-2 4,-2 z" fill="#ea2b1f"/>
<path d="M1584,993.15 c2,0 3,1 4,2 l4,4 c1,1 2,2 4,2 h12 c2,0 3,-1 4,-2 l4,-4 c1,-1 2,-2 4,-2 z" fill="#569138"/>
<path d="M1584,1041.15 c2,0 3,1 4,2 l4,4 c1,1 2,2 4,2 h12 c2,0 3,-1 4,-2 l4,-4 c1,-1 2,-2 4,-2 z" fill="#ea2b1f"/>
<path d="M1584,1089.15 c2,0 3,1 4,2 l4,4 c1,1 2,2 4,2 h12 c2,0 3,-1 4,-2 l4,-4 c1,-1 2,-2 4,-2 z" fill="#ea2b1f"/>
<path d="M1600,1145.15 c2,0 3,1 4,2 l4,4 c1,1 2,2 4,2 h12 c2,0 3,-1 4,-2 l4,-4 c1,-1 2,-2 4,-2 z" fill="#569138"/>
<path d="M1616,1209.15 c2,0 3,1 4,2 l4,4 c1,1 2,2 4,2 h12 c2,0 3,-1 4,-2 l4,-4 c1,-1 2,-2 4,-2 z" fill="#4b969b"/>
<path d="M1616,1257.15 c2,0 3,1 4,2 l4,4 c1,1 2,2 4,2 h12 c2,0 3,-1 4,-2 l4,-4 c1,-1 2,-2 4,-2 z" fill="#ea2b1f"/>
<path d="M1616,1305.15 c2,0 3,1 4,2 l4,4 c1,1 2,2 4,2 h12 c2,0 3,-1 4,-2 l4,-4 c1,-1 2,-2 4,-2 z" fill="#4b969b"/>
<path d="M1616,1353.15 c2,0 3,1 4,2 l4,4 c1,1 2,2 4,2 h12 c2,0 3,-1 4,-2 l4,-4 c1,-1 2,-2 4,-2 z" fill="#ea2b1f"/>
<path d="M1600,1385.15 c2,0 3,1 4,2 l4,4 c1,1 2,2 4,2 h12 c2,0 3,-1 4,-2 l4,-4 c1,-1 2,-2 4,-2 z" fill="#4b969b"/>
<path d="M1584,1417.15 c2,0 3,1 4,2 l4,4 c1,1 2,2 4,2 h12 c2,0 3,-1 4,-2 l4,-4 c1,-1 2,-2 4,-2 z" fill="#569138"/>
<path d="M1584,1465.15 c2,0 3,1 4,2 l4,4 c1,1 2,2 4,2 h12 c2,0 3,-1 4,-2 l4,-4 c1,-1 2,-2 4,-2 z" fill="#a94400"/>
<path d="M1584,1513.15 c2,0 3,1 4,2 l4,4 c1,1 2,2 4,2 h12 c2,0 3,-1 4,-2 l4,-4 c1,-1 2,-2 4,-2 z" fill="#ea2b1f"/>
<path d="M1584,1561.15 c2,0 3,1 4,2 l4,4 c1,1 2,2 4,2 h12 c2,0 3,-1 4,-2 l4,-4 c1,-1 2,-2 4,-2 z" fill="#235591"/>
<path d="M1584,1609.15 c2,0 3,1 4,2 l4,4 c1,1 2,2 4,2 h12 c2,0 3,-1 4,-2 l4,-4 c1,-1 2,-2 4,-2 z" fill="#569138"/>
<path d="M1568,1641.15 c2,0 3,1 4,2 l4,4 c1,1 2,2 4,2 h12 c2,0 3,-1 4,-2 l4,-4 c1,-1 2,-2 4,-2 z" fill="#569138"/>
<path d="M1612.75,1778.15 c2,0 3,1 4,2 l4,4 c1,1 2,2 4,2 h12 c2,0 3,-1 4,-2 l4,-4 c1,-1 2,-2 4,-2 z" fill="#235591"/>
<path d="M1612.75,1840.15 c2,0 3,1 4,2 l4,4 c1,1 2,2 4,2 h12 c2,0 3,-1 4,-2 l4,-4 c1,-1 2,-2 4,-2 z" fill="#ea2b1f"/>
<path d="M1612.75,1902.15 c2,0 3,1 4,2 l4,4 c1,1 2,2 4,2 h12 c2,0 3,-1 4,-2 l4,-4 c1,-1 2,-2 4,-2 z" fill="#ea2b1f"/>
<path d="M1612.75,1950.15 c2,0 3,1 4,2 l4,4 c1,1 2,2 4,2 h12 c2,0 3,-1 4,-2 l4,-4 c1,-1 2,-2 4,-2 z" fill="#ea2b1f"/>
<path d="M1612.75,1998.15 c2,0 3,1 4,2 l4,4 c1,1 2,2 4,2 h12 c2,0 3,-1 4,-2 l4,-4 c1,-1 2,-2 4,-2 z" fill="#235591"/>
<path d="M1612.75,2046.15 c2,0 3,1 4,2 l4,4 c1,1 2,2 4,2 h12 c2,0 3,-1 4,-2 l4,-4 c1,-1 2,-2 4,-2 z" fill="#235591"/>
<path d="M1612.75,2094.15 c2,0 3,1 4,2 l4,4 c1,1 2,2 4,2 h12 c2,0 3,-1 4,-2 l4,-4 c1,-1 2,-2 4,-2 z" fill="#235591"/>
<path d="M1612.75,2142.15 c2,0 3,1 4,2 l4,4 c1,1 2,2 4,2 h12 c2,0 3,-1 4,-2 l4,-4 c1,-1 2,-2 4,-2 z" fill="#235591"/>
<path d="M1612.75,2190.15 c2,0 3,1 4,2 l4,4 c1,1 2,2 4,2 h12 c2,0 3,-1 4,-2 l4,-4 c1,-1 2,-2 4,-2 z" fill="#235591"/>
<path d="M1612.75,2238.15 c2,0 3,1 4,2 l4,4 c1,1 2,2 4,2 h12 c2,0 3,-1 4,-2 l4,-4 c1,-1 2,-2 4,-2 z" fill="#235591"/>
<path d="M1612.75,2286.15 c2,0 3,1 4,2 l4,4 c1,1 2,2 4,2 h12 c2,0 3,-1 4,-2 l4,-4 c1,-1 2,-2 4,-2 z" fill="#235591"/>
<path d="M1612.75,2334.15 c2,0 3,1 4,2 l4,4 c1,1 2,2 4,2 h12 c2,0 3,-1 4,-2 l4,-4 c1,-1 2,-2 4,-2 z" fill="#235591"/>
<path d="M1612.75,2382.15 c2,0 3,1 4,2 l4,4 c1,1 2,2 4,2 h12 c2,0 3,-1 4,-2 l4,-4 c1,-1 2,-2 4,-2 z" fill="#235591"/>
<path d="M1612.75,2430.15 c2,0 3,1 4,2 l4,4 c1,1 2,2 4,2 h12 c2,0 3,-1 4,-2 l4,-4 c1,-1 2,-2 4,-2 z" fill="#235591"/>
<path d="M1612.75,2478.15 c2,0 3,1 4,2 l4,4 c1,1 2,2 4,2 h12 c2,0 3,-1 4,-2 l4,-4 c1,-1 2,-2 4,-2 z" fill="#235591"/>
<path d="M1612.75,2526.15 c2,0 3,1 4,2 l4,4 c1,1 2,2 4,2 h12 c2,0 3,-1 4,-2 l4,-4 c1,-1 2,-2 4,-2 z" fill="#235591"/>
<path d="M1612.75,2574.15 c2,0 3,1 4,2 l4,4 c1,1 2,2 4,2 h12 c2,0 3,-1 4,-2 l4,-4 c1,-1 2,-2 4,-2 z" fill="#235591"/>
<path d="M1612.75,2622.15 c2,0 3,1 4,2 l4,4 c1,1 2,2 4,2 h12 c2,0 3,-1 4,-2 l4,-4 c1,-1 2,-2 4,-2 z" fill="#235591"/>
<path d="M1612.75,2670.15 c2,0 3,1 4,2 l4,4 c1,1 2,2 4,2 h12 c2,0 3,-1 4,-2 l4,-4 c1,-1 2,-2 4,-2 z" fill="#235591"/>
<path d="M1612.75,2718.15 c2,0 3,1 4,2 l4,4 c1,1 2,2 4,2 h12 c2,0 3,-1 4,-2 l4,-4 c1,-1 2,-2 4,-2 z" fill="#235591"/>
<path d="M1612.75,2766.15 c2,0 3,1 4,2 l4,4 c1,1 2,2 4,2 h12 c2,0 3,-1 4,-2 l4,-4 c1,-1 2,-2 4,-2 z" fill="#235591"/>
<path d="M1612.75,2814.15 c2,0 3,1 4,2 l4,4 c1,1 2,2 4,2 h12 c2,0 3,-1 4,-2 l4,-4 c1,-1 2,-2 4,-2 z" fill="#235591"/>
<path d="M1612.75,2862.15 c2,0 3,1 4,2 l4,4 c1,1 2,2 4,2 h12 c2,0 3,-1 4,-2 l4,-4 c1,-1 2,-2 4,-2 z" fill="#235591"/>
<path d="M1612.75,2910.15 c2,0 3,1 4,2 l4,4 c1,1 2,2 4,2 h12 c2,0 3,-1 4,-2 l4,-4 c1,-1 2,-2 4,-2 z" fill="#235591"/>
<path d="M1612.75,2958.15 c2,0 3,1 4,2 l4,4 c1,1 2,2 4,2 h12 c2,0 3,-1 4,-2 l4,-4 c1,-1 2,-2 4,-2 z" fill="#235591"/>
<path d="M1612.75,3006.15 c2,0 3,1 4,2 l4,4 c1,1 2,2 4,2 h12 c2,0 3,-1 4,-2 l4,-4 c1,-1 2,-2 4,-2 z" fill="#235591"/>
<path d="M1612.75,3054.15 c2,0 3,1 4,2 l4,4 c1,1 2,2 4,2 h12 c2,0 3,-1 4,-2 l4,-4 c1,-1 2,-2 4,-2 z" fill="#235591"/>
<path d="M1612.75,3102.15 c2,0 3,1 4,2 l4,4 c1,1 2,2 4,2 h12 c2,0 3,-1 4,-2 l4,-4 c1,-1 2,-2 4,-2 z" fill="#235591"/>
<path d="M1612.75,3150.15 c2,0 3,1 4,2 l4,4 c1,1 2,2 4,2 h12 c2,0 3,-1 4,-2 l4,-4 c1,-1 2,-2 4,-2 z" fill="#235591"/>
<path d="M2653.5,530.9 c2,0 3,1 4,2 l4,4 c1,1 2,2 4,2 h12 c2,0 3,-1 4,-2 l4,-4 c1,-1 2,-2 4,-2 z" fill="#0078d7"/>
<path d="M2653.5,578.9 c2,0 3,1 4,2 l4,4 c1,1 2,2 4,2 h12 c2,0 3,-1 4,-2 l4,-4 c1,-1 2,-2 4,-2 z" fill="#ea2b1f"/>
<path d="M2653.5,626.9 c2,0 3,1 4,2 l4,4 c1,1 2,2 4,2 h12 c2,0 3,-1 4,-2 l4,-4 c1,-1 2,-2 4,-2 z" fill="#ea2b1f"/>
<path d="M2653.5,674.9 c2,0 3,1 4,2 l4,4 c1,1 2,2 4,2 h12 c2,0 3,-1 4,-2 l4,-4 c1,-1 2,-2 4,-2 z" fill="#ea2b1f"/>
<path d="M2653.5,722.9 c2,0 3,1 4,2 l4,4 c1,1 2,2 4,2 h12 c2,0 3,-1 4,-2 l4,-4 c1,-1 2,-2 4,-2 z" fill="#235591"/>
<path d="M2653.5,850.9 c2,0 3,1 4,2 l4,4 c1,1 2,2 4,2 h12 c2,0 3,-1 4,-2 l4,-4 c1,-1 2,-2 4,-2 z" fill="#8f6d40"/>
<path d="M3116.25,550.9 c2,0 3,1 4,2 l4,4 c1,1 2,2 4,2 h12 c2,0 3,-1 4,-2 l4,-4 c1,-1 2,-2 4,-2 z" fill="#235591"/>
<path d="M3116.25,598.9 c2,0 3,1 4,2 l4,4 c1,1 2,2 4,2 h12 c2,0 3,-1 4,-2 l4,-4 c1,-1 2,-2 4,-2 z" fill="#ea2b1f"/>
<path d="M3116.25,646.9 c2,0 3,1 4,2 l4,4 c1,1 2,2 4,2 h12 c2,0 3,-1 4,-2 l4,-4 c1,-1 2,-2 4,-2 z" fill="#ea2b1f"/>
<path d="M3116.25,694.9 c2,0 3,1 4,2 l4,4 c1,1 2,2 4,2 h12 c2,0 3,-1 4,-2 l4,-4 c1,-1 2,-2 4,-2 z" fill="#ea2b1f"/>
<path d="M3116.25,742.9 c2,0 3,1 4,2 l4,4 c1,1 2,2 4,2 h12 c2,0 3,-1 4,-2 l4,-4 c1,-1 2,-2 4,-2 z" fill="#ea2b1f"/>
<path d="M2257.75,1004.15 c2,0 3,1 4,2 l4,4 c1,1 2,2 4,2 h12 c2,0 3,-1 4,-2 l4,-4 c1,-1 2,-2 4,-2 z" fill="#235591"/>
<path d="M2273.75,1060.15 c2,0 3,1 4,2 l4,4 c1,1 2,2 4,2 h12 c2,0 3,-1 4,-2 l4,-4 c1,-1 2,-2 4,-2 z" fill="#4b969b"/>
<path d="M2273.75,1108.15 c2,0 3,1 4,2 l4,4 c1,1 2,2 4,2 h12 c2,0 3,-1 4,-2 l4,-4 c1,-1 2,-2 4,-2 z" fill="#ea2b1f"/>
<path d="M2273.75,1156.15 c2,0 3,1 4,2 l4,4 c1,1 2,2 4,2 h12 c2,0 3,-1 4,-2 l4,-4 c1,-1 2,-2 4,-2 z" fill="#4b969b"/>
<path d="M2273.75,1218.15 c2,0 3,1 4,2 l4,4 c1,1 2,2 4,2 h12 c2,0 3,-1 4,-2 l4,-4 c1,-1 2,-2 4,-2 z" fill="#ea2b1f"/>
<path d="M2257.75,1250.15 c2,0 3,1 4,2 l4,4 c1,1 2,2 4,2 h12 c2,0 3,-1 4,-2 l4,-4 c1,-1 2,-2 4,-2 z" fill="#4b969b"/>
<path d="M2257.75,1298.15 c2,0 3,1 4,2 l4,4 c1,1 2,2 4,2 h12 c2,0 3,-1 4,-2 l4,-4 c1,-1 2,-2 4,-2 z" fill="#235591"/>
<path d="M2257.75,1346.15 c2,0 3,1 4,2 l4,4 c1,1 2,2 4,2 h12 c2,0 3,-1 4,-2 l4,-4 c1,-1 2,-2 4,-2 z" fill="#ea2b1f"/>
<path d="M2257.75,1394.15 c2,0 3,1 4,2 l4,4 c1,1 2,2 4,2 h12 c2,0 3,-1 4,-2 l4,-4 c1,-1 2,-2 4,-2 z" fill="#ea2b1f"/>
<path d="M2257.75,1442.15 c2,0 3,1 4,2 l4,4 c1,1 2,2 4,2 h12 c2,0 3,-1 4,-2 l4,-4 c1,-1 2,-2 4,-2 z" fill="#ea2b1f"/>
<path d="M2257.75,1490.15 c2,0 3,1 4,2 l4,4 c1,1 2,2 4,2 h12 c2,0 3,-1 4,-2 l4,-4 c1,-1 2,-2 4,-2 z" fill="#ea2b1f"/>
<path d="M2257.75,1698.15 c2,0 3,1 4,2 l4,4 c1,1 2,2 4,2 h12 c2,0 3,-1 4,-2 l4,-4 c1,-1 2,-2 4,-2 z" fill="#7abb55"/>
<path d="M2859.25,1036.65 c2,0 3,1 4,2 l4,4 c1,1 2,2 4,2 h12 c2,0 3,-1 4,-2 l4,-4 c1,-1 2,-2 4,-2 z" fill="#235591"/>
<path d="M2875.25,1092.65 c2,0 3,1 4,2 l4,4 c1,1 2,2 4,2 h12 c2,0 3,-1 4,-2 l4,-4 c1,-1 2,-2 4,-2 z" fill="#4b969b"/>
<path d="M2875.25,1140.65 c2,0 3,1 4,2 l4,4 c1,1 2,2 4,2 h12 c2,0 3,-1 4,-2 l4,-4 c1,-1 2,-2 4,-2 z" fill="#ea2b1f"/>
<path d="M2875.25,1188.65 c2,0 3,1 4,2 l4,4 c1,1 2,2 4,2 h12 c2,0 3,-1 4,-2 l4,-4 c1,-1 2,-2 4,-2 z" fill="#4b969b"/>
<path d="M2875.25,1250.65 c2,0 3,1 4,2 l4,4 c1,1 2,2 4,2 h12 c2,0 3,-1 4,-2 l4,-4 c1,-1 2,-2 4,-2 z" fill="#ea2b1f"/>
<path d="M2859.25,1282.65 c2,0 3,1 4,2 l4,4 c1,1 2,2 4,2 h12 c2,0 3,-1 4,-2 l4,-4 c1,-1 2,-2 4,-2 z" fill="#4b969b"/>
<path d="M2859.25,1330.65 c2,0 3,1 4,2 l4,4 c1,1 2,2 4,2 h12 c2,0 3,-1 4,-2 l4,-4 c1,-1 2,-2 4,-2 z" fill="#235591"/>
<path d="M2859.25,1378.65 c2,0 3,1 4,2 l4,4 c1,1 2,2 4,2 h12 c2,0 3,-1 4,-2 l4,-4 c1,-1 2,-2 4,-2 z" fill="#ea2b1f"/>
<path d="M2859.25,1426.65 c2,0 3,1 4,2 l4,4 c1,1 2,2 4,2 h12 c2,0 3,-1 4,-2 l4,-4 c1,-1 2,-2 4,-2 z" fill="#ea2b1f"/>
<path d="M2859.25,1474.65 c2,0 3,1 4,2 l4,4 c1,1 2,2 4,2 h12 c2,0 3,-1 4,-2 l4,-4 c1,-1 2,-2 4,-2 z" fill="#ea2b1f"/>
<path d="M2859.25,1522.65 c2,0 3,1 4,2 l4,4 c1,1 2,2 4,2 h12 c2,0 3,-1 4,-2 l4,-4 c1,-1 2,-2 4,-2 z" fill="#ea2b1f"/>
<path d="M2859.25,1730.65 c2,0 3,1 4,2 l4,4 c1,1 2,2 4,2 h12 c2,0 3,-1 4,-2 l4,-4 c1,-1 2,-2 4,-2 z" fill="#7abb55"/>
<path d="M3404.5,1005.15 c2,0 3,1 4,2 l4,4 c1,1 2,2 4,2 h12 c2,0 3,-1 4,-2 l4,-4 c1,-1 2,-2 4,-2 z" fill="#235591"/>
<path d="M3420.5,1061.15 c2,0 3,1 4,2 l4,4 c1,1 2,2 4,2 h12 c2,0 3,-1 4,-2 l4,-4 c1,-1 2,-2 4,-2 z" fill="#4b969b"/>
<path d="M3420.5,1109.15 c2,0 3,1 4,2 l4,4 c1,1 2,2 4,2 h12 c2,0 3,-1 4,-2 l4,-4 c1,-1 2,-2 4,-2 z" fill="#ea2b1f"/>
<path d="M3420.5,1157.15 c2,0 3,1 4,2 l4,4 c1,1 2,2 4,2 h12 c2,0 3,-1 4,-2 l4,-4 c1,-1 2,-2 4,-2 z" fill="#4b969b"/>
<path d="M3420.5,1219.15 c2,0 3,1 4,2 l4,4 c1,1 2,2 4,2 h12 c2,0 3,-1 4,-2 l4,-4 c1,-1 2,-2 4,-2 z" fill="#ea2b1f"/>
<path d="M3404.5,1251.15 c2,0 3,1 4,2 l4,4 c1,1 2,2 4,2 h12 c2,0 3,-1 4,-2 l4,-4 c1,-1 2,-2 4,-2 z" fill="#4b969b"/>
<path d="M3404.5,1299.15 c2,0 3,1 4,2 l4,4 c1,1 2,2 4,2 h12 c2,0 3,-1 4,-2 l4,-4 c1,-1 2,-2 4,-2 z" fill="#235591"/>
<path d="M3404.5,1347.15 c2,0 3,1 4,2 l4,4 c1,1 2,2 4,2 h12 c2,0 3,-1 4,-2 l4,-4 c1,-1 2,-2 4,-2 z" fill="#ea2b1f"/>
<path d="M3404.5,1395.15 c2,0 3,1 4,2 l4,4 c1,1 2,2 4,2 h12 c2,0 3,-1 4,-2 l4,-4 c1,-1 2,-2 4,-2 z" fill="#ea2b1f"/>
<path d="M3404.5,1443.15 c2,0 3,1 4,2 l4,4 c1,1 2,2 4,2 h12 c2,0 3,-1 4,-2 l4,-4 c1,-1 2,-2 4,-2 z" fill="#ea2b1f"/>
<path d="M3404.5,1491.15 c2,0 3,1 4,2 l4,4 c1,1 2,2 4,2 h12 c2,0 3,-1 4,-2 l4,-4 c1,-1 2,-2 4,-2 z" fill="#ea2b1f"/>
<path d="M3404.5,1699.15 c2,0 3,1 4,2 l4,4 c1,1 2,2 4,2 h12 c2,0 3,-1 4,-2 l4,-4 c1,-1 2,-2 4,-2 z" fill="#7abb55"/>
<path d="M4048.5,1026.15 c2,0 3,1 4,2 l4,4 c1,1 2,2 4,2 h12 c2,0 3,-1 4,-2 l4,-4 c1,-1 2,-2 4,-2 z" fill="#235591"/>
<path d="M4064.5,1082.15 c2,0 3,1 4,2 l4,4 c1,1 2,2 4,2 h12 c2,0 3,-1 4,-2 l4,-4 c1,-1 2,-2 4,-2 z" fill="#4b969b"/>
<path d="M4064.5,1130.15 c2,0 3,1 4,2 l4,4 c1,1 2,2 4,2 h12 c2,0 3,-1 4,-2 l4,-4 c1,-1 2,-2 4,-2 z" fill="#ea2b1f"/>
<path d="M4064.5,1178.15 c2,0 3,1 4,2 l4,4 c1,1 2,2 4,2 h12 c2,0 3,-1 4,-2 l4,-4 c1,-1 2,-2 4,-2 z" fill="#4b969b"/>
<path d="M4064.5,1240.15 c2,0 3,1 4,2 l4,4 c1,1 2,2 4,2 h12 c2,0 3,-1 4,-2 l4,-4 c1,-1 2,-2 4,-2 z" fill="#ea2b1f"/>
<path d="M4048.5,1272.15 c2,0 3,1 4,2 l4,4 c1,1 2,2 4,2 h12 c2,0 3,-1 4,-2 l4,-4 c1,-1 2,-2 4,-2 z" fill="#4b969b"/>
<path d="M4048.5,1320.15 c2,0 3,1 4,2 l4,4 c1,1 2,2 4,2 h12 c2,0 3,-1 4,-2 l4,-4 c1,-1 2,-2 4,-2 z" fill="#235591"/>
<path d="M4048.5,1368.15 c2,0 3,1 4,2 l4,4 c1,1 2,2 4,2 h12 c2,0 3,-1 4,-2 l4,-4 c1,-1 2,-2 4,-2 z" fill="#ea2b1f"/>
<path d="M4048.5,1416.15 c2,0 3,1 4,2 l4,4 c1,1 2,2 4,2 h12 c2,0 3,-1 4,-2 l4,-4 c1,-1 2,-2 4,-2 z" fill="#ea2b1f"/>
<path d="M4048.5,1464.15 c2,0 3,1 4,2 l4,4 c1,1 2,2 4,2 h12 c2,0 3,-1 4,-2 l4,-4 c1,-1 2,-2 4,-2 z" fill="#ea2b1f"/>
<path d="M4048.5,1512.15 c2,0 3,1 4,2 l4,4 c1,1 2,2 4,2 h12 c2,0 3,-1 4,-2 l4,-4 c1,-1 2,-2 4,-2 z" fill="#ea2b1f"/>
<path d="M4048.5,1720.15 c2,0 3,1 4,2 l4,4 c1,1 2,2 4,2 h12 c2,0 3,-1 4,-2 l4,-4 c1,-1 2,-2 4,-2 z" fill="#7abb55"/>
<path d="M4585.5,1024.9 c2,0 3,1 4,2 l4,4 c1,1 2,2 4,2 h12 c2,0 3,-1 4,-2 l4,-4 c1,-1 2,-2 4,-2 z" fill="#235591"/>
<path d="M4601.5,1080.9 c2,0 3,1 4,2 l4,4 c1,1 2,2 4,2 h12 c2,0 3,-1 4,-2 l4,-4 c1,-1 2,-2 4,-2 z" fill="#4b969b"/>
<path d="M4601.5,1128.9 c2,0 3,1 4,2 l4,4 c1,1 2,2 4,2 h12 c2,0 3,-1 4,-2 l4,-4 c1,-1 2,-2 4,-2 z" fill="#ea2b1f"/>
<path d="M4601.5,1176.9 c2,0 3,1 4,2 l4,4 c1,1 2,2 4,2 h12 c2,0 3,-1 4,-2 l4,-4 c1,-1 2,-2 4,-2 z" fill="#4b969b"/>
<path d="M4601.5,1238.9 c2,0 3,1 4,2 l4,4 c1,1 2,2 4,2 h12 c2,0 3,-1 4,-2 l4,-4 c1,-1 2,-2 4,-2 z" fill="#ea2b1f"/>
<path d="M4585.5,1270.9 c2,0 3,1 4,2 l4,4 c1,1 2,2 4,2 h12 c2,0 3,-1 4,-2 l4,-4 c1,-1 2,-2 4,-2 z" fill="#4b969b"/>
<path d="M4585.5,1318.9 c2,0 3,1 4,2 l4,4 c1,1 2,2 4,2 h12 c2,0 3,-1 4,-2 l4,-4 c1,-1 2,-2 4,-2 z" fill="#235591"/>
<path d="M4585.5,1366.9 c2,0 3,1 4,2 l4,4 c1,1 2,2 4,2 h12 c2,0 3,-1 4,-2 l4,-4 c1,-1 2,-2 4,-2 z" fill="#ea2b1f"/>
<path d="M4585.5,1414.9 c2,0 3,1 4,2 l4,4 c1,1 2,2 4,2 h12 c2,0 3,-1 4,-2 l4,-4 c1,-1 2,-2 4,-2 z" fill="#ea2b1f"/>
<path d="M4585.5,1462.9 c2,0 3,1 4,2 l4,4 c1,1 2,2 4,2 h12 c2,0 3,-1 4,-2 l4,-4 c1,-1 2,-2 4,-2 z" fill="#ea2b1f"/>
<path d="M4585.5,1510.9 c2,0 3,1 4,2 l4,4 c1,1 2,2 4,2 h12 c2,0 3,-1 4,-2 l4,-4 c1,-1 2,-2 4,-2 z" fill="#ea2b1f"/>
<path d="M4585.5,1718.9 c2,0 3,1 4,2 l4,4 c1,1 2,2 4,2 h12 c2,0 3,-1 4,-2 l4,-4 c1,-1 2,-2 4,-2 z" fill="#7abb55"/>
<path d="M1966.5,1885.15 c2,0 3,1 4,2 l4,4 c1,1 2,2 4,2 h12 c2,0 3,-1 4,-2 l4,-4 c1,-1 2,-2 4,-2 z" fill="#235591"/>
<path d="M1982.5,1941.15 c2,0 3,1 4,2 l4,4 c1,1 2,2 4,2 h12 c2,0 3,-1 4,-2 l4,-4 c1,-1 2,-2 4,-2 z" fill="#4b969b"/>
<path d="M1982.5,1989.15 c2,0 3,1 4,2 l4,4 c1,1 2,2 4,2 h12 c2,0 3,-1 4,-2 l4,-4 c1,-1 2,-2 4,-2 z" fill="#ea2b1f"/>
<path d="M1982.5,2037.15 c2,0 3,1 4,2 l4,4 c1,1 2,2 4,2 h12 c2,0 3,-1 4,-2 l4,-4 c1,-1 2,-2 4,-2 z" fill="#4b969b"/>
<path d="M1982.5,2099.15 c2,0 3,1 4,2 l4,4 c1,1 2,2 4,2 h12 c2,0 3,-1 4,-2 l4,-4 c1,-1 2,-2 4,-2 z" fill="#ea2b1f"/>
<path d="M1966.5,2131.15 c2,0 3,1 4,2 l4,4 c1,1 2,2 4,2 h12 c2,0 3,-1 4,-2 l4,-4 c1,-1 2,-2 4,-2 z" fill="#4b969b"/>
<path d="M1966.5,2179.15 c2,0 3,1 4,2 l4,4 c1,1 2,2 4,2 h12 c2,0 3,-1 4,-2 l4,-4 c1,-1 2,-2 4,-2 z" fill="#235591"/>
<path d="M1966.5,2227.15 c2,0 3,1 4,2 l4,4 c1,1 2,2 4,2 h12 c2,0 3,-1 4,-2 l4,-4 c1,-1 2,-2 4,-2 z" fill="#ea2b1f"/>
<path d="M1966.5,2275.15 c2,0 3,1 4,2 l4,4 c1,1 2,2 4,2 h12 c2,0 3,-1 4,-2 l4,-4 c1,-1 2,-2 4,-2 z" fill="#ea2b1f"/>
<path d="M1966.5,2323.15 c2,0 3,1 4,2 l4,4 c1,1 2,2 4,2 h12 c2,0 3,-1 4,-2 l4,-4 c1,-1 2,-2 4,-2 z" fill="#ea2b1f"/>
<path d="M1966.5,2371.15 c2,0 3,1 4,2 l4,4 c1,1 2,2 4,2 h12 c2,0 3,-1 4,-2 l4,-4 c1,-1 2,-2 4,-2 z" fill="#ea2b1f"/>
<path d="M1966.5,2579.15 c2,0 3,1 4,2 l4,4 c1,1 2,2 4,2 h12 c2,0 3,-1 4,-2 l4,-4 c1,-1 2,-2 4,-2 z" fill="#7abb55"/>
<path d="M2496.5,1898.65 c2,0 3,1 4,2 l4,4 c1,1 2,2 4,2 h12 c2,0 3,-1 4,-2 l4,-4 c1,-1 2,-2 4,-2 z" fill="#235591"/>
<path d="M2512.5,1954.65 c2,0 3,1 4,2 l4,4 c1,1 2,2 4,2 h12 c2,0 3,-1 4,-2 l4,-4 c1,-1 2,-2 4,-2 z" fill="#4b969b"/>
<path d="M2512.5,2002.65 c2,0 3,1 4,2 l4,4 c1,1 2,2 4,2 h12 c2,0 3,-1 4,-2 l4,-4 c1,-1 2,-2 4,-2 z" fill="#ea2b1f"/>
<path d="M2512.5,2050.65 c2,0 3,1 4,2 l4,4 c1,1 2,2 4,2 h12 c2,0 3,-1 4,-2 l4,-4 c1,-1 2,-2 4,-2 z" fill="#4b969b"/>
<path d="M2512.5,2112.65 c2,0 3,1 4,2 l4,4 c1,1 2,2 4,2 h12 c2,0 3,-1 4,-2 l4,-4 c1,-1 2,-2 4,-2 z" fill="#ea2b1f"/>
<path d="M2496.5,2144.65 c2,0 3,1 4,2 l4,4 c1,1 2,2 4,2 h12 c2,0 3,-1 4,-2 l4,-4 c1,-1 2,-2 4,-2 z" fill="#4b969b"/>
<path d="M2496.5,2192.65 c2,0 3,1 4,2 l4,4 c1,1 2,2 4,2 h12 c2,0 3,-1 4,-2 l4,-4 c1,-1 2,-2 4,-2 z" fill="#235591"/>
<path d="M2496.5,2240.65 c2,0 3,1 4,2 l4,4 c1,1 2,2 4,2 h12 c2,0 3,-1 4,-2 l4,-4 c1,-1 2,-2 4,-2 z" fill="#ea2b1f"/>
<path d="M2496.5,2288.65 c2,0 3,1 4,2 l4,4 c1,1 2,2 4,2 h12 c2,0 3,-1 4,-2 l4,-4 c1,-1 2,-2 4,-2 z" fill="#ea2b1f"/>
<path d="M2496.5,2336.65 c2,0 3,1 4,2 l4,4 c1,1 2,2 4,2 h12 c2,0 3,-1 4,-2 l4,-4 c1,-1 2,-2 4,-2 z" fill="#ea2b1f"/>
<path d="M2496.5,2384.65 c2,0 3,1 4,2 l4,4 c1,1 2,2 4,2 h12 c2,0 3,-1 4,-2 l4,-4 c1,-1 2,-2 4,-2 z" fill="#ea2b1f"/>
<path d="M2496.5,2592.65 c2,0 3,1 4,2 l4,4 c1,1 2,2 4,2 h12 c2,0 3,-1 4,-2 l4,-4 c1,-1 2,-2 4,-2 z" fill="#7abb55"/>
<path d="M2979.25,1891.4 c2,0 3,1 4,2 l4,4 c1,1 2,2 4,2 h12 c2,0 3,-1 4,-2 l4,-4 c1,-1 2,-2 4,-2 z" fill="#235591"/>
<path d="M2995.25,1947.4 c2,0 3,1 4,2 l4,4 c1,1 2,2 4,2 h12 c2,0 3,-1 4,-2 l4,-4 c1,-1 2,-2 4,-2 z" fill="#4b969b"/>
<path d="M2995.25,1995.4 c2,0 3,1 4,2 l4,4 c1,1 2,2 4,2 h12 c2,0 3,-1 4,-2 l4,-4 c1,-1 2,-2 4,-2 z" fill="#ea2b1f"/>
<path d="M2995.25,2043.4 c2,0 3,1 4,2 l4,4 c1,1 2,2 4,2 h12 c2,0 3,-1 4,-2 l4,-4 c1,-1 2,-2 4,-2 z" fill="#4b969b"/>
<path d="M2995.25,2105.4 c2,0 3,1 4,2 l4,4 c1,1 2,2 4,2 h12 c2,0 3,-1 4,-2 l4,-4 c1,-1 2,-2 4,-2 z" fill="#ea2b1f"/>
<path d="M2979.25,2137.4 c2,0 3,1 4,2 l4,4 c1,1 2,2 4,2 h12 c2,0 3,-1 4,-2 l4,-4 c1,-1 2,-2 4,-2 z" fill="#4b969b"/>
<path d="M2979.25,2185.4 c2,0 3,1 4,2 l4,4 c1,1 2,2 4,2 h12 c2,0 3,-1 4,-2 l4,-4 c1,-1 2,-2 4,-2 z" fill="#235591"/>
<path d="M2979.25,2233.4 c2,0 3,1 4,2 l4,4 c1,1 2,2 4,2 h12 c2,0 3,-1 4,-2 l4,-4 c1,-1 2,-2 4,-2 z" fill="#ea2b1f"/>
<path d="M2979.25,2281.4 c2,0 3,1 4,2 l4,4 c1,1 2,2 4,2 h12 c2,0 3,-1 4,-2 l4,-4 c1,-1 2,-2 4,-2 z" fill="#ea2b1f"/>
<path d="M2979.25,2329.4 c2,0 3,1 4,2 l4,4 c1,1 2,2 4,2 h12 c2,0 3,-1 4,-2 l4,-4 c1,-1 2,-2 4,-2 z" fill="#ea2b1f"/>
<path d="M2979.25,2377.4 c2,0 3,1 4,2 l4,4 c1,1 2,2 4,2 h12 c2,0 3,-1 4,-2 l4,-4 c1,-1 2,-2 4,-2 z" fill="#ea2b1f"/>
<path d="M2979.25,2585.4 c2,0 3,1 4,2 l4,4 c1,1 2,2 4,2 h12 c2,0 3,-1 4,-2 l4,-4 c1,-1 2,-2 4,-2 z" fill="#7abb55"/>
<path d="M3571,1894.65 c2,0 3,1 4,2 l4,4 c1,1 2,2 4,2 h12 c2,0 3,-1 4,-2 l4,-4 c1,-1 2,-2 4,-2 z" fill="#235591"/>
<path d="M3587,1950.65 c2,0 3,1 4,2 l4,4 c1,1 2,2 4,2 h12 c2,0 3,-1 4,-2 l4,-4 c1,-1 2,-2 4,-2 z" fill="#4b969b"/>
<path d="M3587,1998.65 c2,0 3,1 4,2 l4,4 c1,1 2,2 4,2 h12 c2,0 3,-1 4,-2 l4,-4 c1,-1 2,-2 4,-2 z" fill="#ea2b1f"/>
<path d="M3587,2046.65 c2,0 3,1 4,2 l4,4 c1,1 2,2 4,2 h12 c2,0 3,-1 4,-2 l4,-4 c1,-1 2,-2 4,-2 z" fill="#4b969b"/>
<path d="M3587,2108.65 c2,0 3,1 4,2 l4,4 c1,1 2,2 4,2 h12 c2,0 3,-1 4,-2 l4,-4 c1,-1 2,-2 4,-2 z" fill="#ea2b1f"/>
<path d="M3571,2140.65 c2,0 3,1 4,2 l4,4 c1,1 2,2 4,2 h12 c2,0 3,-1 4,-2 l4,-4 c1,-1 2,-2 4,-2 z" fill="#4b969b"/>
<path d="M3571,2188.65 c2,0 3,1 4,2 l4,4 c1,1 2,2 4,2 h12 c2,0 3,-1 4,-2 l4,-4 c1,-1 2,-2 4,-2 z" fill="#235591"/>
<path d="M3571,2236.65 c2,0 3,1 4,2 l4,4 c1,1 2,2 4,2 h12 c2,0 3,-1 4,-2 l4,-4 c1,-1 2,-2 4,-2 z" fill="#ea2b1f"/>
<path d="M3571,2284.65 c2,0 3,1 4,2 l4,4 c1,1 2,2 4,2 h12 c2,0 3,-1 4,-2 l4,-4 c1,-1 2,-2 4,-2 z" fill="#ea2b1f"/>
<path d="M3571,2332.65 c2,0 3,1 4,2 l4,4 c1,1 2,2 4,2 h12 c2,0 3,-1 4,-2 l4,-4 c1,-1 2,-2 4,-2 z" fill="#ea2b1f"/>
<path d="M3571,2380.65 c2,0 3,1 4,2 l4,4 c1,1 2,2 4,2 h12 c2,0 3,-1 4,-2 l4,-4 c1,-1 2,-2 4,-2 z" fill="#ea2b1f"/>
<path d="M3571,2588.65 c2,0 3,1 4,2 l4,4 c1,1 2,2 4,2 h12 c2,0 3,-1 4,-2 l4,-4 c1,-1 2,-2 4,-2 z" fill="#7abb55"/>
<path d="M4357.75,1877.4 c2,0 3,1 4,2 l4,4 c1,1 2,2 4,2 h12 c2,0 3,-1 4,-2 l4,-4 c1,-1 2,-2 4,-2 z" fill="#235591"/>
<path d="M4373.75,1933.4 c2,0 3,1 4,2 l4,4 c1,1 2,2 4,2 h12 c2,0 3,-1 4,-2 l4,-4 c1,-1 2,-2 4,-2 z" fill="#4b969b"/>
<path d="M4373.75,1981.4 c2,0 3,1 4,2 l4,4 c1,1 2,2 4,2 h12 c2,0 3,-1 4,-2 l4,-4 c1,-1 2,-2 4,-2 z" fill="#ea2b1f"/>
<path d="M4373.75,2029.4 c2,0 3,1 4,2 l4,4 c1,1 2,2 4,2 h12 c2,0 3,-1 4,-2 l4,-4 c1,-1 2,-2 4,-2 z" fill="#4b969b"/>
<path d="M4373.75,2091.4 c2,0 3,1 4,2 l4,4 c1,1 2,2 4,2 h12 c2,0 3,-1 4,-2 l4,-4 c1,-1 2,-2 4,-2 z" fill="#ea2b1f"/>
<path d="M4357.75,2123.4 c2,0 3,1 4,2 l4,4 c1,1 2,2 4,2 h12 c2,0 3,-1 4,-2 l4,-4 c1,-1 2,-2 4,-2 z" fill="#4b969b"/>
<path d="M4357.75,2171.4 c2,0 3,1 4,2 l4,4 c1,1 2,2 4,2 h12 c2,0 3,-1 4,-2 l4,-4 c1,-1 2,-2 4,-2 z" fill="#235591"/>
<path d="M4357.75,2219.4 c2,0 3,1 4,2 l4,4 c1,1 2,2 4,2 h12 c2,0 3,-1 4,-2 l4,-4 c1,-1 2,-2 4,-2 z" fill="#ea2b1f"/>
<path d="M4357.75,2267.4 c2,0 3,1 4,2 l4,4 c1,1 2,2 4,2 h12 c2,0 3,-1 4,-2 l4,-4 c1,-1 2,-2 4,-2 z" fill="#ea2b1f"/>
<path d="M4357.75,2315.4 c2,0 3,1 4,2 l4,4 c1,1 2,2 4,2 h12 c2,0 3,-1 4,-2 l4,-4 c1,-1 2,-2 4,-2 z" fill="#ea2b1f"/>
<path d="M4357.75,2363.4 c2,0 3,1 4,2 l4,4 c1,1 2,2 4,2 h12 c2,0 3,-1 4,-2 l4,-4 c1,-1 2,-2 4,-2 z" fill="#ea2b1f"/>
<path d="M4357.75,2571.4 c2,0 3,1 4,2 l4,4 c1,1 2,2 4,2 h12 c2,0 3,-1 4,-2 l4,-4 c1,-1 2,-2 4,-2 z" fill="#7abb55"/>
<path d="M1940.5,2734.9 c2,0 3,1 4,2 l4,4 c1,1 2,2 4,2 h12 c2,0 3,-1 4,-2 l4,-4 c1,-1 2,-2 4,-2 z" fill="#235591"/>
<path d="M1956.5,2790.9 c2,0 3,1 4,2 l4,4 c1,1 2,2 4,2 h12 c2,0 3,-1 4,-2 l4,-4 c1,-1 2,-2 4,-2 z" fill="#4b969b"/>
<path d="M1956.5,2838.9 c2,0 3,1 4,2 l4,4 c1,1 2,2 4,2 h12 c2,0 3,-1 4,-2 l4,-4 c1,-1 2,-2 4,-2 z" fill="#ea2b1f"/>
<path d="M1956.5,2886.9 c2,0 3,1 4,2 l4,4 c1,1 2,2 4,2 h12 c2,0 3,-1 4,-2 l4,-4 c1,-1 2,-2 4,-2 z" fill="#4b969b"/>
<path d="M1956.5,2948.9 c2,0 3,1 4,2 l4,4 c1,1 2,2 4,2 h12 c2,0 3,-1 4,-2 l4,-4 c1,-1 2,-2 4,-2 z" fill="#ea2b1f"/>
<path d="M1940.5,2980.9 c2,0 3,1 4,2 l4,4 c1,1 2,2 4,2 h12 c2,0 3,-1 4,-2 l4,-4 c1,-1 2,-2 4,-2 z" fill="#4b969b"/>
<path d="M1940.5,3028.9 c2,0 3,1 4,2 l4,4 c1,1 2,2 4,2 h12 c2,0 3,-1 4,-2 l4,-4 c1,-1 2,-2 4,-2 z" fill="#235591"/>
<path d="M1940.5,3076.9 c2,0 3,1 4,2 l4,4 c1,1 2,2 4,2 h12 c2,0 3,-1 4,-2 l4,-4 c1,-1 2,-2 4,-2 z" fill="#ea2b1f"/>
<path d="M1940.5,3124.9 c2,0 3,1 4,2 l4,4 c1,1 2,2 4,2 h12 c2,0 3,-1 4,-2 l4,-4 c1,-1 2,-2 4,-2 z" fill="#ea2b1f"/>
<path d="M1940.5,3172.9 c2,0 3,1 4,2 l4,4 c1,1 2,2 4,2 h12 c2,0 3,-1 4,-2 l4,-4 c1,-1 2,-2 4,-2 z" fill="#ea2b1f"/>
<path d="M1940.5,3220.9 c2,0 3,1 4,2 l4,4 c1,1 2,2 4,2 h12 c2,0 3,-1 4,-2 l4,-4 c1,-1 2,-2 4,-2 z" fill="#ea2b1f"/>
<path d="M1940.5,3428.9 c2,0 3,1 4,2 l4,4 c1,1 2,2 4,2 h12 c2,0 3,-1 4,-2 l4,-4 c1,-1 2,-2 4,-2 z" fill="#7abb55"/>
<path d="M3621.75,2753.65 c2,0 3,1 4,2 l4,4 c1,1 2,2 4,2 h12 c2,0 3,-1 4,-2 l4,-4 c1,-1 2,-2 4,-2 z" fill="#235591"/>
<path d="M3637.75,2809.65 c2,0 3,1 4,2 l4,4 c1,1 2,2 4,2 h12 c2,0 3,-1 4,-2 l4,-4 c1,-1 2,-2 4,-2 z" fill="#4b969b"/>
<path d="M3637.75,2857.65 c2,0 3,1 4,2 l4,4 c1,1 2,2 4,2 h12 c2,0 3,-1 4,-2 l4,-4 c1,-1 2,-2 4,-2 z" fill="#ea2b1f"/>
<path d="M3637.75,2905.65 c2,0 3,1 4,2 l4,4 c1,1 2,2 4,2 h12 c2,0 3,-1 4,-2 l4,-4 c1,-1 2,-2 4,-2 z" fill="#4b969b"/>
<path d="M3637.75,2967.65 c2,0 3,1 4,2 l4,4 c1,1 2,2 4,2 h12 c2,0 3,-1 4,-2 l4,-4 c1,-1 2,-2 4,-2 z" fill="#ea2b1f"/>
<path d="M3621.75,2999.65 c2,0 3,1 4,2 l4,4 c1,1 2,2 4,2 h12 c2,0 3,-1 4,-2 l4,-4 c1,-1 2,-2 4,-2 z" fill="#4b969b"/>
<path d="M3621.75,3047.65 c2,0 3,1 4,2 l4,4 c1,1 2,2 4,2 h12 c2,0 3,-1 4,-2 l4,-4 c1,-1 2,-2 4,-2 z" fill="#235591"/>
<path d="M3621.75,3095.65 c2,0 3,1 4,2 l4,4 c1,1 2,2 4,2 h12 c2,0 3,-1 4,-2 l4,-4 c1,-1 2,-2 4,-2 z" fill="#ea2b1f"/>
<path d="M3621.75,3143.65 c2,0 3,1 4,2 l4,4 c1,1 2,2 4,2 h12 c2,0 3,-1 4,-2 l4,-4 c1,-1 2,-2 4,-2 z" fill="#ea2b1f"/>
<path d="M3621.75,3191.65 c2,0 3,1 4,2 l4,4 c1,1 2,2 4,2 h12 c2,0 3,-1 4,-2 l4,-4 c1,-1 2,-2 4,-2 z" fill="#ea2b1f"/>
<path d="M3621.75,3239.65 c2,0 3,1 4,2 l4,4 c1,1 2,2 4,2 h12 c2,0 3,-1 4,-2 l4,-4 c1,-1 2,-2 4,-2 z" fill="#ea2b1f"/>
<path d="M3621.75,3447.65 c2,0 3,1 4,2 l4,4 c1,1 2,2 4,2 h12 c2,0 3,-1 4,-2 l4,-4 c1,-1 2,-2 4,-2 z" fill="#7abb55"/>
<path d="M4221.75,2731.15 c2,0 3,1 4,2 l4,4 c1,1 2,2 4,2 h12 c2,0 3,-1 4,-2 l4,-4 c1,-1 2,-2 4,-2 z" fill="#235591"/>
<path d="M4237.75,2787.15 c2,0 3,1 4,2 l4,4 c1,1 2,2 4,2 h12 c2,0 3,-1 4,-2 l4,-4 c1,-1 2,-2 4,-2 z" fill="#4b969b"/>
<path d="M4237.75,2835.15 c2,0 3,1 4,2 l4,4 c1,1 2,2 4,2 h12 c2,0 3,-1 4,-2 l4,-4 c1,-1 2,-2 4,-2 z" fill="#ea2b1f"/>
<path d="M4237.75,2883.15 c2,0 3,1 4,2 l4,4 c1,1 2,2 4,2 h12 c2,0 3,-1 4,-2 l4,-4 c1,-1 2,-2 4,-2 z" fill="#4b969b"/>
<path d="M4237.75,2945.15 c2,0 3,1 4,2 l4,4 c1,1 2,2 4,2 h12 c2,0 3,-1 4,-2 l4,-4 c1,-1 2,-2 4,-2 z" fill="#ea2b1f"/>
<path d="M4221.75,2977.15 c2,0 3,1 4,2 l4,4 c1,1 2,2 4,2 h12 c2,0 3,-1 4,-2 l4,-4 c1,-1 2,-2 4,-2 z" fill="#4b969b"/>
<path d="M4221.75,3025.15 c2,0 3,1 4,2 l4,4 c1,1 2,2 4,2 h12 c2,0 3,-1 4,-2 l4,-4 c1,-1 2,-2 4,-2 z" fill="#235591"/>
<path d="M4221.75,3073.15 c2,0 3,1 4,2 l4,4 c1,1 2,2 4,2 h12 c2,0 3,-1 4,-2 l4,-4 c1,-1 2,-2 4,-2 z" fill="#ea2b1f"/>
<path d="M4221.75,3121.15 c2,0 3,1 4,2 l4,4 c1,1 2,2 4,2 h12 c2,0 3,-1 4,-2 l4,-4 c1,-1 2,-2 4,-2 z" fill="#ea2b1f"/>
<path d="M4221.75,3169.15 c2,0 3,1 4,2 l4,4 c1,1 2,2 4,2 h12 c2,0 3,-1 4,-2 l4,-4 c1,-1 2,-2 4,-2 z" fill="#ea2b1f"/>
<path d="M4221.75,3217.15 c2,0 3,1 4,2 l4,4 c1,1 2,2 4,2 h12 c2,0 3,-1 4,-2 l4,-4 c1,-1 2,-2 4,-2 z" fill="#ea2b1f"/>
<path d="M4221.75,3425.15 c2,0 3,1 4,2 l4,4 c1,1 2,2 4,2 h12 c2,0 3,-1 4,-2 l4,-4 c1,-1 2,-2 4,-2 z" fill="#7abb55"/>
</g>
<rect x="1800" y="371" width="39.500" height="581" rx="19.750" fill="#c8c8c8"/>
</g>
</svg>

<div id="hdr">
  <div class="ms" style="left:32px;top:34px;background:#f25022"></div>
  <div class="ms" style="left:55.500px;top:34px;background:#7fba00"></div>
  <div class="ms" style="left:32px;top:57px;background:#00a4ef"></div>
  <div class="ms" style="left:55.500px;top:57px;background:#ffb900"></div>
  <div id="mstxt">Microsoft</div>
  <div id="div"></div>
  <div id="mk">MakeCode</div>

  <!-- editor toggle -->
  <svg class="hi" style="left:796px;top:4px" width="256" height="104" viewBox="796 4 256 104">
    <rect x="884" y="14" width="163" height="84" fill="#000"/>
    <rect x="887" y="18" width="75" height="75" fill="#404040"/>
    <rect x="966.500" y="18" width="76.500" height="75" fill="#404040"/>
    <rect x="799" y="8" width="88" height="96" fill="#000"/>
    <rect x="803" y="12" width="80" height="88" fill="#fff"/>
    <path d="M883 12v88h-80l4-4h72V16z" fill="#5b5b5b"/>
    <rect x="807" y="16" width="72" height="80" fill="#c6c6c6"/>
    <!-- puzzle piece -->
    <path d="M834 55.500h6c.9 0 1.300-.7 .9-1.500-.5-.9-.8-1.700-.8-2.600 0-2.200 1.500-3.700 3.400-3.700s3.400 1.500 3.400 3.700c0 .9-.3 1.700-.8 2.600-.4.800 0 1.500.9 1.500H852.500c.8 0 1.500.7 1.500 1.500v4.500c0 .9-.7 1.300-1.500.9-.9-.5-1.700-.8-2.600-.8-2.200 0-3.700 1.500-3.700 3.400s1.500 3.400 3.700 3.400c.9 0 1.700-.3 2.600-.8.800-.4 1.500 0 1.500.9v6c0 .8-.7 1.500-1.500 1.500h-18.500c-.8 0-1.500-.7-1.500-1.500v-17.500c0-.8.700-1.500 1.500-1.500z" fill="#2d2d2d"/>
    <!-- JS -->
    <rect x="907" y="42" width="32" height="32" fill="#c6c6c6"/>
    <text x="916" y="71" textLength="20.500" lengthAdjust="spacingAndGlyphs" style="font-size:19.500px;fill:#404040;font-weight:bold;font-family:'Liberation Sans',sans-serif">JS</text>
    <!-- chevron -->
    <path d="M992 54l11 11 11-11" fill="none" stroke="#c6c6c6" stroke-width="5" stroke-linecap="round" stroke-linejoin="round"/>
  </svg>

  <!-- home -->
  <svg class="hi" style="left:1354px;top:30px" width="58" height="50" viewBox="0 0 58 50">
    <path d="M29 14.500L9.500 30.600V47c0 .8.700 1.500 1.500 1.500h12V36c0-.8.700-1.500 1.500-1.500h9c.8 0 1.500.7 1.500 1.500v12.500h12c.8 0 1.500-.7 1.500-1.500V30.600z" fill="#dcdcdc"/>
    <path d="M2.500 27.500L29 5.500l10 8.300V7h6.500v12.200l10 8.300" fill="none" stroke="#dcdcdc" stroke-width="5" stroke-linejoin="miter"/>
  </svg>
  <!-- share -->
  <svg class="hi" style="left:1493px;top:30px" width="48" height="52" viewBox="0 0 48 52">
    <path d="M11 26L36 11.500M11 26l25 14.500" stroke="#dcdcdc" stroke-width="5.500" fill="none"/>
    <circle cx="11" cy="26" r="9" fill="#dcdcdc"/><circle cx="36" cy="11" r="9" fill="#dcdcdc"/><circle cx="36" cy="41" r="9" fill="#dcdcdc"/>
  </svg>
  <!-- help -->
  <svg class="hi" style="left:1621px;top:31px" width="50" height="50" viewBox="0 0 50 50">
    <circle cx="25" cy="25" r="23.200" fill="#dcdcdc"/>
    <path d="M16.500 19c.5-5 4-7.500 8.700-7.500 5 0 8.800 2.800 8.800 7.200 0 6-7.500 6-7.500 11.300" fill="none" stroke="#2f2f2f" stroke-width="5.500"/>
    <circle cx="25.500" cy="37.500" r="3.600" fill="#2f2f2f"/>
  </svg>
  <!-- gear -->
  <svg class="hi" style="left:1755px;top:31px" width="48" height="50" viewBox="-24 -25 48 50">
    <g fill="#dcdcdc">
      <circle r="17.500"/>
      <g><rect x="-6" y="-23.500" width="12" height="12" rx="2"/><rect x="-6" y="11.500" width="12" height="12" rx="2"/></g><g transform="rotate(60)"><rect x="-6" y="-23.500" width="12" height="12" rx="2"/><rect x="-6" y="11.500" width="12" height="12" rx="2"/></g><g transform="rotate(120)"><rect x="-6" y="-23.500" width="12" height="12" rx="2"/><rect x="-6" y="11.500" width="12" height="12" rx="2"/></g>
    </g>
    <circle r="7.500" fill="#2f2f2f"/>
  </svg>
</div>
<div id="corner"></div>

<div id="side">
  <div id="search"><span>検索...</span>
    <svg style="position:absolute;left:264px;top:26px" width="34.500" height="34.500" viewBox="0 0 36 36"><circle cx="13.500" cy="13.500" r="10" fill="none" stroke="#333" stroke-width="6"/><path d="M21 21l11 11" stroke="#333" stroke-width="6.500" stroke-linecap="round"/></svg>
  </div>
  <div class="cat" style="top:112px;background:#e89005"><svg class="ci" style="left:21px;top:27px" viewBox="0 0 44 43" width="44" height="43"><path d="M22 2.500l5.800 12.200 13.200 1.800-9.600 9.300 2.400 13.200L22 32.700l-11.800 6.300 2.400-13.200L3 16.500l13.200-1.800z" fill="#fff" stroke="#fff" stroke-width="4" stroke-linejoin="round"/></svg><span>基本</span></div><div class="cat" style="top:220px;background:#0078d7"><svg class="ci" style="left:22.2px;top:27.2px" viewBox="0 0 44 45" width="42.3" height="43.3"><circle cx="22" cy="12.500" r="11.500" fill="#fff"/><path d="M1 42v-5c0-8 6-12 12-12h18c6 0 12 4 12 12v5c0 2-1 3-3 3H4c-2 0-3-1-3-3z" fill="#fff"/></svg><span>プレイヤー</span></div><div class="cat" style="top:328px;background:#7abb55"><svg class="ci" style="left:22.7px;top:27.5px" viewBox="0 0 41.700 40.500" width="41.7" height="40.5"><path d="M20.850 1.200L40.500 8.600v22.400L20.850 39.300 1.200 31V8.600z" fill="#fff" stroke="#fff" stroke-width="2.400" stroke-linejoin="round"/><path d="M6.400 10L20.800 4.400 36.100 10 20.800 16.100z" fill="#7abb55"/><path d="M23.900 21.700l13.300-5.600v11.700l-13.300 6.400z" fill="#7abb55"/></svg><span>ブロック</span></div><div class="cat" style="top:436px;background:#764bcc"><svg class="ci" style="left:22.7px;top:30.1px" viewBox="0 0 44 39" width="41.7" height="37"><ellipse cx="14.500" cy="8" rx="5.200" ry="7.200" fill="#fff"/><ellipse cx="29.500" cy="8" rx="5.200" ry="7.200" fill="#fff"/><ellipse cx="5" cy="19.500" rx="4.600" ry="6.500" fill="#fff" transform="rotate(-22 5 19.500)"/><ellipse cx="39" cy="19.500" rx="4.600" ry="6.500" fill="#fff" transform="rotate(22 39 19.500)"/><path d="M22 18c6 0 13.500 9 13.500 15 0 4-3 5.500-6 5.500-3 0-4.500-2-7.500-2s-4.500 2-7.500 2c-3 0-6-1.500-6-5.500 0-6 7.500-15 13.500-15z" fill="#fff"/></svg><span>モブ</span></div><div class="cat" style="top:544px;background:#d83b01"><svg class="ci" style="left:29.1px;top:28.5px" viewBox="0 0 29.200 40.300" width="29.2" height="40.3"><path d="M7.500 0h14.700v17.200H7.500zM0 19.200h29.200v21.100H0z" fill="#fff"/><path d="M10.300 10.300h2.700v4.100h-2.700zM16.700 10.300h2.700v4.100h-2.700zM12 22.800h6v6.100h-6zM4.200 29.700H7v10.600H4.200zM22.200 29.700H25v10.600h-2.800zM11.100 32.500h7.500v7.800h-7.500z" fill="#d83b01"/></svg><span>エージェント</span></div><div class="cat" style="top:652px;background:#8f6d40"><svg class="ci" style="left:22.5px;top:26.5px" viewBox="0 0 41 42" width="41" height="42"><path d="M6 36.200L27 15.200" stroke="#fff" stroke-width="9.500" stroke-linecap="round"/><circle cx="29.300" cy="11.700" r="11.600" fill="#fff"/><path d="M27.500 7.200h18v9h-18z" fill="#8f6d40" transform="rotate(-12 29.300 11.700)"/><circle cx="5.800" cy="36.300" r="2.100" fill="#8f6d40"/></svg><span>ゲームプレイ</span></div><div class="cat" style="top:760px;background:#69b090"><svg class="ci" style="left:22.7px;top:26.9px" viewBox="0 0 44 44" width="41.7" height="41.7"><circle cx="22" cy="22" r="15.300" fill="none" stroke="#fff" stroke-width="5.600"/><path d="M22 0v11.500M22 32.500v11.500M0 22h11.500M32.500 22h11.500" stroke="#fff" stroke-width="6.400"/><circle cx="22" cy="22" r="2.600" fill="#fff"/></svg><span>ポジション</span></div><div class="cat" style="top:868px;background:#569138"><svg class="ci" style="left:22.7px;top:27.2px" viewBox="0 0 41.700 42" width="41.7" height="42"><path d="M33.200 11.400A16.500 16.500 0 1 0 34.900 30.250" fill="none" stroke="#fff" stroke-width="6.500"/><path d="M35 0h6.700v17.500H23.900z" fill="#fff"/></svg><span>ループ</span></div>
</div>
<div id="strip"></div>

<svg id="right" viewBox="1846 0 74 1080">
  <rect x="1846" y="0" width="74" height="1080" fill="#000"/>
  <defs><linearGradient id="mcg" x1="0" y1="0" x2="0" y2="1"><stop offset="0" stop-color="#252525"/><stop offset="1" stop-color="#131313"/></linearGradient></defs><rect x="1847" y="275" width="73" height="290" fill="url(#mcg)"/><rect x="1847" y="565" width="73" height="515" fill="#222"/><path d="M1897.6,286.91 l6,-8.91 l52.27,3.56 l-6,8.91 z" fill="#fff" opacity="0.07"/><path d="M1850.29,285.38 l6,-7.38 l50.16,2.95 l-6,7.38 z" fill="#000" opacity="0.2"/><path d="M1843.35,295.7 l6,-8.47 l50.39,3.39 l-6,8.47 z" fill="#fff" opacity="0.08"/><path d="M1888.72,307.17 l6,-8.12 l44,3.25 l-6,8.12 z" fill="#000" opacity="0.17"/><path d="M1839.5,307.05 l6,-8 l53.18,3.2 l-6,8 z" fill="#000" opacity="0.23"/><path d="M1878.37,305.22 l6,-6.17 l25.81,2.47 l-6,6.17 z" fill="#fff" opacity="0.03"/><path d="M1856.47,316.46 l6,-9.98 l57.91,3.99 l-6,9.98 z" fill="#000" opacity="0.33"/><path d="M1859.07,312.93 l6,-6.45 l27.19,2.58 l-6,6.45 z" fill="#fff" opacity="0.07"/><path d="M1865.03,313.41 l6,-6.93 l51.86,2.77 l-6,6.93 z" fill="#000" opacity="0.36"/><path d="M1901.89,320.36 l6,-6.88 l20.09,2.75 l-6,6.88 z" fill="#000" opacity="0.25"/><path d="M1891.5,328.75 l6,-5.44 l28.79,2.17 l-6,5.44 z" fill="#fff" opacity="0.08"/><path d="M1846.42,339.16 l6,-5.05 l46.28,2.02 l-6,5.05 z" fill="#fff" opacity="0.05"/><path d="M1868.32,353.18 l6,-8.66 l25.63,3.46 l-6,8.66 z" fill="#fff" opacity="0.06"/><path d="M1906.3,361.42 l6,-9.32 l18.02,3.73 l-6,9.32 z" fill="#000" opacity="0.3"/><path d="M1906.85,358.04 l6,-5.94 l18.79,2.37 l-6,5.94 z" fill="#000" opacity="0.3"/><path d="M1906.25,368.27 l6,-6.29 l26.53,2.52 l-6,6.29 z" fill="#000" opacity="0.23"/><path d="M1842.2,378.65 l6,-8.18 l26.35,3.27 l-6,8.18 z" fill="#fff" opacity="0.05"/><path d="M1904.14,388.45 l6,-7.87 l37.35,3.15 l-6,7.87 z" fill="#000" opacity="0.2"/><path d="M1894.25,394.3 l6,-5.95 l27.98,2.38 l-6,5.95 z" fill="#000" opacity="0.39"/><path d="M1898.75,403.44 l6,-7.11 l42.14,2.84 l-6,7.11 z" fill="#fff" opacity="0.03"/><path d="M1904.39,404.85 l6,-8.52 l27.54,3.41 l-6,8.52 z" fill="#fff" opacity="0.07"/><path d="M1873.41,416.2 l6,-9.89 l55.17,3.95 l-6,9.89 z" fill="#fff" opacity="0.05"/><path d="M1882.75,411.68 l6,-5.37 l42.63,2.15 l-6,5.37 z" fill="#fff" opacity="0.08"/><path d="M1855.84,422.36 l6,-5.3 l35.83,2.12 l-6,5.3 z" fill="#fff" opacity="0.05"/><path d="M1843.45,434.17 l6,-7.25 l23.54,2.9 l-6,7.25 z" fill="#fff" opacity="0.07"/><path d="M1878.29,443.9 l6,-7.37 l54.94,2.95 l-6,7.37 z" fill="#fff" opacity="0.05"/><path d="M1881.53,452.35 l6,-8.65 l37.29,3.46 l-6,8.65 z" fill="#fff" opacity="0.08"/><path d="M1842.27,452.38 l6,-8.69 l39.84,3.47 l-6,8.69 z" fill="#000" opacity="0.33"/><path d="M1886.26,453.27 l6,-9.58 l49.73,3.83 l-6,9.58 z" fill="#fff" opacity="0.06"/><path d="M1903.1,462.7 l6,-7.5 l19.21,3 l-6,7.5 z" fill="#fff" opacity="0.06"/><path d="M1863.54,460.56 l6,-5.36 l18.5,2.14 l-6,5.36 z" fill="#fff" opacity="0.04"/><path d="M1887.97,472.16 l6,-8.68 l33.54,3.47 l-6,8.68 z" fill="#000" opacity="0.26"/><path d="M1895.69,472.24 l6,-8.75 l21.35,3.5 l-6,8.75 z" fill="#fff" opacity="0.06"/><path d="M1904.02,481.79 l6,-8.9 l22.52,3.56 l-6,8.9 z" fill="#000" opacity="0.27"/><path d="M1858.07,490.39 l6,-6.01 l45.13,2.41 l-6,6.01 z" fill="#fff" opacity="0.08"/><path d="M1883.2,493.83 l6,-9.46 l35.68,3.78 l-6,9.46 z" fill="#fff" opacity="0.06"/><path d="M1893.26,498.37 l6,-6 l48.19,2.4 l-6,6 z" fill="#fff" opacity="0.04"/><path d="M1901.46,498.04 l6,-5.67 l26.4,2.27 l-6,5.67 z" fill="#fff" opacity="0.07"/><path d="M1903.5,505.41 l6,-5.85 l29.07,2.34 l-6,5.85 z" fill="#fff" opacity="0.04"/><path d="M1863.78,516 l6,-8.36 l38.8,3.34 l-6,8.36 z" fill="#000" opacity="0.36"/><path d="M1880.73,516.78 l6,-9.14 l30.81,3.66 l-6,9.14 z" fill="#fff" opacity="0.06"/><path d="M1876.94,526.99 l6,-8.96 l30.36,3.58 l-6,8.96 z" fill="#fff" opacity="0.04"/><path d="M1868.84,527.18 l6,-9.15 l18.99,3.66 l-6,9.15 z" fill="#fff" opacity="0.04"/><path d="M1845.07,532.94 l6,-7.68 l22.36,3.07 l-6,7.68 z" fill="#000" opacity="0.24"/><path d="M1842.46,534.38 l6,-9.12 l25.92,3.65 l-6,9.12 z" fill="#fff" opacity="0.07"/><path d="M1889.85,530.44 l6,-5.18 l39.39,2.07 l-6,5.18 z" fill="#fff" opacity="0.07"/><path d="M1872.03,540.76 l6,-5.8 l57.87,2.32 l-6,5.8 z" fill="#000" opacity="0.32"/><path d="M1852.67,544.43 l6,-9.46 l34.42,3.79 l-6,9.46 z" fill="#fff" opacity="0.05"/><path d="M1850.78,540 l6,-5.03 l53.49,2.01 l-6,5.03 z" fill="#000" opacity="0.31"/><path d="M1869.46,550.5 l6,-6.02 l44.05,2.41 l-6,6.02 z" fill="#000" opacity="0.35"/><path d="M1881.91,550.54 l6,-6.07 l46.71,2.43 l-6,6.07 z" fill="#000" opacity="0.4"/><path d="M1905.37,562.67 l6,-6.31 l55.29,2.52 l-6,6.31 z" fill="#000" opacity="0.15"/><path d="M1872.33,563.07 l6,-6.71 l19.49,2.68 l-6,6.71 z" fill="#fff" opacity="0.04"/><path d="M1901.38,565.7 l6,-9.34 l26.73,3.74 l-6,9.34 z" fill="#fff" opacity="0.03"/><rect x="1841.5" y="560" width="15.15" height="12.56" fill="rgb(44,44,44)"/><rect x="1856.15" y="560" width="20.31" height="12.56" fill="rgb(44,44,44)"/><rect x="1875.96" y="560" width="19.58" height="12.56" fill="rgb(32,32,32)"/><rect x="1895.04" y="560" width="14.78" height="12.56" fill="rgb(40,40,40)"/><rect x="1909.32" y="560" width="15.41" height="12.56" fill="rgb(32,32,32)"/><rect x="1845.67" y="572.06" width="15.82" height="10.76" fill="rgb(34,34,34)"/><rect x="1860.99" y="572.06" width="19.47" height="10.76" fill="rgb(44,44,44)"/><rect x="1879.97" y="572.06" width="17.17" height="10.76" fill="rgb(44,44,44)"/><rect x="1896.63" y="572.06" width="15.67" height="10.76" fill="rgb(40,40,40)"/><rect x="1911.8" y="572.06" width="16.22" height="10.76" fill="rgb(34,34,34)"/><rect x="1841.27" y="582.32" width="19.94" height="12.51" fill="rgb(52,52,52)"/><rect x="1860.71" y="582.32" width="12" height="12.51" fill="rgb(18,18,18)"/><rect x="1872.21" y="582.32" width="11.19" height="12.51" fill="rgb(44,44,44)"/><rect x="1882.9" y="582.32" width="15.79" height="12.51" fill="rgb(52,52,52)"/><rect x="1898.2" y="582.32" width="15.47" height="12.51" fill="rgb(26,26,26)"/><rect x="1913.17" y="582.32" width="15.93" height="12.51" fill="rgb(44,44,44)"/><rect x="1844.74" y="594.33" width="15.96" height="10.51" fill="rgb(20,20,20)"/><rect x="1860.2" y="594.33" width="15.69" height="10.51" fill="rgb(26,26,26)"/><rect x="1875.39" y="594.33" width="16.03" height="10.51" fill="rgb(52,52,52)"/><rect x="1890.92" y="594.33" width="10.96" height="10.51" fill="rgb(24,24,24)"/><rect x="1901.38" y="594.33" width="17.79" height="10.51" fill="rgb(24,24,24)"/><rect x="1918.67" y="594.33" width="20.67" height="10.51" fill="rgb(22,22,22)"/><rect x="1841.26" y="604.35" width="20.58" height="11.74" fill="rgb(34,34,34)"/><rect x="1861.34" y="604.35" width="12.46" height="11.74" fill="rgb(22,22,22)"/><rect x="1873.3" y="604.35" width="11.02" height="11.74" fill="rgb(26,26,26)"/><rect x="1883.82" y="604.35" width="20.31" height="11.74" fill="rgb(40,40,40)"/><rect x="1903.63" y="604.35" width="20.31" height="11.74" fill="rgb(22,22,22)"/><rect x="1846.35" y="615.59" width="14.53" height="12.07" fill="rgb(20,20,20)"/><rect x="1860.38" y="615.59" width="20.6" height="12.07" fill="rgb(28,28,28)"/><rect x="1880.49" y="615.59" width="17.93" height="12.07" fill="rgb(20,20,20)"/><rect x="1897.91" y="615.59" width="9.93" height="12.07" fill="rgb(28,28,28)"/><rect x="1907.34" y="615.59" width="12.23" height="12.07" fill="rgb(60,60,60)"/><rect x="1919.07" y="615.59" width="12.91" height="12.07" fill="rgb(32,32,32)"/><rect x="1843.28" y="627.16" width="10.76" height="11.57" fill="rgb(32,32,32)"/><rect x="1853.54" y="627.16" width="16.49" height="11.57" fill="rgb(18,18,18)"/><rect x="1869.53" y="627.16" width="15.63" height="11.57" fill="rgb(34,34,34)"/><rect x="1884.65" y="627.16" width="18.11" height="11.57" fill="rgb(32,32,32)"/><rect x="1902.26" y="627.16" width="15.86" height="11.57" fill="rgb(26,26,26)"/><rect x="1917.63" y="627.16" width="9.78" height="11.57" fill="rgb(60,60,60)"/><rect x="1843.82" y="638.23" width="11.42" height="11.74" fill="rgb(30,30,30)"/><rect x="1854.74" y="638.23" width="19.87" height="11.74" fill="rgb(44,44,44)"/><rect x="1874.11" y="638.23" width="17.16" height="11.74" fill="rgb(44,44,44)"/><rect x="1890.77" y="638.23" width="12.09" height="11.74" fill="rgb(44,44,44)"/><rect x="1902.36" y="638.23" width="16.84" height="11.74" fill="rgb(18,18,18)"/><rect x="1918.7" y="638.23" width="11.14" height="11.74" fill="rgb(40,40,40)"/><rect x="1842.14" y="649.47" width="20.33" height="12.72" fill="rgb(38,38,38)"/><rect x="1861.97" y="649.47" width="16.74" height="12.72" fill="rgb(40,40,40)"/><rect x="1878.21" y="649.47" width="20.57" height="12.72" fill="rgb(30,30,30)"/><rect x="1898.28" y="649.47" width="18.84" height="12.72" fill="rgb(30,30,30)"/><rect x="1916.62" y="649.47" width="20.15" height="12.72" fill="rgb(28,28,28)"/><rect x="1846.2" y="661.69" width="10.56" height="13.17" fill="rgb(26,26,26)"/><rect x="1856.26" y="661.69" width="10.66" height="13.17" fill="rgb(18,18,18)"/><rect x="1866.43" y="661.69" width="20.79" height="13.17" fill="rgb(44,44,44)"/><rect x="1886.72" y="661.69" width="18.98" height="13.17" fill="rgb(28,28,28)"/><rect x="1905.2" y="661.69" width="11.91" height="13.17" fill="rgb(60,60,60)"/><rect x="1916.61" y="661.69" width="17.72" height="13.17" fill="rgb(20,20,20)"/><rect x="1843.58" y="674.36" width="13.79" height="10.79" fill="rgb(18,18,18)"/><rect x="1856.87" y="674.36" width="21.12" height="10.79" fill="rgb(24,24,24)"/><rect x="1877.49" y="674.36" width="17.96" height="10.79" fill="rgb(60,60,60)"/><rect x="1894.95" y="674.36" width="18.6" height="10.79" fill="rgb(44,44,44)"/><rect x="1913.05" y="674.36" width="21.48" height="10.79" fill="rgb(18,18,18)"/><rect x="1846.58" y="684.65" width="10.77" height="11.07" fill="rgb(20,20,20)"/><rect x="1856.85" y="684.65" width="18.64" height="11.07" fill="rgb(52,52,52)"/><rect x="1874.99" y="684.65" width="15.68" height="11.07" fill="rgb(52,52,52)"/><rect x="1890.17" y="684.65" width="15.28" height="11.07" fill="rgb(30,30,30)"/><rect x="1904.95" y="684.65" width="11.71" height="11.07" fill="rgb(30,30,30)"/><rect x="1916.16" y="684.65" width="11.57" height="11.07" fill="rgb(28,28,28)"/><rect x="1841.44" y="695.21" width="10.64" height="13.47" fill="rgb(20,20,20)"/><rect x="1851.58" y="695.21" width="11.11" height="13.47" fill="rgb(60,60,60)"/><rect x="1862.2" y="695.21" width="15.04" height="13.47" fill="rgb(36,36,36)"/><rect x="1876.74" y="695.21" width="10.66" height="13.47" fill="rgb(26,26,26)"/><rect x="1886.9" y="695.21" width="15.1" height="13.47" fill="rgb(44,44,44)"/><rect x="1901.5" y="695.21" width="13.75" height="13.47" fill="rgb(30,30,30)"/><rect x="1914.76" y="695.21" width="16.71" height="13.47" fill="rgb(20,20,20)"/><rect x="1846.75" y="708.18" width="11.9" height="12.4" fill="rgb(26,26,26)"/><rect x="1858.16" y="708.18" width="14.95" height="12.4" fill="rgb(32,32,32)"/><rect x="1872.61" y="708.18" width="13.94" height="12.4" fill="rgb(40,40,40)"/><rect x="1886.05" y="708.18" width="11.84" height="12.4" fill="rgb(28,28,28)"/><rect x="1897.39" y="708.18" width="10.64" height="12.4" fill="rgb(36,36,36)"/><rect x="1907.53" y="708.18" width="9.69" height="12.4" fill="rgb(40,40,40)"/><rect x="1916.71" y="708.18" width="10.52" height="12.4" fill="rgb(18,18,18)"/><rect x="1841.84" y="720.09" width="17.05" height="12.61" fill="rgb(26,26,26)"/><rect x="1858.39" y="720.09" width="16.34" height="12.61" fill="rgb(30,30,30)"/><rect x="1874.22" y="720.09" width="15.55" height="12.61" fill="rgb(38,38,38)"/><rect x="1889.28" y="720.09" width="19.16" height="12.61" fill="rgb(34,34,34)"/><rect x="1907.93" y="720.09" width="12.85" height="12.61" fill="rgb(24,24,24)"/><rect x="1842.33" y="732.2" width="19.28" height="12.73" fill="rgb(26,26,26)"/><rect x="1861.11" y="732.2" width="11.1" height="12.73" fill="rgb(38,38,38)"/><rect x="1871.71" y="732.2" width="20.06" height="12.73" fill="rgb(32,32,32)"/><rect x="1891.26" y="732.2" width="13.94" height="12.73" fill="rgb(26,26,26)"/><rect x="1904.7" y="732.2" width="18.68" height="12.73" fill="rgb(26,26,26)"/><rect x="1845.89" y="744.43" width="19.07" height="11.12" fill="rgb(34,34,34)"/><rect x="1864.46" y="744.43" width="15.13" height="11.12" fill="rgb(20,20,20)"/><rect x="1879.09" y="744.43" width="20.16" height="11.12" fill="rgb(60,60,60)"/><rect x="1898.74" y="744.43" width="20.33" height="11.12" fill="rgb(20,20,20)"/><rect x="1918.57" y="744.43" width="12.29" height="11.12" fill="rgb(60,60,60)"/><rect x="1845.7" y="755.05" width="14.37" height="11.4" fill="rgb(28,28,28)"/><rect x="1859.58" y="755.05" width="15.9" height="11.4" fill="rgb(26,26,26)"/><rect x="1874.97" y="755.05" width="15.68" height="11.4" fill="rgb(22,22,22)"/><rect x="1890.15" y="755.05" width="17.21" height="11.4" fill="rgb(32,32,32)"/><rect x="1906.86" y="755.05" width="10.94" height="11.4" fill="rgb(26,26,26)"/><rect x="1917.29" y="755.05" width="21.26" height="11.4" fill="rgb(20,20,20)"/><rect x="1846.35" y="765.95" width="12.34" height="10.84" fill="rgb(22,22,22)"/><rect x="1858.2" y="765.95" width="14.32" height="10.84" fill="rgb(20,20,20)"/><rect x="1872.01" y="765.95" width="18.64" height="10.84" fill="rgb(60,60,60)"/><rect x="1890.15" y="765.95" width="14.01" height="10.84" fill="rgb(24,24,24)"/><rect x="1903.66" y="765.95" width="12.6" height="10.84" fill="rgb(34,34,34)"/><rect x="1915.76" y="765.95" width="20.37" height="10.84" fill="rgb(44,44,44)"/><rect x="1844.51" y="776.3" width="15.75" height="12.12" fill="rgb(18,18,18)"/><rect x="1859.75" y="776.3" width="21.44" height="12.12" fill="rgb(60,60,60)"/><rect x="1880.7" y="776.3" width="14.83" height="12.12" fill="rgb(60,60,60)"/><rect x="1895.03" y="776.3" width="10.41" height="12.12" fill="rgb(52,52,52)"/><rect x="1904.94" y="776.3" width="17.52" height="12.12" fill="rgb(20,20,20)"/><rect x="1841.37" y="787.92" width="14.13" height="11.66" fill="rgb(28,28,28)"/><rect x="1855" y="787.92" width="19.77" height="11.66" fill="rgb(44,44,44)"/><rect x="1874.27" y="787.92" width="16.83" height="11.66" fill="rgb(20,20,20)"/><rect x="1890.6" y="787.92" width="14.65" height="11.66" fill="rgb(22,22,22)"/><rect x="1904.76" y="787.92" width="14.55" height="11.66" fill="rgb(44,44,44)"/><rect x="1918.8" y="787.92" width="14.28" height="11.66" fill="rgb(34,34,34)"/><rect x="1845.29" y="799.08" width="17.36" height="11.6" fill="rgb(44,44,44)"/><rect x="1862.15" y="799.08" width="20.65" height="11.6" fill="rgb(60,60,60)"/><rect x="1882.3" y="799.08" width="18.1" height="11.6" fill="rgb(34,34,34)"/><rect x="1899.9" y="799.08" width="9.82" height="11.6" fill="rgb(36,36,36)"/><rect x="1909.22" y="799.08" width="12.44" height="11.6" fill="rgb(20,20,20)"/><rect x="1844.55" y="810.17" width="17.71" height="12.4" fill="rgb(20,20,20)"/><rect x="1861.76" y="810.17" width="20.27" height="12.4" fill="rgb(32,32,32)"/><rect x="1881.53" y="810.17" width="14.27" height="12.4" fill="rgb(52,52,52)"/><rect x="1895.3" y="810.17" width="21.37" height="12.4" fill="rgb(38,38,38)"/><rect x="1916.17" y="810.17" width="10.38" height="12.4" fill="rgb(40,40,40)"/><rect x="1842.69" y="822.07" width="12.51" height="11.17" fill="rgb(36,36,36)"/><rect x="1854.7" y="822.07" width="12.42" height="11.17" fill="rgb(44,44,44)"/><rect x="1866.62" y="822.07" width="10.68" height="11.17" fill="rgb(36,36,36)"/><rect x="1876.8" y="822.07" width="18.17" height="11.17" fill="rgb(22,22,22)"/><rect x="1894.48" y="822.07" width="11.23" height="11.17" fill="rgb(18,18,18)"/><rect x="1905.21" y="822.07" width="12.44" height="11.17" fill="rgb(32,32,32)"/><rect x="1917.15" y="822.07" width="10.88" height="11.17" fill="rgb(52,52,52)"/><rect x="1846.29" y="832.74" width="19.83" height="11.75" fill="rgb(38,38,38)"/><rect x="1865.63" y="832.74" width="15.84" height="11.75" fill="rgb(24,24,24)"/><rect x="1880.96" y="832.74" width="13.86" height="11.75" fill="rgb(28,28,28)"/><rect x="1894.32" y="832.74" width="17.51" height="11.75" fill="rgb(22,22,22)"/><rect x="1911.34" y="832.74" width="16.71" height="11.75" fill="rgb(60,60,60)"/><rect x="1844.48" y="843.99" width="18.84" height="12.25" fill="rgb(44,44,44)"/><rect x="1862.82" y="843.99" width="19.28" height="12.25" fill="rgb(28,28,28)"/><rect x="1881.6" y="843.99" width="20.93" height="12.25" fill="rgb(32,32,32)"/><rect x="1902.03" y="843.99" width="11.05" height="12.25" fill="rgb(22,22,22)"/><rect x="1912.58" y="843.99" width="10.87" height="12.25" fill="rgb(40,40,40)"/><rect x="1843.96" y="855.74" width="19.66" height="11.43" fill="rgb(34,34,34)"/><rect x="1863.11" y="855.74" width="12.76" height="11.43" fill="rgb(60,60,60)"/><rect x="1875.37" y="855.74" width="18.2" height="11.43" fill="rgb(32,32,32)"/><rect x="1893.07" y="855.74" width="16.6" height="11.43" fill="rgb(60,60,60)"/><rect x="1909.17" y="855.74" width="12.84" height="11.43" fill="rgb(30,30,30)"/><rect x="1845.51" y="866.67" width="21.26" height="11.07" fill="rgb(40,40,40)"/><rect x="1866.26" y="866.67" width="11.85" height="11.07" fill="rgb(60,60,60)"/><rect x="1877.61" y="866.67" width="9.97" height="11.07" fill="rgb(20,20,20)"/><rect x="1887.09" y="866.67" width="9.61" height="11.07" fill="rgb(34,34,34)"/><rect x="1896.2" y="866.67" width="14.6" height="11.07" fill="rgb(52,52,52)"/><rect x="1910.3" y="866.67" width="9.96" height="11.07" fill="rgb(30,30,30)"/><rect x="1919.76" y="866.67" width="16" height="11.07" fill="rgb(24,24,24)"/><rect x="1841.52" y="877.24" width="11.43" height="12.77" fill="rgb(30,30,30)"/><rect x="1852.45" y="877.24" width="17.07" height="12.77" fill="rgb(38,38,38)"/><rect x="1869.03" y="877.24" width="15.31" height="12.77" fill="rgb(38,38,38)"/><rect x="1883.83" y="877.24" width="12.03" height="12.77" fill="rgb(38,38,38)"/><rect x="1895.36" y="877.24" width="15.43" height="12.77" fill="rgb(28,28,28)"/><rect x="1910.29" y="877.24" width="19.56" height="12.77" fill="rgb(24,24,24)"/><rect x="1844.32" y="889.5" width="19.36" height="12.91" fill="rgb(18,18,18)"/><rect x="1863.18" y="889.5" width="18.73" height="12.91" fill="rgb(30,30,30)"/><rect x="1881.41" y="889.5" width="14.83" height="12.91" fill="rgb(32,32,32)"/><rect x="1895.74" y="889.5" width="12.6" height="12.91" fill="rgb(36,36,36)"/><rect x="1907.83" y="889.5" width="11.31" height="12.91" fill="rgb(28,28,28)"/><rect x="1918.64" y="889.5" width="17.34" height="12.91" fill="rgb(52,52,52)"/><rect x="1843.71" y="901.91" width="18.45" height="11.48" fill="rgb(40,40,40)"/><rect x="1861.66" y="901.91" width="11.71" height="11.48" fill="rgb(60,60,60)"/><rect x="1872.87" y="901.91" width="13.93" height="11.48" fill="rgb(24,24,24)"/><rect x="1886.3" y="901.91" width="15.04" height="11.48" fill="rgb(38,38,38)"/><rect x="1900.84" y="901.91" width="10.44" height="11.48" fill="rgb(24,24,24)"/><rect x="1910.79" y="901.91" width="14.68" height="11.48" fill="rgb(52,52,52)"/><rect x="1842.89" y="912.89" width="13.09" height="11.95" fill="rgb(36,36,36)"/><rect x="1855.47" y="912.89" width="9.61" height="11.95" fill="rgb(34,34,34)"/><rect x="1864.59" y="912.89" width="12.06" height="11.95" fill="rgb(60,60,60)"/><rect x="1876.15" y="912.89" width="16.74" height="11.95" fill="rgb(32,32,32)"/><rect x="1892.39" y="912.89" width="13.15" height="11.95" fill="rgb(32,32,32)"/><rect x="1905.04" y="912.89" width="18.67" height="11.95" fill="rgb(38,38,38)"/><rect x="1846.14" y="924.34" width="13.79" height="11.35" fill="rgb(32,32,32)"/><rect x="1859.44" y="924.34" width="13.42" height="11.35" fill="rgb(40,40,40)"/><rect x="1872.36" y="924.34" width="10.91" height="11.35" fill="rgb(32,32,32)"/><rect x="1882.77" y="924.34" width="14.79" height="11.35" fill="rgb(52,52,52)"/><rect x="1897.06" y="924.34" width="20.52" height="11.35" fill="rgb(60,60,60)"/><rect x="1917.08" y="924.34" width="20.46" height="11.35" fill="rgb(22,22,22)"/><rect x="1841.05" y="935.19" width="15" height="12.09" fill="rgb(30,30,30)"/><rect x="1855.55" y="935.19" width="14.3" height="12.09" fill="rgb(40,40,40)"/><rect x="1869.34" y="935.19" width="18.26" height="12.09" fill="rgb(44,44,44)"/><rect x="1887.1" y="935.19" width="12.48" height="12.09" fill="rgb(38,38,38)"/><rect x="1899.08" y="935.19" width="19.44" height="12.09" fill="rgb(20,20,20)"/><rect x="1918.02" y="935.19" width="13.86" height="12.09" fill="rgb(26,26,26)"/><rect x="1842.22" y="946.78" width="18.37" height="12.25" fill="rgb(38,38,38)"/><rect x="1860.09" y="946.78" width="19.06" height="12.25" fill="rgb(44,44,44)"/><rect x="1878.65" y="946.78" width="11.36" height="12.25" fill="rgb(52,52,52)"/><rect x="1889.51" y="946.78" width="16.25" height="12.25" fill="rgb(28,28,28)"/><rect x="1905.26" y="946.78" width="10.58" height="12.25" fill="rgb(22,22,22)"/><rect x="1915.34" y="946.78" width="20.07" height="12.25" fill="rgb(34,34,34)"/><rect x="1845.67" y="958.53" width="10.19" height="12.94" fill="rgb(28,28,28)"/><rect x="1855.37" y="958.53" width="16.31" height="12.94" fill="rgb(20,20,20)"/><rect x="1871.17" y="958.53" width="17.31" height="12.94" fill="rgb(36,36,36)"/><rect x="1887.99" y="958.53" width="14.57" height="12.94" fill="rgb(52,52,52)"/><rect x="1902.06" y="958.53" width="16.06" height="12.94" fill="rgb(36,36,36)"/><rect x="1917.62" y="958.53" width="16.05" height="12.94" fill="rgb(38,38,38)"/><rect x="1842.58" y="970.97" width="20.29" height="10.75" fill="rgb(24,24,24)"/><rect x="1862.37" y="970.97" width="9.81" height="10.75" fill="rgb(60,60,60)"/><rect x="1871.68" y="970.97" width="11.23" height="10.75" fill="rgb(32,32,32)"/><rect x="1882.4" y="970.97" width="19.3" height="10.75" fill="rgb(26,26,26)"/><rect x="1901.2" y="970.97" width="12.45" height="10.75" fill="rgb(30,30,30)"/><rect x="1913.14" y="970.97" width="15.37" height="10.75" fill="rgb(40,40,40)"/><rect x="1842.41" y="981.22" width="14.23" height="12.06" fill="rgb(38,38,38)"/><rect x="1856.14" y="981.22" width="19.19" height="12.06" fill="rgb(38,38,38)"/><rect x="1874.83" y="981.22" width="17.57" height="12.06" fill="rgb(22,22,22)"/><rect x="1891.9" y="981.22" width="15.36" height="12.06" fill="rgb(36,36,36)"/><rect x="1906.76" y="981.22" width="18.15" height="12.06" fill="rgb(32,32,32)"/><rect x="1846.72" y="992.78" width="18.58" height="12.35" fill="rgb(60,60,60)"/><rect x="1864.81" y="992.78" width="13.69" height="12.35" fill="rgb(20,20,20)"/><rect x="1878" y="992.78" width="19.17" height="12.35" fill="rgb(18,18,18)"/><rect x="1896.67" y="992.78" width="10.57" height="12.35" fill="rgb(22,22,22)"/><rect x="1906.74" y="992.78" width="20.99" height="12.35" fill="rgb(60,60,60)"/><rect x="1844.83" y="1004.63" width="9.62" height="10.57" fill="rgb(24,24,24)"/><rect x="1853.95" y="1004.63" width="14.56" height="10.57" fill="rgb(26,26,26)"/><rect x="1868.01" y="1004.63" width="20.49" height="10.57" fill="rgb(30,30,30)"/><rect x="1888" y="1004.63" width="18.39" height="10.57" fill="rgb(60,60,60)"/><rect x="1905.89" y="1004.63" width="14.01" height="10.57" fill="rgb(28,28,28)"/><rect x="1919.4" y="1004.63" width="13.35" height="10.57" fill="rgb(26,26,26)"/><rect x="1845.25" y="1014.71" width="21.14" height="11.77" fill="rgb(20,20,20)"/><rect x="1865.88" y="1014.71" width="15.16" height="11.77" fill="rgb(32,32,32)"/><rect x="1880.54" y="1014.71" width="10.88" height="11.77" fill="rgb(60,60,60)"/><rect x="1890.92" y="1014.71" width="11.37" height="11.77" fill="rgb(40,40,40)"/><rect x="1901.79" y="1014.71" width="11.65" height="11.77" fill="rgb(20,20,20)"/><rect x="1912.94" y="1014.71" width="18.54" height="11.77" fill="rgb(20,20,20)"/><rect x="1847" y="1020" width="73" height="60" fill="#3b2417"/><path d="M1847 1024l73-6v8l-73 6z" fill="#4b2f1d"/><path d="M1856 1040l64-4v6l-64 4z" fill="#2b1a10"/><rect x="1847" y="1052" width="73" height="28" fill="#24150c"/><rect x="1862" y="1056" width="40" height="24" fill="#3a2014"/><rect x="1847" y="566" width="22" height="12" fill="#2a3040"/><rect x="1847" y="577.500" width="22" height="12" fill="#5a2a14"/><rect x="1847" y="589" width="42" height="12.500" fill="#262c3c"/><rect x="1847" y="601" width="42" height="62" fill="#5c2e16"/><rect x="1847" y="601" width="33" height="62" fill="#b06028"/><rect x="1850" y="612" width="21" height="42" fill="#c8923a"/><rect x="1852" y="624" width="17" height="26" fill="#d4b868"/><rect x="1854" y="626" width="8" height="10" fill="#c8c09a"/><rect x="1861" y="637" width="8" height="12" fill="#c8c09a"/><rect x="1847" y="662" width="40" height="11" fill="#252b3b"/>
  <rect x="1846" y="0" width="1.200" height="1080" fill="#cfd8e0"/>
  <rect x="1847" y="0" width="73" height="275" fill="#000"/>
  <rect x="1852" y="6" width="68" height="263" fill="#4a4a4a"/>
  <!-- green play button -->
  <rect x="1858" y="12" width="62" height="120" fill="#fff"/>
  <rect x="1864.500" y="18" width="56" height="108" fill="#1ec41e"/>
  <rect x="1870" y="24" width="50" height="102" fill="#23820e"/>
  <rect x="1864.500" y="120" width="56" height="6" fill="#0b5a06"/>
  <g fill="#fff">
    <rect x="1890.500" y="45" width="11.500" height="11"/>
    <rect x="1902" y="55.500" width="11.500" height="11"/>
    <rect x="1913.500" y="65" width="8" height="11.500"/>
    <rect x="1902" y="76.400" width="11.500" height="11"/>
    <rect x="1890.500" y="87.500" width="11.500" height="11.500"/>
  </g>
  <!-- menu button -->
  <rect x="1858" y="144" width="62" height="120" fill="#111"/>
  <rect x="1864.500" y="150" width="56" height="108" fill="#f5f5f5"/>
  <rect x="1870" y="155" width="50" height="97" fill="#c6c6c6"/>
  <rect x="1870" y="252" width="50" height="6" fill="#6d6d6d"/>
  <rect x="1879" y="176" width="41" height="11" fill="#4a4a4a"/>
  <rect x="1879" y="198" width="41" height="11.500" fill="#4a4a4a"/>
  <rect x="1879" y="221" width="41" height="11" fill="#4a4a4a"/>
</svg>
</body>
</html>
